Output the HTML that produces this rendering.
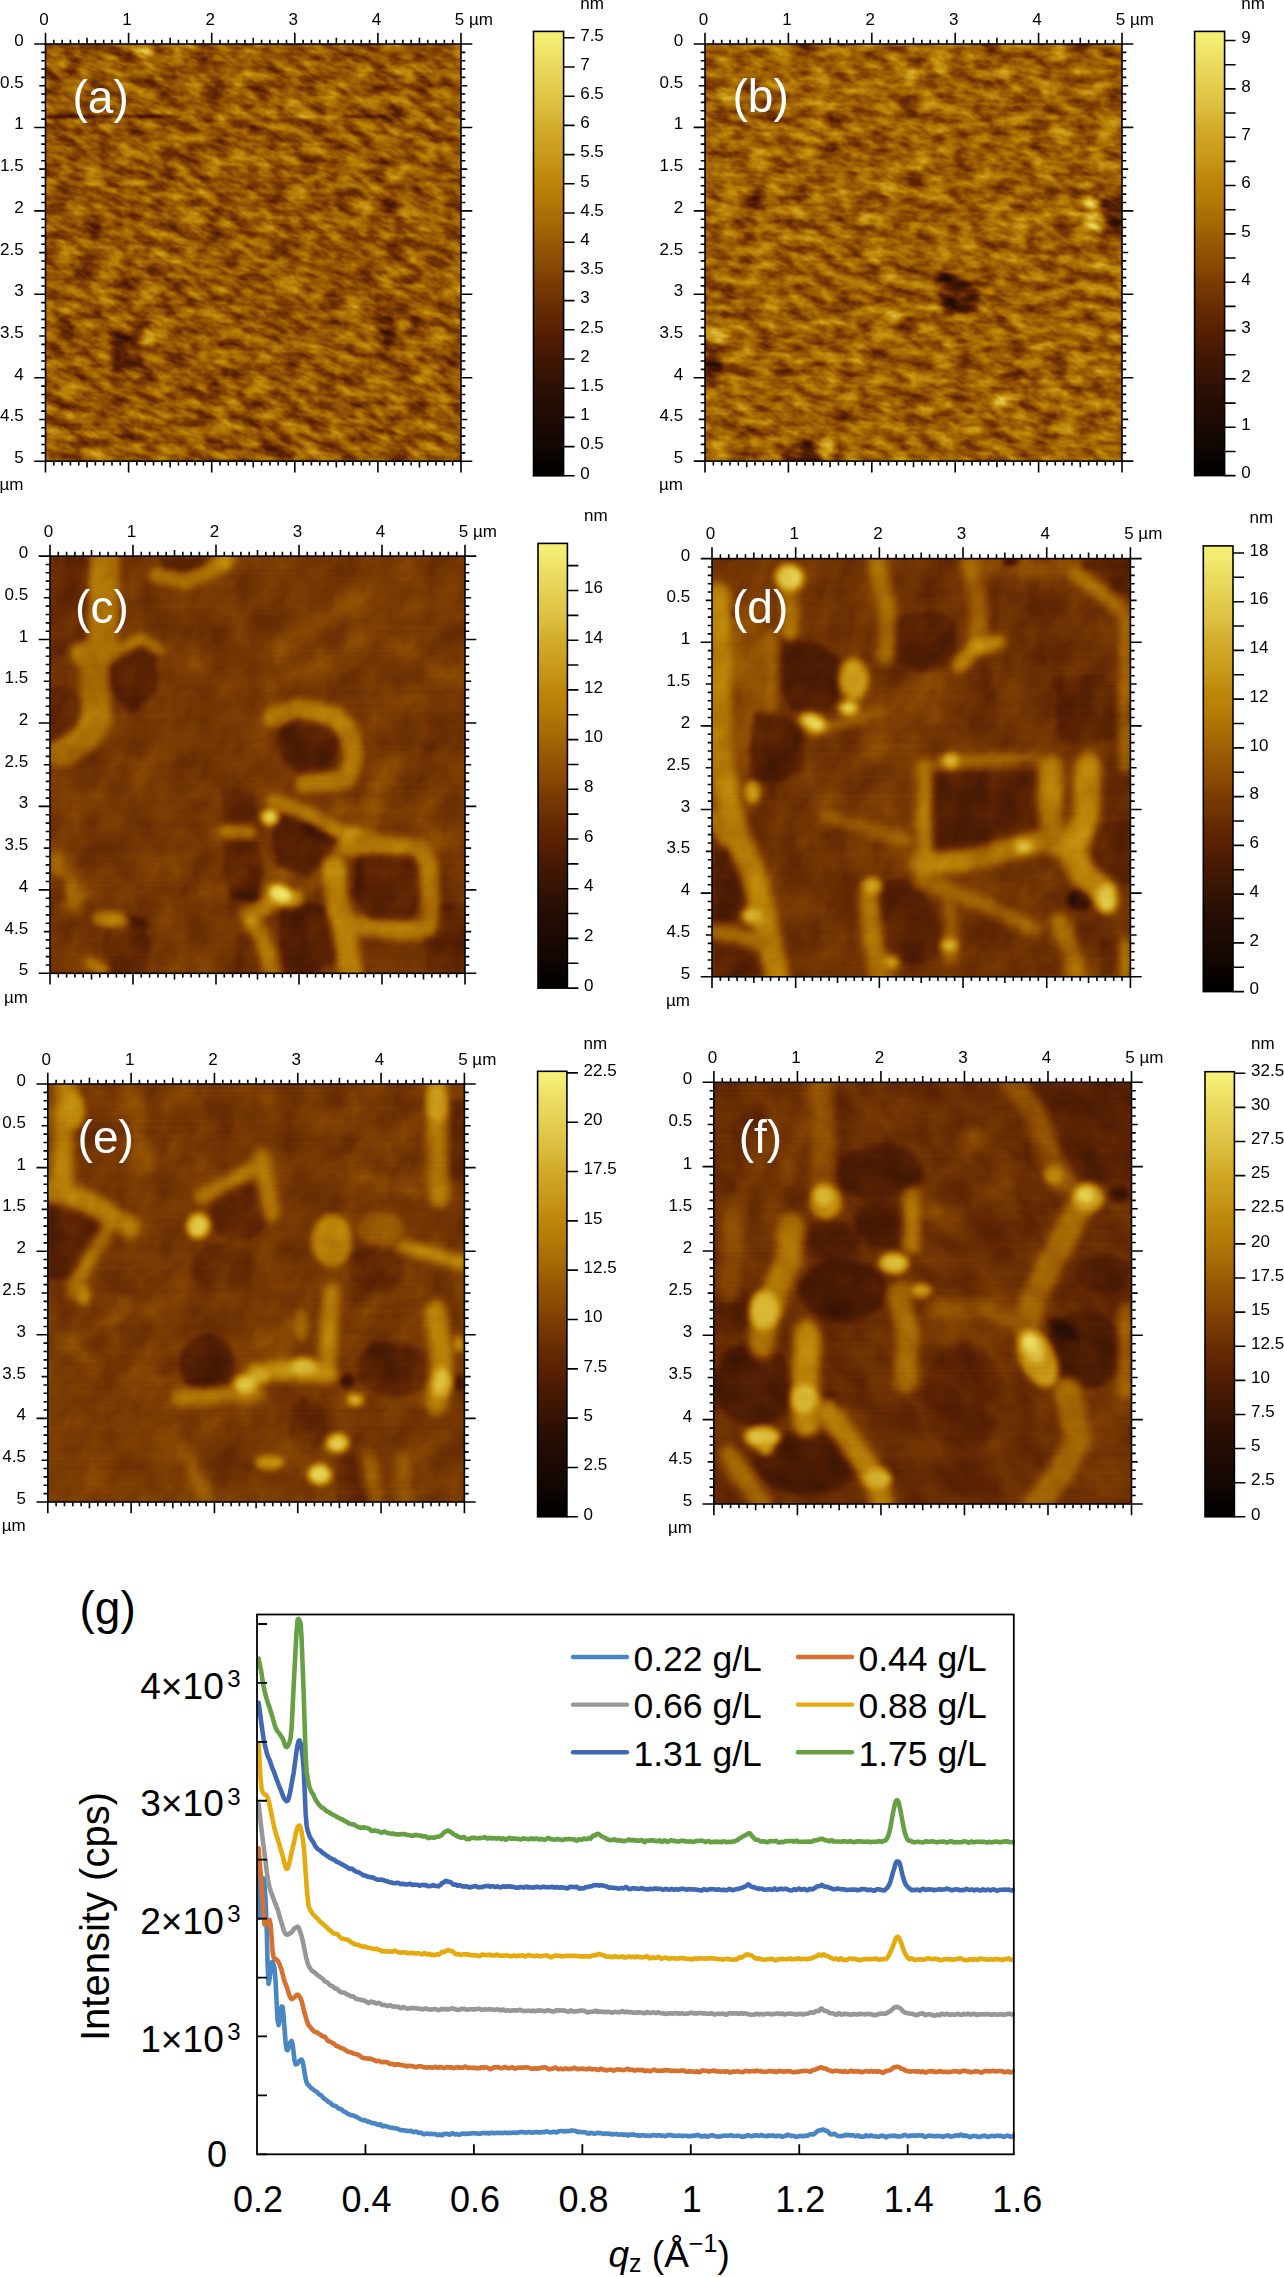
<!DOCTYPE html>
<html><head><meta charset="utf-8"><title>Figure</title>
<style>html,body{margin:0;padding:0;background:#fff;width:1284px;height:2277px;overflow:hidden}svg{display:block}</style>
</head><body>
<svg width="1284" height="2277" viewBox="0 0 1284 2277" font-family="Liberation Sans, sans-serif">
<defs><filter id="af_a" filterUnits="userSpaceOnUse" x="15.5" y="14" width="475.5" height="477.2" color-interpolation-filters="sRGB"><feTurbulence type="fractalNoise" baseFrequency="0.004 0.3" numOctaves="1" seed="11" result="t0"/><feColorMatrix in="t0" type="matrix" values="1 0 0 0 0 1 0 0 0 0 1 0 0 0 0 0 0 0 0 1" result="n0"/><feComposite in="SourceGraphic" in2="n0" operator="arithmetic" k1="0" k2="1" k3="0.08" k4="-0.04" result="h0"/><feComponentTransfer in="h0"><feFuncR type="table" tableValues="0.0000 0.0314 0.0588 0.0863 0.1137 0.1412 0.1647 0.2000 0.2431 0.2824 0.3216 0.3647 0.4039 0.4431 0.4863 0.5255 0.5647 0.6039 0.6392 0.6706 0.7059 0.7333 0.7608 0.7843 0.8078 0.8275 0.8510 0.8706 0.8902 0.9098 0.9294 0.9451 0.9647"/><feFuncG type="table" tableValues="0.0000 0.0118 0.0235 0.0314 0.0431 0.0510 0.0588 0.0706 0.0863 0.1020 0.1176 0.1412 0.1725 0.2039 0.2392 0.2745 0.3176 0.3608 0.4000 0.4392 0.4784 0.5176 0.5569 0.5961 0.6353 0.6784 0.7176 0.7608 0.8000 0.8392 0.8745 0.9098 0.9451"/><feFuncB type="table" tableValues="0.0000 0.0039 0.0078 0.0157 0.0157 0.0157 0.0157 0.0157 0.0157 0.0118 0.0118 0.0118 0.0118 0.0118 0.0118 0.0118 0.0118 0.0157 0.0157 0.0235 0.0275 0.0353 0.0667 0.0941 0.1255 0.1725 0.2157 0.2627 0.3059 0.3490 0.3882 0.4314 0.4706"/><feFuncA type="linear" slope="0" intercept="1"/></feComponentTransfer></filter>
<clipPath id="ac_a"><rect x="45.5" y="44" width="415.5" height="417.2"/></clipPath>
<filter id="ab_a_0" x="-50%" y="-50%" width="200%" height="200%" color-interpolation-filters="sRGB"><feGaussianBlur stdDeviation="3"/></filter>
<filter id="ab_a_1" x="-50%" y="-50%" width="200%" height="200%" color-interpolation-filters="sRGB"><feGaussianBlur stdDeviation="3"/></filter>
<filter id="ab_a_2" x="-50%" y="-50%" width="200%" height="200%" color-interpolation-filters="sRGB"><feGaussianBlur stdDeviation="1"/></filter>
<filter id="gn_a" filterUnits="userSpaceOnUse" x="-76.2" y="-76.8" width="658.8" height="658.8" color-interpolation-filters="sRGB"><feTurbulence type="fractalNoise" baseFrequency="0.045 0.1" numOctaves="3" seed="3" result="t0"/><feColorMatrix in="t0" type="matrix" values="1 0 0 0 0 1 0 0 0 0 1 0 0 0 0 0 0 0 0 1" result="n0"/><feComposite in="SourceGraphic" in2="n0" operator="arithmetic" k1="0" k2="1" k3="0.6" k4="-0.3" result="h0"/></filter>
<filter id="af_b" filterUnits="userSpaceOnUse" x="675" y="14" width="477" height="477.1" color-interpolation-filters="sRGB"><feTurbulence type="fractalNoise" baseFrequency="0.004 0.3" numOctaves="1" seed="13" result="t0"/><feColorMatrix in="t0" type="matrix" values="1 0 0 0 0 1 0 0 0 0 1 0 0 0 0 0 0 0 0 1" result="n0"/><feComposite in="SourceGraphic" in2="n0" operator="arithmetic" k1="0" k2="1" k3="0.08" k4="-0.04" result="h0"/><feComponentTransfer in="h0"><feFuncR type="table" tableValues="0.0000 0.0314 0.0588 0.0863 0.1137 0.1412 0.1647 0.2000 0.2431 0.2824 0.3216 0.3647 0.4039 0.4431 0.4863 0.5255 0.5647 0.6039 0.6392 0.6706 0.7059 0.7333 0.7608 0.7843 0.8078 0.8275 0.8510 0.8706 0.8902 0.9098 0.9294 0.9451 0.9647"/><feFuncG type="table" tableValues="0.0000 0.0118 0.0235 0.0314 0.0431 0.0510 0.0588 0.0706 0.0863 0.1020 0.1176 0.1412 0.1725 0.2039 0.2392 0.2745 0.3176 0.3608 0.4000 0.4392 0.4784 0.5176 0.5569 0.5961 0.6353 0.6784 0.7176 0.7608 0.8000 0.8392 0.8745 0.9098 0.9451"/><feFuncB type="table" tableValues="0.0000 0.0039 0.0078 0.0157 0.0157 0.0157 0.0157 0.0157 0.0157 0.0118 0.0118 0.0118 0.0118 0.0118 0.0118 0.0118 0.0118 0.0157 0.0157 0.0235 0.0275 0.0353 0.0667 0.0941 0.1255 0.1725 0.2157 0.2627 0.3059 0.3490 0.3882 0.4314 0.4706"/><feFuncA type="linear" slope="0" intercept="1"/></feComponentTransfer></filter>
<clipPath id="ac_b"><rect x="705" y="44" width="417" height="417.1"/></clipPath>
<filter id="ab_b_0" x="-50%" y="-50%" width="200%" height="200%" color-interpolation-filters="sRGB"><feGaussianBlur stdDeviation="3"/></filter>
<filter id="ab_b_1" x="-50%" y="-50%" width="200%" height="200%" color-interpolation-filters="sRGB"><feGaussianBlur stdDeviation="3"/></filter>
<filter id="gn_b" filterUnits="userSpaceOnUse" x="583.6" y="-77.3" width="659.8" height="659.8" color-interpolation-filters="sRGB"><feTurbulence type="fractalNoise" baseFrequency="0.045 0.09" numOctaves="3" seed="5" result="t0"/><feColorMatrix in="t0" type="matrix" values="1 0 0 0 0 1 0 0 0 0 1 0 0 0 0 0 0 0 0 1" result="n0"/><feComposite in="SourceGraphic" in2="n0" operator="arithmetic" k1="0" k2="1" k3="0.6" k4="-0.3" result="h0"/></filter>
<filter id="af_c" filterUnits="userSpaceOnUse" x="20" y="526.1" width="475" height="477.2" color-interpolation-filters="sRGB"><feTurbulence type="fractalNoise" baseFrequency="0.004 0.4" numOctaves="1" seed="17" result="t0"/><feColorMatrix in="t0" type="matrix" values="1 0 0 0 0 1 0 0 0 0 1 0 0 0 0 0 0 0 0 1" result="n0"/><feComposite in="SourceGraphic" in2="n0" operator="arithmetic" k1="0" k2="1" k3="0.03" k4="-0.015" result="h0"/><feComponentTransfer in="h0"><feFuncR type="table" tableValues="0.0000 0.0314 0.0588 0.0863 0.1137 0.1412 0.1647 0.2000 0.2431 0.2824 0.3216 0.3647 0.4039 0.4431 0.4863 0.5255 0.5647 0.6039 0.6392 0.6706 0.7059 0.7333 0.7608 0.7843 0.8078 0.8275 0.8510 0.8706 0.8902 0.9098 0.9294 0.9451 0.9647"/><feFuncG type="table" tableValues="0.0000 0.0118 0.0235 0.0314 0.0431 0.0510 0.0588 0.0706 0.0863 0.1020 0.1176 0.1412 0.1725 0.2039 0.2392 0.2745 0.3176 0.3608 0.4000 0.4392 0.4784 0.5176 0.5569 0.5961 0.6353 0.6784 0.7176 0.7608 0.8000 0.8392 0.8745 0.9098 0.9451"/><feFuncB type="table" tableValues="0.0000 0.0039 0.0078 0.0157 0.0157 0.0157 0.0157 0.0157 0.0157 0.0118 0.0118 0.0118 0.0118 0.0118 0.0118 0.0118 0.0118 0.0157 0.0157 0.0235 0.0275 0.0353 0.0667 0.0941 0.1255 0.1725 0.2157 0.2627 0.3059 0.3490 0.3882 0.4314 0.4706"/><feFuncA type="linear" slope="0" intercept="1"/></feComponentTransfer></filter>
<clipPath id="ac_c"><rect x="50" y="556.1" width="415" height="417.2"/></clipPath>
<filter id="ab_c_0" x="-50%" y="-50%" width="200%" height="200%" color-interpolation-filters="sRGB"><feGaussianBlur stdDeviation="6"/></filter>
<filter id="ab_c_1" x="-50%" y="-50%" width="200%" height="200%" color-interpolation-filters="sRGB"><feGaussianBlur stdDeviation="2.5"/></filter>
<filter id="ab_c_2" x="-50%" y="-50%" width="200%" height="200%" color-interpolation-filters="sRGB"><feGaussianBlur stdDeviation="3"/></filter>
<filter id="ab_c_3" x="-50%" y="-50%" width="200%" height="200%" color-interpolation-filters="sRGB"><feGaussianBlur stdDeviation="3.5"/></filter>
<filter id="ab_c_4" x="-50%" y="-50%" width="200%" height="200%" color-interpolation-filters="sRGB"><feGaussianBlur stdDeviation="3"/></filter>
<filter id="gn_c" filterUnits="userSpaceOnUse" x="-71.7" y="435.5" width="658.5" height="658.5" color-interpolation-filters="sRGB"><feTurbulence type="fractalNoise" baseFrequency="0.035 0.025" numOctaves="3" seed="7" result="t0"/><feColorMatrix in="t0" type="matrix" values="1 0 0 0 0 1 0 0 0 0 1 0 0 0 0 0 0 0 0 1" result="n0"/><feComposite in="SourceGraphic" in2="n0" operator="arithmetic" k1="0" k2="1" k3="0.16" k4="-0.08" result="h0"/></filter>
<filter id="af_d" filterUnits="userSpaceOnUse" x="682" y="528.6" width="478.4" height="478.2" color-interpolation-filters="sRGB"><feTurbulence type="fractalNoise" baseFrequency="0.004 0.4" numOctaves="1" seed="19" result="t0"/><feColorMatrix in="t0" type="matrix" values="1 0 0 0 0 1 0 0 0 0 1 0 0 0 0 0 0 0 0 1" result="n0"/><feComposite in="SourceGraphic" in2="n0" operator="arithmetic" k1="0" k2="1" k3="0.03" k4="-0.015" result="h0"/><feComponentTransfer in="h0"><feFuncR type="table" tableValues="0.0000 0.0314 0.0588 0.0863 0.1137 0.1412 0.1647 0.2000 0.2431 0.2824 0.3216 0.3647 0.4039 0.4431 0.4863 0.5255 0.5647 0.6039 0.6392 0.6706 0.7059 0.7333 0.7608 0.7843 0.8078 0.8275 0.8510 0.8706 0.8902 0.9098 0.9294 0.9451 0.9647"/><feFuncG type="table" tableValues="0.0000 0.0118 0.0235 0.0314 0.0431 0.0510 0.0588 0.0706 0.0863 0.1020 0.1176 0.1412 0.1725 0.2039 0.2392 0.2745 0.3176 0.3608 0.4000 0.4392 0.4784 0.5176 0.5569 0.5961 0.6353 0.6784 0.7176 0.7608 0.8000 0.8392 0.8745 0.9098 0.9451"/><feFuncB type="table" tableValues="0.0000 0.0039 0.0078 0.0157 0.0157 0.0157 0.0157 0.0157 0.0157 0.0118 0.0118 0.0118 0.0118 0.0118 0.0118 0.0118 0.0118 0.0157 0.0157 0.0235 0.0275 0.0353 0.0667 0.0941 0.1255 0.1725 0.2157 0.2627 0.3059 0.3490 0.3882 0.4314 0.4706"/><feFuncA type="linear" slope="0" intercept="1"/></feComponentTransfer></filter>
<clipPath id="ac_d"><rect x="712" y="558.6" width="418.4" height="418.2"/></clipPath>
<filter id="ab_d_0" x="-50%" y="-50%" width="200%" height="200%" color-interpolation-filters="sRGB"><feGaussianBlur stdDeviation="8"/></filter>
<filter id="ab_d_1" x="-50%" y="-50%" width="200%" height="200%" color-interpolation-filters="sRGB"><feGaussianBlur stdDeviation="2.5"/></filter>
<filter id="ab_d_2" x="-50%" y="-50%" width="200%" height="200%" color-interpolation-filters="sRGB"><feGaussianBlur stdDeviation="4"/></filter>
<filter id="ab_d_3" x="-50%" y="-50%" width="200%" height="200%" color-interpolation-filters="sRGB"><feGaussianBlur stdDeviation="3.5"/></filter>
<filter id="gn_d" filterUnits="userSpaceOnUse" x="590.4" y="436.9" width="661.6" height="661.6" color-interpolation-filters="sRGB"><feTurbulence type="fractalNoise" baseFrequency="0.035 0.025" numOctaves="3" seed="9" result="t0"/><feColorMatrix in="t0" type="matrix" values="1 0 0 0 0 1 0 0 0 0 1 0 0 0 0 0 0 0 0 1" result="n0"/><feComposite in="SourceGraphic" in2="n0" operator="arithmetic" k1="0" k2="1" k3="0.16" k4="-0.08" result="h0"/></filter>
<filter id="af_e" filterUnits="userSpaceOnUse" x="17.8" y="1054" width="476.6" height="478" color-interpolation-filters="sRGB"><feTurbulence type="fractalNoise" baseFrequency="0.004 0.4" numOctaves="1" seed="23" result="t0"/><feColorMatrix in="t0" type="matrix" values="1 0 0 0 0 1 0 0 0 0 1 0 0 0 0 0 0 0 0 1" result="n0"/><feComposite in="SourceGraphic" in2="n0" operator="arithmetic" k1="0" k2="1" k3="0.03" k4="-0.015" result="h0"/><feComponentTransfer in="h0"><feFuncR type="table" tableValues="0.0000 0.0314 0.0588 0.0863 0.1137 0.1412 0.1647 0.2000 0.2431 0.2824 0.3216 0.3647 0.4039 0.4431 0.4863 0.5255 0.5647 0.6039 0.6392 0.6706 0.7059 0.7333 0.7608 0.7843 0.8078 0.8275 0.8510 0.8706 0.8902 0.9098 0.9294 0.9451 0.9647"/><feFuncG type="table" tableValues="0.0000 0.0118 0.0235 0.0314 0.0431 0.0510 0.0588 0.0706 0.0863 0.1020 0.1176 0.1412 0.1725 0.2039 0.2392 0.2745 0.3176 0.3608 0.4000 0.4392 0.4784 0.5176 0.5569 0.5961 0.6353 0.6784 0.7176 0.7608 0.8000 0.8392 0.8745 0.9098 0.9451"/><feFuncB type="table" tableValues="0.0000 0.0039 0.0078 0.0157 0.0157 0.0157 0.0157 0.0157 0.0157 0.0118 0.0118 0.0118 0.0118 0.0118 0.0118 0.0118 0.0118 0.0157 0.0157 0.0235 0.0275 0.0353 0.0667 0.0941 0.1255 0.1725 0.2157 0.2627 0.3059 0.3490 0.3882 0.4314 0.4706"/><feFuncA type="linear" slope="0" intercept="1"/></feComponentTransfer></filter>
<clipPath id="ac_e"><rect x="47.8" y="1084" width="416.6" height="418"/></clipPath>
<filter id="ab_e_0" x="-50%" y="-50%" width="200%" height="200%" color-interpolation-filters="sRGB"><feGaussianBlur stdDeviation="6"/></filter>
<filter id="ab_e_1" x="-50%" y="-50%" width="200%" height="200%" color-interpolation-filters="sRGB"><feGaussianBlur stdDeviation="2.5"/></filter>
<filter id="ab_e_2" x="-50%" y="-50%" width="200%" height="200%" color-interpolation-filters="sRGB"><feGaussianBlur stdDeviation="3"/></filter>
<filter id="ab_e_3" x="-50%" y="-50%" width="200%" height="200%" color-interpolation-filters="sRGB"><feGaussianBlur stdDeviation="4"/></filter>
<filter id="ab_e_4" x="-50%" y="-50%" width="200%" height="200%" color-interpolation-filters="sRGB"><feGaussianBlur stdDeviation="3"/></filter>
<filter id="gn_e" filterUnits="userSpaceOnUse" x="-74" y="962.9" width="660.2" height="660.2" color-interpolation-filters="sRGB"><feTurbulence type="fractalNoise" baseFrequency="0.035 0.025" numOctaves="3" seed="21" result="t0"/><feColorMatrix in="t0" type="matrix" values="1 0 0 0 0 1 0 0 0 0 1 0 0 0 0 0 0 0 0 1" result="n0"/><feComposite in="SourceGraphic" in2="n0" operator="arithmetic" k1="0" k2="1" k3="0.16" k4="-0.08" result="h0"/></filter>
<filter id="af_f" filterUnits="userSpaceOnUse" x="683.9" y="1052.3" width="477.6" height="481.7" color-interpolation-filters="sRGB"><feTurbulence type="fractalNoise" baseFrequency="0.004 0.4" numOctaves="1" seed="27" result="t0"/><feColorMatrix in="t0" type="matrix" values="1 0 0 0 0 1 0 0 0 0 1 0 0 0 0 0 0 0 0 1" result="n0"/><feComposite in="SourceGraphic" in2="n0" operator="arithmetic" k1="0" k2="1" k3="0.03" k4="-0.015" result="h0"/><feComponentTransfer in="h0"><feFuncR type="table" tableValues="0.0000 0.0314 0.0588 0.0863 0.1137 0.1412 0.1647 0.2000 0.2431 0.2824 0.3216 0.3647 0.4039 0.4431 0.4863 0.5255 0.5647 0.6039 0.6392 0.6706 0.7059 0.7333 0.7608 0.7843 0.8078 0.8275 0.8510 0.8706 0.8902 0.9098 0.9294 0.9451 0.9647"/><feFuncG type="table" tableValues="0.0000 0.0118 0.0235 0.0314 0.0431 0.0510 0.0588 0.0706 0.0863 0.1020 0.1176 0.1412 0.1725 0.2039 0.2392 0.2745 0.3176 0.3608 0.4000 0.4392 0.4784 0.5176 0.5569 0.5961 0.6353 0.6784 0.7176 0.7608 0.8000 0.8392 0.8745 0.9098 0.9451"/><feFuncB type="table" tableValues="0.0000 0.0039 0.0078 0.0157 0.0157 0.0157 0.0157 0.0157 0.0157 0.0118 0.0118 0.0118 0.0118 0.0118 0.0118 0.0118 0.0118 0.0157 0.0157 0.0235 0.0275 0.0353 0.0667 0.0941 0.1255 0.1725 0.2157 0.2627 0.3059 0.3490 0.3882 0.4314 0.4706"/><feFuncA type="linear" slope="0" intercept="1"/></feComponentTransfer></filter>
<clipPath id="ac_f"><rect x="713.9" y="1082.3" width="417.6" height="421.7"/></clipPath>
<filter id="ab_f_0" x="-50%" y="-50%" width="200%" height="200%" color-interpolation-filters="sRGB"><feGaussianBlur stdDeviation="6"/></filter>
<filter id="ab_f_1" x="-50%" y="-50%" width="200%" height="200%" color-interpolation-filters="sRGB"><feGaussianBlur stdDeviation="3"/></filter>
<filter id="ab_f_2" x="-50%" y="-50%" width="200%" height="200%" color-interpolation-filters="sRGB"><feGaussianBlur stdDeviation="4"/></filter>
<filter id="ab_f_3" x="-50%" y="-50%" width="200%" height="200%" color-interpolation-filters="sRGB"><feGaussianBlur stdDeviation="3"/></filter>
<filter id="gn_f" filterUnits="userSpaceOnUse" x="591" y="961.4" width="663.5" height="663.5" color-interpolation-filters="sRGB"><feTurbulence type="fractalNoise" baseFrequency="0.035 0.025" numOctaves="3" seed="25" result="t0"/><feColorMatrix in="t0" type="matrix" values="1 0 0 0 0 1 0 0 0 0 1 0 0 0 0 0 0 0 0 1" result="n0"/><feComposite in="SourceGraphic" in2="n0" operator="arithmetic" k1="0" k2="1" k3="0.14" k4="-0.07" result="h0"/></filter>
<linearGradient id="cg_a" x1="0" y1="0" x2="0" y2="1"><stop offset="0" stop-color="rgb(246,241,120)"/><stop offset="0.03" stop-color="rgb(242,234,112)"/><stop offset="0.05" stop-color="rgb(238,226,103)"/><stop offset="0.07" stop-color="rgb(235,219,95)"/><stop offset="0.1" stop-color="rgb(231,212,87)"/><stop offset="0.12" stop-color="rgb(227,204,78)"/><stop offset="0.15" stop-color="rgb(223,196,69)"/><stop offset="0.18" stop-color="rgb(219,187,60)"/><stop offset="0.2" stop-color="rgb(214,179,50)"/><stop offset="0.22" stop-color="rgb(210,170,41)"/><stop offset="0.25" stop-color="rgb(206,162,32)"/><stop offset="0.28" stop-color="rgb(201,154,26)"/><stop offset="0.3" stop-color="rgb(196,146,20)"/><stop offset="0.32" stop-color="rgb(191,138,14)"/><stop offset="0.35" stop-color="rgb(186,130,8)"/><stop offset="0.38" stop-color="rgb(180,122,7)"/><stop offset="0.4" stop-color="rgb(173,114,6)"/><stop offset="0.43" stop-color="rgb(166,106,5)"/><stop offset="0.45" stop-color="rgb(160,98,4)"/><stop offset="0.47" stop-color="rgb(152,90,4)"/><stop offset="0.5" stop-color="rgb(144,81,3)"/><stop offset="0.53" stop-color="rgb(136,72,3)"/><stop offset="0.55" stop-color="rgb(128,64,3)"/><stop offset="0.57" stop-color="rgb(120,57,3)"/><stop offset="0.6" stop-color="rgb(111,51,3)"/><stop offset="0.62" stop-color="rgb(103,44,3)"/><stop offset="0.65" stop-color="rgb(95,37,3)"/><stop offset="0.68" stop-color="rgb(86,31,3)"/><stop offset="0.7" stop-color="rgb(78,28,3)"/><stop offset="0.72" stop-color="rgb(70,25,3)"/><stop offset="0.75" stop-color="rgb(62,22,4)"/><stop offset="0.78" stop-color="rgb(53,19,4)"/><stop offset="0.8" stop-color="rgb(45,16,4)"/><stop offset="0.82" stop-color="rgb(40,14,4)"/><stop offset="0.85" stop-color="rgb(34,12,4)"/><stop offset="0.88" stop-color="rgb(29,11,4)"/><stop offset="0.9" stop-color="rgb(24,9,4)"/><stop offset="0.93" stop-color="rgb(18,7,3)"/><stop offset="0.95" stop-color="rgb(12,4,2)"/><stop offset="0.97" stop-color="rgb(6,2,1)"/><stop offset="1" stop-color="rgb(0,0,0)"/></linearGradient>
<linearGradient id="cg_b" x1="0" y1="0" x2="0" y2="1"><stop offset="0" stop-color="rgb(246,241,120)"/><stop offset="0.03" stop-color="rgb(242,234,112)"/><stop offset="0.05" stop-color="rgb(238,226,103)"/><stop offset="0.07" stop-color="rgb(235,219,95)"/><stop offset="0.1" stop-color="rgb(231,212,87)"/><stop offset="0.12" stop-color="rgb(227,204,78)"/><stop offset="0.15" stop-color="rgb(223,196,69)"/><stop offset="0.18" stop-color="rgb(219,187,60)"/><stop offset="0.2" stop-color="rgb(214,179,50)"/><stop offset="0.22" stop-color="rgb(210,170,41)"/><stop offset="0.25" stop-color="rgb(206,162,32)"/><stop offset="0.28" stop-color="rgb(201,154,26)"/><stop offset="0.3" stop-color="rgb(196,146,20)"/><stop offset="0.32" stop-color="rgb(191,138,14)"/><stop offset="0.35" stop-color="rgb(186,130,8)"/><stop offset="0.38" stop-color="rgb(180,122,7)"/><stop offset="0.4" stop-color="rgb(173,114,6)"/><stop offset="0.43" stop-color="rgb(166,106,5)"/><stop offset="0.45" stop-color="rgb(160,98,4)"/><stop offset="0.47" stop-color="rgb(152,90,4)"/><stop offset="0.5" stop-color="rgb(144,81,3)"/><stop offset="0.53" stop-color="rgb(136,72,3)"/><stop offset="0.55" stop-color="rgb(128,64,3)"/><stop offset="0.57" stop-color="rgb(120,57,3)"/><stop offset="0.6" stop-color="rgb(111,51,3)"/><stop offset="0.62" stop-color="rgb(103,44,3)"/><stop offset="0.65" stop-color="rgb(95,37,3)"/><stop offset="0.68" stop-color="rgb(86,31,3)"/><stop offset="0.7" stop-color="rgb(78,28,3)"/><stop offset="0.72" stop-color="rgb(70,25,3)"/><stop offset="0.75" stop-color="rgb(62,22,4)"/><stop offset="0.78" stop-color="rgb(53,19,4)"/><stop offset="0.8" stop-color="rgb(45,16,4)"/><stop offset="0.82" stop-color="rgb(40,14,4)"/><stop offset="0.85" stop-color="rgb(34,12,4)"/><stop offset="0.88" stop-color="rgb(29,11,4)"/><stop offset="0.9" stop-color="rgb(24,9,4)"/><stop offset="0.93" stop-color="rgb(18,7,3)"/><stop offset="0.95" stop-color="rgb(12,4,2)"/><stop offset="0.97" stop-color="rgb(6,2,1)"/><stop offset="1" stop-color="rgb(0,0,0)"/></linearGradient>
<linearGradient id="cg_c" x1="0" y1="0" x2="0" y2="1"><stop offset="0" stop-color="rgb(246,241,120)"/><stop offset="0.03" stop-color="rgb(242,234,112)"/><stop offset="0.05" stop-color="rgb(238,226,103)"/><stop offset="0.07" stop-color="rgb(235,219,95)"/><stop offset="0.1" stop-color="rgb(231,212,87)"/><stop offset="0.12" stop-color="rgb(227,204,78)"/><stop offset="0.15" stop-color="rgb(223,196,69)"/><stop offset="0.18" stop-color="rgb(219,187,60)"/><stop offset="0.2" stop-color="rgb(214,179,50)"/><stop offset="0.22" stop-color="rgb(210,170,41)"/><stop offset="0.25" stop-color="rgb(206,162,32)"/><stop offset="0.28" stop-color="rgb(201,154,26)"/><stop offset="0.3" stop-color="rgb(196,146,20)"/><stop offset="0.32" stop-color="rgb(191,138,14)"/><stop offset="0.35" stop-color="rgb(186,130,8)"/><stop offset="0.38" stop-color="rgb(180,122,7)"/><stop offset="0.4" stop-color="rgb(173,114,6)"/><stop offset="0.43" stop-color="rgb(166,106,5)"/><stop offset="0.45" stop-color="rgb(160,98,4)"/><stop offset="0.47" stop-color="rgb(152,90,4)"/><stop offset="0.5" stop-color="rgb(144,81,3)"/><stop offset="0.53" stop-color="rgb(136,72,3)"/><stop offset="0.55" stop-color="rgb(128,64,3)"/><stop offset="0.57" stop-color="rgb(120,57,3)"/><stop offset="0.6" stop-color="rgb(111,51,3)"/><stop offset="0.62" stop-color="rgb(103,44,3)"/><stop offset="0.65" stop-color="rgb(95,37,3)"/><stop offset="0.68" stop-color="rgb(86,31,3)"/><stop offset="0.7" stop-color="rgb(78,28,3)"/><stop offset="0.72" stop-color="rgb(70,25,3)"/><stop offset="0.75" stop-color="rgb(62,22,4)"/><stop offset="0.78" stop-color="rgb(53,19,4)"/><stop offset="0.8" stop-color="rgb(45,16,4)"/><stop offset="0.82" stop-color="rgb(40,14,4)"/><stop offset="0.85" stop-color="rgb(34,12,4)"/><stop offset="0.88" stop-color="rgb(29,11,4)"/><stop offset="0.9" stop-color="rgb(24,9,4)"/><stop offset="0.93" stop-color="rgb(18,7,3)"/><stop offset="0.95" stop-color="rgb(12,4,2)"/><stop offset="0.97" stop-color="rgb(6,2,1)"/><stop offset="1" stop-color="rgb(0,0,0)"/></linearGradient>
<linearGradient id="cg_d" x1="0" y1="0" x2="0" y2="1"><stop offset="0" stop-color="rgb(246,241,120)"/><stop offset="0.03" stop-color="rgb(242,234,112)"/><stop offset="0.05" stop-color="rgb(238,226,103)"/><stop offset="0.07" stop-color="rgb(235,219,95)"/><stop offset="0.1" stop-color="rgb(231,212,87)"/><stop offset="0.12" stop-color="rgb(227,204,78)"/><stop offset="0.15" stop-color="rgb(223,196,69)"/><stop offset="0.18" stop-color="rgb(219,187,60)"/><stop offset="0.2" stop-color="rgb(214,179,50)"/><stop offset="0.22" stop-color="rgb(210,170,41)"/><stop offset="0.25" stop-color="rgb(206,162,32)"/><stop offset="0.28" stop-color="rgb(201,154,26)"/><stop offset="0.3" stop-color="rgb(196,146,20)"/><stop offset="0.32" stop-color="rgb(191,138,14)"/><stop offset="0.35" stop-color="rgb(186,130,8)"/><stop offset="0.38" stop-color="rgb(180,122,7)"/><stop offset="0.4" stop-color="rgb(173,114,6)"/><stop offset="0.43" stop-color="rgb(166,106,5)"/><stop offset="0.45" stop-color="rgb(160,98,4)"/><stop offset="0.47" stop-color="rgb(152,90,4)"/><stop offset="0.5" stop-color="rgb(144,81,3)"/><stop offset="0.53" stop-color="rgb(136,72,3)"/><stop offset="0.55" stop-color="rgb(128,64,3)"/><stop offset="0.57" stop-color="rgb(120,57,3)"/><stop offset="0.6" stop-color="rgb(111,51,3)"/><stop offset="0.62" stop-color="rgb(103,44,3)"/><stop offset="0.65" stop-color="rgb(95,37,3)"/><stop offset="0.68" stop-color="rgb(86,31,3)"/><stop offset="0.7" stop-color="rgb(78,28,3)"/><stop offset="0.72" stop-color="rgb(70,25,3)"/><stop offset="0.75" stop-color="rgb(62,22,4)"/><stop offset="0.78" stop-color="rgb(53,19,4)"/><stop offset="0.8" stop-color="rgb(45,16,4)"/><stop offset="0.82" stop-color="rgb(40,14,4)"/><stop offset="0.85" stop-color="rgb(34,12,4)"/><stop offset="0.88" stop-color="rgb(29,11,4)"/><stop offset="0.9" stop-color="rgb(24,9,4)"/><stop offset="0.93" stop-color="rgb(18,7,3)"/><stop offset="0.95" stop-color="rgb(12,4,2)"/><stop offset="0.97" stop-color="rgb(6,2,1)"/><stop offset="1" stop-color="rgb(0,0,0)"/></linearGradient>
<linearGradient id="cg_e" x1="0" y1="0" x2="0" y2="1"><stop offset="0" stop-color="rgb(246,241,120)"/><stop offset="0.03" stop-color="rgb(242,234,112)"/><stop offset="0.05" stop-color="rgb(238,226,103)"/><stop offset="0.07" stop-color="rgb(235,219,95)"/><stop offset="0.1" stop-color="rgb(231,212,87)"/><stop offset="0.12" stop-color="rgb(227,204,78)"/><stop offset="0.15" stop-color="rgb(223,196,69)"/><stop offset="0.18" stop-color="rgb(219,187,60)"/><stop offset="0.2" stop-color="rgb(214,179,50)"/><stop offset="0.22" stop-color="rgb(210,170,41)"/><stop offset="0.25" stop-color="rgb(206,162,32)"/><stop offset="0.28" stop-color="rgb(201,154,26)"/><stop offset="0.3" stop-color="rgb(196,146,20)"/><stop offset="0.32" stop-color="rgb(191,138,14)"/><stop offset="0.35" stop-color="rgb(186,130,8)"/><stop offset="0.38" stop-color="rgb(180,122,7)"/><stop offset="0.4" stop-color="rgb(173,114,6)"/><stop offset="0.43" stop-color="rgb(166,106,5)"/><stop offset="0.45" stop-color="rgb(160,98,4)"/><stop offset="0.47" stop-color="rgb(152,90,4)"/><stop offset="0.5" stop-color="rgb(144,81,3)"/><stop offset="0.53" stop-color="rgb(136,72,3)"/><stop offset="0.55" stop-color="rgb(128,64,3)"/><stop offset="0.57" stop-color="rgb(120,57,3)"/><stop offset="0.6" stop-color="rgb(111,51,3)"/><stop offset="0.62" stop-color="rgb(103,44,3)"/><stop offset="0.65" stop-color="rgb(95,37,3)"/><stop offset="0.68" stop-color="rgb(86,31,3)"/><stop offset="0.7" stop-color="rgb(78,28,3)"/><stop offset="0.72" stop-color="rgb(70,25,3)"/><stop offset="0.75" stop-color="rgb(62,22,4)"/><stop offset="0.78" stop-color="rgb(53,19,4)"/><stop offset="0.8" stop-color="rgb(45,16,4)"/><stop offset="0.82" stop-color="rgb(40,14,4)"/><stop offset="0.85" stop-color="rgb(34,12,4)"/><stop offset="0.88" stop-color="rgb(29,11,4)"/><stop offset="0.9" stop-color="rgb(24,9,4)"/><stop offset="0.93" stop-color="rgb(18,7,3)"/><stop offset="0.95" stop-color="rgb(12,4,2)"/><stop offset="0.97" stop-color="rgb(6,2,1)"/><stop offset="1" stop-color="rgb(0,0,0)"/></linearGradient>
<linearGradient id="cg_f" x1="0" y1="0" x2="0" y2="1"><stop offset="0" stop-color="rgb(246,241,120)"/><stop offset="0.03" stop-color="rgb(242,234,112)"/><stop offset="0.05" stop-color="rgb(238,226,103)"/><stop offset="0.07" stop-color="rgb(235,219,95)"/><stop offset="0.1" stop-color="rgb(231,212,87)"/><stop offset="0.12" stop-color="rgb(227,204,78)"/><stop offset="0.15" stop-color="rgb(223,196,69)"/><stop offset="0.18" stop-color="rgb(219,187,60)"/><stop offset="0.2" stop-color="rgb(214,179,50)"/><stop offset="0.22" stop-color="rgb(210,170,41)"/><stop offset="0.25" stop-color="rgb(206,162,32)"/><stop offset="0.28" stop-color="rgb(201,154,26)"/><stop offset="0.3" stop-color="rgb(196,146,20)"/><stop offset="0.32" stop-color="rgb(191,138,14)"/><stop offset="0.35" stop-color="rgb(186,130,8)"/><stop offset="0.38" stop-color="rgb(180,122,7)"/><stop offset="0.4" stop-color="rgb(173,114,6)"/><stop offset="0.43" stop-color="rgb(166,106,5)"/><stop offset="0.45" stop-color="rgb(160,98,4)"/><stop offset="0.47" stop-color="rgb(152,90,4)"/><stop offset="0.5" stop-color="rgb(144,81,3)"/><stop offset="0.53" stop-color="rgb(136,72,3)"/><stop offset="0.55" stop-color="rgb(128,64,3)"/><stop offset="0.57" stop-color="rgb(120,57,3)"/><stop offset="0.6" stop-color="rgb(111,51,3)"/><stop offset="0.62" stop-color="rgb(103,44,3)"/><stop offset="0.65" stop-color="rgb(95,37,3)"/><stop offset="0.68" stop-color="rgb(86,31,3)"/><stop offset="0.7" stop-color="rgb(78,28,3)"/><stop offset="0.72" stop-color="rgb(70,25,3)"/><stop offset="0.75" stop-color="rgb(62,22,4)"/><stop offset="0.78" stop-color="rgb(53,19,4)"/><stop offset="0.8" stop-color="rgb(45,16,4)"/><stop offset="0.82" stop-color="rgb(40,14,4)"/><stop offset="0.85" stop-color="rgb(34,12,4)"/><stop offset="0.88" stop-color="rgb(29,11,4)"/><stop offset="0.9" stop-color="rgb(24,9,4)"/><stop offset="0.93" stop-color="rgb(18,7,3)"/><stop offset="0.95" stop-color="rgb(12,4,2)"/><stop offset="0.97" stop-color="rgb(6,2,1)"/><stop offset="1" stop-color="rgb(0,0,0)"/></linearGradient>
<clipPath id="chclip"><rect x="257.9" y="1614.5" width="756.8" height="539.8000000000002"/></clipPath></defs>
<rect width="100%" height="100%" fill="#fff"/>
<g clip-path="url(#ac_a)"><g filter="url(#af_a)"><g transform="rotate(18 253.2 252.6)"><g filter="url(#gn_a)"><g transform="rotate(-18 253.2 252.6)"><rect x="-86.2" y="-86.8" width="678.8" height="678.8" fill="rgb(131,131,131)"/><rect x="15.5" y="14" width="475.5" height="477.2" fill="rgb(131,131,131)"/>
<g filter="url(#ab_a_0)"><polygon points="111.4,334 139,332.4 142.2,364.8 114.7,371.2" fill="rgb(71,71,71)"/><ellipse cx="386.8" cy="329.1" rx="11.3" ry="13" transform="rotate(0 386.8 329.1)" fill="rgb(92,92,92)"/><ellipse cx="381.9" cy="303.2" rx="8.1" ry="13" transform="rotate(0 381.9 303.2)" fill="rgb(102,102,102)"/><ellipse cx="271.8" cy="447.4" rx="16.2" ry="9.7" transform="rotate(0 271.8 447.4)" fill="rgb(102,102,102)"/><ellipse cx="70.9" cy="71.5" rx="8.1" ry="7.1" transform="rotate(0 70.9 71.5)" fill="rgb(102,102,102)"/><ellipse cx="153.5" cy="53.7" rx="9.1" ry="8.1" transform="rotate(0 153.5 53.7)" fill="rgb(102,102,102)"/><ellipse cx="184.3" cy="363.1" rx="9.7" ry="8.1" transform="rotate(0 184.3 363.1)" fill="rgb(107,107,107)"/><ellipse cx="220" cy="381" rx="8.1" ry="6.5" transform="rotate(0 220 381)" fill="rgb(107,107,107)"/><ellipse cx="90.4" cy="225.4" rx="9.7" ry="8.1" transform="rotate(0 90.4 225.4)" fill="rgb(107,107,107)"/><ellipse cx="297.7" cy="238.4" rx="9.7" ry="7.1" transform="rotate(0 297.7 238.4)" fill="rgb(107,107,107)"/></g>
<g filter="url(#ab_a_1)"><ellipse cx="148.7" cy="337.2" rx="7.1" ry="8.1" transform="rotate(0 148.7 337.2)" fill="rgb(199,199,199)"/><ellipse cx="143.8" cy="52.1" rx="7.1" ry="8.1" transform="rotate(0 143.8 52.1)" fill="rgb(194,194,194)"/><ellipse cx="292.9" cy="103.9" rx="6.5" ry="4.9" transform="rotate(0 292.9 103.9)" fill="rgb(194,194,194)"/><ellipse cx="330.1" cy="116.9" rx="5.8" ry="2.6" transform="rotate(0 330.1 116.9)" fill="rgb(217,217,217)"/><ellipse cx="187.6" cy="219" rx="4.9" ry="3.2" transform="rotate(0 187.6 219)" fill="rgb(189,189,189)"/><ellipse cx="278.3" cy="283.8" rx="5.8" ry="3.9" transform="rotate(0 278.3 283.8)" fill="rgb(184,184,184)"/><ellipse cx="203.8" cy="350.2" rx="4.9" ry="8.1" transform="rotate(0 203.8 350.2)" fill="rgb(184,184,184)"/></g>
<g filter="url(#ab_a_2)"><rect x="45" y="115.6" width="136.1" height="1.9" fill="rgb(56,56,56)"/><rect x="343.1" y="115.6" width="42.1" height="1.9" fill="rgb(61,61,61)"/><rect x="271.8" y="115.9" width="64.8" height="1.6" fill="rgb(184,184,184)"/></g></g></g></g></g></g>
<g clip-path="url(#ac_b)"><g filter="url(#af_b)"><g transform="rotate(12 913.5 252.6)"><g filter="url(#gn_b)"><g transform="rotate(-12 913.5 252.6)"><rect x="573.6" y="-87.3" width="679.8" height="679.8" fill="rgb(138,138,138)"/><rect x="675" y="14" width="477" height="477.1" fill="rgb(138,138,138)"/>
<g filter="url(#ab_b_0)"><polygon points="937.2,271.3 955.1,273 977.8,294.1 977.8,313.6 945.3,315.2 938.2,290.8" fill="rgb(71,71,71)"/><polygon points="1096.3,206.4 1107.7,196.6 1123.9,186.9 1123.9,235.6 1111,230.7" fill="rgb(69,69,69)"/><polygon points="705,336.3 718,346 724.5,360.6 711.5,381.8 705,381.8" fill="rgb(71,71,71)"/><polygon points="784.6,448.3 812.2,438.6 823.5,462.9 782.9,462.9" fill="rgb(84,84,84)"/><ellipse cx="1010.3" cy="372" rx="11.4" ry="9.1" transform="rotate(0 1010.3 372)" fill="rgb(102,102,102)"/><ellipse cx="757" cy="199.9" rx="9.7" ry="8.1" transform="rotate(0 757 199.9)" fill="rgb(107,107,107)"/><ellipse cx="841.4" cy="310.3" rx="8.1" ry="9.7" transform="rotate(0 841.4 310.3)" fill="rgb(107,107,107)"/></g>
<g filter="url(#ab_b_1)"><ellipse cx="1094.7" cy="222" rx="9.7" ry="9.7" transform="rotate(0 1094.7 222)" fill="rgb(209,209,209)"/><ellipse cx="1088.2" cy="202.5" rx="7.1" ry="5.8" transform="rotate(0 1088.2 202.5)" fill="rgb(199,199,199)"/><ellipse cx="828.4" cy="447.7" rx="7.1" ry="9.7" transform="rotate(0 828.4 447.7)" fill="rgb(209,209,209)"/><ellipse cx="910.3" cy="74.9" rx="7.8" ry="5.2" transform="rotate(0 910.3 74.9)" fill="rgb(204,204,204)"/><ellipse cx="1007" cy="74.9" rx="5.8" ry="4.5" transform="rotate(0 1007 74.9)" fill="rgb(194,194,194)"/><ellipse cx="714.7" cy="337.9" rx="11.4" ry="8.1" transform="rotate(0 714.7 337.9)" fill="rgb(189,189,189)"/><ellipse cx="891.7" cy="318.4" rx="7.1" ry="8.1" transform="rotate(0 891.7 318.4)" fill="rgb(194,194,194)"/><ellipse cx="864.1" cy="222" rx="5.8" ry="4.9" transform="rotate(0 864.1 222)" fill="rgb(189,189,189)"/><ellipse cx="1036.3" cy="165.8" rx="4.9" ry="5.8" transform="rotate(0 1036.3 165.8)" fill="rgb(189,189,189)"/><ellipse cx="1000.5" cy="401.2" rx="8.1" ry="5.8" transform="rotate(0 1000.5 401.2)" fill="rgb(189,189,189)"/><ellipse cx="1075.2" cy="352.5" rx="4.9" ry="3.9" transform="rotate(0 1075.2 352.5)" fill="rgb(189,189,189)"/></g></g></g></g></g></g>
<g clip-path="url(#ac_c)"><g filter="url(#af_c)"><g transform="rotate(20 257.5 764.7)"><g filter="url(#gn_c)"><g transform="rotate(-20 257.5 764.7)"><rect x="-81.7" y="425.5" width="678.5" height="678.5" fill="rgb(107,107,107)"/><rect x="20" y="526.1" width="475" height="477.2" fill="rgb(107,107,107)"/>
<g filter="url(#ab_c_0)"><polyline points="256.9,893.2 297.3,852.7 321.5,820.4 353.8,804.3" fill="none" stroke="rgb(121,121,121)" stroke-width="16.5" stroke-linecap="round" stroke-linejoin="round"/><polyline points="370,828.5 373.2,788.7 386.1,762.9" fill="none" stroke="rgb(121,121,121)" stroke-width="16.5" stroke-linecap="round" stroke-linejoin="round"/><polyline points="410.4,812.3 437.9,846.9" fill="none" stroke="rgb(121,121,121)" stroke-width="16.5" stroke-linecap="round" stroke-linejoin="round"/><polyline points="276.2,653 373.2,588.3" fill="none" stroke="rgb(121,121,121)" stroke-width="16.5" stroke-linecap="round" stroke-linejoin="round"/><polyline points="292.4,678.8 421.7,604.5" fill="none" stroke="rgb(121,121,121)" stroke-width="16.5" stroke-linecap="round" stroke-linejoin="round"/><polyline points="373.2,636.8 465,685.3" fill="none" stroke="rgb(120,120,120)" stroke-width="16.5" stroke-linecap="round" stroke-linejoin="round"/><polyline points="50,753.2 75.9,743.5 101.7,730.6" fill="none" stroke="rgb(140,140,140)" stroke-width="16.5" stroke-linecap="round" stroke-linejoin="round"/><polyline points="54.8,860.8 69.4,879.3 74.2,901.2" fill="none" stroke="rgb(138,138,138)" stroke-width="19.2" stroke-linecap="round" stroke-linejoin="round"/><ellipse cx="195.4" cy="664.3" rx="6.5" ry="5.8" transform="rotate(0 195.4 664.3)" fill="rgb(143,143,143)"/></g>
<g filter="url(#ab_c_1)"><polygon points="50,556 92,556 95.2,575.4 88.8,636.8 72.6,656.2 50,653" fill="rgb(92,92,92)"/><polygon points="109.8,662.7 140.5,643.9 156.7,651.4 158.3,691.8 130.8,714.4 113,691.8" fill="rgb(84,84,84)"/><polygon points="50,685.3 77.5,690.2 82.3,717.6 69.4,740.3 50,741.9" fill="rgb(89,89,89)"/><polygon points="159.9,556 211.6,556 205.1,568.9 179.3,577 163.1,580.2" fill="rgb(84,84,84)"/><polygon points="276.2,730.6 295.6,712.8 334.4,722.5 339.9,743.5 328,766.1 305.3,779 282.7,761.3" fill="rgb(82,82,82)"/><polygon points="221.3,788.1 253.6,790.4 257.5,814.6 243.9,825.9 224.5,825.9" fill="rgb(92,92,92)"/><polygon points="274.6,814.6 302.1,811.4 334.4,834 331.2,859.9 308.6,877 276.2,866.3 271.4,840.5" fill="rgb(82,82,82)"/><polygon points="224.5,840.5 257.5,840.5 263.3,872.8 256.9,901.2 231,898.7 222.9,872.8" fill="rgb(87,87,87)"/><polygon points="358.7,851.8 416.8,851.8 420.1,898.7 412,922.9 370,925.5 357,898.7" fill="rgb(82,82,82)"/><polygon points="281.1,906.7 318.3,904.5 340.9,927.7 339.3,960.1 315,973 282.7,973 277.9,937.4" fill="rgb(82,82,82)"/><polygon points="104.9,921.3 140.5,916.4 150.2,943.9 147,973 108.2,973 103.3,950.4" fill="rgb(87,87,87)"/><polygon points="426.5,905.1 466.9,903.5 466.9,973 426.5,973 424.9,937.4" fill="rgb(87,87,87)"/><polygon points="424.9,714.4 466.9,707.9 466.9,750 431.4,753.2" fill="rgb(99,99,99)"/><polygon points="235.8,933.6 273,935.8 276.2,973 235.8,973" fill="rgb(92,92,92)"/><polygon points="50,876 62.9,877.6 66.2,901.2 50,901.9" fill="rgb(97,97,97)"/><ellipse cx="428.8" cy="747.4" rx="5.8" ry="5.8" transform="rotate(0 428.8 747.4)" fill="rgb(92,92,92)"/></g>
<g filter="url(#ab_c_2)"><polyline points="305.3,825.3 337.7,839.8" fill="none" stroke="rgb(56,56,56)" stroke-width="11" stroke-linecap="round" stroke-linejoin="round"/><polyline points="124.3,917.4 145.3,923.9" fill="none" stroke="rgb(61,61,61)" stroke-width="5.5" stroke-linecap="round" stroke-linejoin="round"/><polyline points="235.8,893.8 257.5,898.7" fill="none" stroke="rgb(61,61,61)" stroke-width="6.6" stroke-linecap="round" stroke-linejoin="round"/><polyline points="358.7,859.9 358.7,898.7" fill="none" stroke="rgb(71,71,71)" stroke-width="5.5" stroke-linecap="round" stroke-linejoin="round"/><polyline points="340.9,892.2 373.2,895.4" fill="none" stroke="rgb(76,76,76)" stroke-width="4.4" stroke-linecap="round" stroke-linejoin="round"/><polyline points="298.9,906.7 324.7,910" fill="none" stroke="rgb(71,71,71)" stroke-width="5.5" stroke-linecap="round" stroke-linejoin="round"/><polyline points="434.6,905.1 444.3,908.3" fill="none" stroke="rgb(71,71,71)" stroke-width="5.5" stroke-linecap="round" stroke-linejoin="round"/><polyline points="114.6,665.9 114.6,691.8" fill="none" stroke="rgb(76,76,76)" stroke-width="5.5" stroke-linecap="round" stroke-linejoin="round"/><polyline points="308.6,779 331.2,766.1" fill="none" stroke="rgb(76,76,76)" stroke-width="5.5" stroke-linecap="round" stroke-linejoin="round"/></g>
<g filter="url(#ab_c_3)"><polyline points="104.9,556 103.3,601.3 101.7,646.5" fill="none" stroke="rgb(153,153,153)" stroke-width="30.2" stroke-linecap="round" stroke-linejoin="round"/><polyline points="101.7,646.5 93.6,665.9 95.2,691.8 98.5,714.4 85.6,737 62.9,753.2" fill="none" stroke="rgb(150,150,150)" stroke-width="27.5" stroke-linecap="round" stroke-linejoin="round"/><polyline points="80.7,653 106.6,653" fill="none" stroke="rgb(153,153,153)" stroke-width="22" stroke-linecap="round" stroke-linejoin="round"/><polyline points="109.8,654.6 140.5,638.4 159.9,649.7" fill="none" stroke="rgb(148,148,148)" stroke-width="9.9" stroke-linecap="round" stroke-linejoin="round"/><polyline points="156.7,575.4 185.7,581.9 211.6,570.5 227.8,556" fill="none" stroke="rgb(153,153,153)" stroke-width="15.4" stroke-linecap="round" stroke-linejoin="round"/><polyline points="273,717.6 295.6,707.9 334.4,716 349,730.6 353.8,756.4 347.4,779 324.7,782.3 305.3,783.9" fill="none" stroke="rgb(158,158,158)" stroke-width="19.2" stroke-linecap="round" stroke-linejoin="round"/><polyline points="273,801 308.6,814.6 342.5,833.4 370,836.6" fill="none" stroke="rgb(153,153,153)" stroke-width="14.3" stroke-linecap="round" stroke-linejoin="round"/><polyline points="256.9,911.6 276.2,898.7 295.6,898.7" fill="none" stroke="rgb(168,168,168)" stroke-width="16.5" stroke-linecap="round" stroke-linejoin="round"/><polyline points="334.4,866.3 336,895.4 344.1,927.7 350.6,973" fill="none" stroke="rgb(163,163,163)" stroke-width="23.1" stroke-linecap="round" stroke-linejoin="round"/><polyline points="345.7,846.9 373.2,844.7 418.5,846.9 429.8,866.3 431.4,905.1 428.2,927.7 405.5,931 370,927.7 357,924.5" fill="none" stroke="rgb(158,158,158)" stroke-width="17.6" stroke-linecap="round" stroke-linejoin="round"/><polyline points="247.2,914.8 260.1,931 273,973" fill="none" stroke="rgb(153,153,153)" stroke-width="16.5" stroke-linecap="round" stroke-linejoin="round"/><polyline points="98.5,918 121.1,919.7" fill="none" stroke="rgb(158,158,158)" stroke-width="13.7" stroke-linecap="round" stroke-linejoin="round"/><polyline points="224.5,830.8 250.4,832.4" fill="none" stroke="rgb(158,158,158)" stroke-width="12.1" stroke-linecap="round" stroke-linejoin="round"/><polyline points="90.4,963.3 103.3,969.8" fill="none" stroke="rgb(153,153,153)" stroke-width="11" stroke-linecap="round" stroke-linejoin="round"/></g>
<g filter="url(#ab_c_4)"><ellipse cx="269.8" cy="817.2" rx="9" ry="7.8" transform="rotate(0 269.8 817.2)" fill="rgb(230,230,230)"/><ellipse cx="280.1" cy="893.8" rx="12.3" ry="8.4" transform="rotate(25 280.1 893.8)" fill="rgb(242,242,242)"/><ellipse cx="352.2" cy="835" rx="9" ry="6.5" transform="rotate(0 352.2 835)" fill="rgb(173,173,173)"/><ellipse cx="335.1" cy="872.1" rx="8.1" ry="8.1" transform="rotate(0 335.1 872.1)" fill="rgb(173,173,173)"/><ellipse cx="224.5" cy="564.1" rx="6.5" ry="7.1" transform="rotate(0 224.5 564.1)" fill="rgb(168,168,168)"/><ellipse cx="108.2" cy="919.7" rx="9" ry="5.2" transform="rotate(0 108.2 919.7)" fill="rgb(163,163,163)"/><ellipse cx="252" cy="919.7" rx="5.2" ry="5.2" transform="rotate(0 252 919.7)" fill="rgb(184,184,184)"/></g></g></g></g></g></g>
<g clip-path="url(#ac_d)"><g filter="url(#af_d)"><g transform="rotate(20 921.2 767.7)"><g filter="url(#gn_d)"><g transform="rotate(-20 921.2 767.7)"><rect x="580.4" y="426.9" width="681.6" height="681.6" fill="rgb(101,101,101)"/><rect x="682" y="528.6" width="478.4" height="478.2" fill="rgb(101,101,101)"/>
<g filter="url(#ab_d_0)"><rect x="712" y="558" width="61.9" height="37.4" fill="rgb(105,105,105)"/><rect x="728.3" y="595.4" width="37.4" height="172.5" fill="rgb(128,128,128)"/><polygon points="992,577.5 1130,603.6 1130,665.4 992,655.7" fill="rgb(98,98,98)"/><polygon points="790.1,577.5 887.8,577.5 887.8,632.9 790.1,632.9" fill="rgb(107,107,107)"/><polygon points="809.7,766.4 920.3,766.4 920.3,877.1 809.7,877.1" fill="rgb(105,105,105)"/><polygon points="803.2,590.6 858.5,590.6 858.5,631.3 803.2,631.3" fill="rgb(99,99,99)"/><polygon points="894.3,558 956.2,558 956.2,613.3 894.3,613.3" fill="rgb(99,99,99)"/><polygon points="969.8,655.7 1067.5,655.7 1067.5,704.5 969.8,704.5" fill="rgb(99,99,99)"/><polygon points="921,671.9 945.4,671.9 945.4,720.8 921,720.8" fill="rgb(128,128,128)"/><polygon points="974.7,558 1083.8,558 1083.8,574.3 974.7,574.3" fill="rgb(133,133,133)"/><polygon points="817.8,881 858.5,881 858.5,921.7 817.8,921.7" fill="rgb(97,97,97)"/><polygon points="1034.9,937.9 1067.5,937.9 1067.5,978 1034.9,978" fill="rgb(99,99,99)"/><polygon points="858.5,696.4 921,696.4 921,768 858.5,768" fill="rgb(115,115,115)"/></g>
<g filter="url(#ab_d_1)"><polygon points="780.4,636.1 819.4,644.3 839,657.3 839,698 825.9,712.6 793.4,711 780.4,688.2" fill="rgb(76,76,76)"/><polygon points="754.3,711 790.1,717.5 803.2,733.8 803.2,768 783.6,782.6 751.1,782.6 749.4,753.3" fill="rgb(82,82,82)"/><polygon points="891,616.6 939.9,610.1 956.8,623.1 956.2,665.4 920.3,671.9 894.3,662.2" fill="rgb(84,84,84)"/><polygon points="929.1,773.5 991,770.3 991,850 937.3,863.1 929.1,848.4" fill="rgb(79,79,79)"/><polygon points="991,770.3 1041.5,771.9 1044.7,828.9 1012.2,843.5 991,850" fill="rgb(87,87,87)"/><polygon points="878,880.3 907.3,878.7 926.9,896.6 940.5,922.6 939.9,958.4 920.3,963.3 884.5,961.7 876.4,922.6" fill="rgb(84,84,84)"/><polygon points="712,835.4 728.3,847.8 749.4,899.8 744.6,921.7 712,921.7" fill="rgb(82,82,82)"/><polygon points="712,936.3 764.1,937.3 777.1,948.7 780.4,978 712,978" fill="rgb(84,84,84)"/><polygon points="1056.1,678.5 1096.1,675.2 1116.3,681.7 1116.3,737.1 1086.4,745.2 1057.1,740.3" fill="rgb(87,87,87)"/><polygon points="1091.9,824 1132,818.5 1132,884.2 1091.9,884.2" fill="rgb(84,84,84)"/><polygon points="1096.1,759.8 1132,753.3 1132,818.5 1096.1,815.2" fill="rgb(92,92,92)"/><polygon points="1083.8,558 1132,558 1132,593.8 1096.1,590.6 1083.8,577.5" fill="rgb(89,89,89)"/><polygon points="1100,937.9 1132,935.7 1132,978 1100,978" fill="rgb(89,89,89)"/><ellipse cx="1079.9" cy="899.8" rx="12.4" ry="10.4" transform="rotate(0 1079.9 899.8)" fill="rgb(56,56,56)"/><ellipse cx="1010.5" cy="561.3" rx="8.1" ry="4.6" transform="rotate(0 1010.5 561.3)" fill="rgb(64,64,64)"/><ellipse cx="731.5" cy="613.3" rx="4.9" ry="4.9" transform="rotate(0 731.5 613.3)" fill="rgb(76,76,76)"/><ellipse cx="1023.5" cy="756.6" rx="11.4" ry="6.5" transform="rotate(0 1023.5 756.6)" fill="rgb(71,71,71)"/></g>
<g filter="url(#ab_d_2)"><polyline points="718.5,595.4 719.2,655.7 720.1,720.8 721.8,769.6 731.5,818.5 751.1,867.3 764.1,916.1 777.1,978" fill="none" stroke="rgb(163,163,163)" stroke-width="24.2" stroke-linecap="round" stroke-linejoin="round"/><polyline points="712,818.5 728.3,838" fill="none" stroke="rgb(153,153,153)" stroke-width="17.6" stroke-linecap="round" stroke-linejoin="round"/><polyline points="788.5,577.5 790.1,606.8 790.1,631.3" fill="none" stroke="rgb(153,153,153)" stroke-width="17.6" stroke-linecap="round" stroke-linejoin="round"/><polyline points="770.6,636.1 770.6,704.5" fill="none" stroke="rgb(140,140,140)" stroke-width="13.2" stroke-linecap="round" stroke-linejoin="round"/><polyline points="874.8,558 887.8,606.8 884.5,655.7" fill="none" stroke="rgb(148,148,148)" stroke-width="17.6" stroke-linecap="round" stroke-linejoin="round"/><polyline points="969.8,558 978.9,603.6 979.6,642.6" fill="none" stroke="rgb(143,143,143)" stroke-width="17.6" stroke-linecap="round" stroke-linejoin="round"/><polyline points="959.4,665.4 978,645.9 998.5,642.6" fill="none" stroke="rgb(163,163,163)" stroke-width="15.4" stroke-linecap="round" stroke-linejoin="round"/><polyline points="1075.6,574.3 1099.4,590.6 1122.8,611.7" fill="none" stroke="rgb(153,153,153)" stroke-width="15.4" stroke-linecap="round" stroke-linejoin="round"/><polyline points="1125.4,606.8 1125.4,768" fill="none" stroke="rgb(143,143,143)" stroke-width="12.3" stroke-linecap="round" stroke-linejoin="round"/><polyline points="924.9,766.4 923.6,818.5 926.9,864" fill="none" stroke="rgb(163,163,163)" stroke-width="15.4" stroke-linecap="round" stroke-linejoin="round"/><polyline points="933.4,763.1 988.7,759.8 1034.3,756.6" fill="none" stroke="rgb(143,143,143)" stroke-width="11" stroke-linecap="round" stroke-linejoin="round"/><polyline points="921,864.7 972.4,859.1 1018.7,846.8 1053.8,838" fill="none" stroke="rgb(158,158,158)" stroke-width="22" stroke-linecap="round" stroke-linejoin="round"/><polyline points="1050.6,767 1050.6,818.5 1057.1,844.5" fill="none" stroke="rgb(158,158,158)" stroke-width="24.2" stroke-linecap="round" stroke-linejoin="round"/><polyline points="1088,767 1086.4,818.5 1070.1,851 1083.1,873.8 1102.7,890.1" fill="none" stroke="rgb(166,166,166)" stroke-width="26.4" stroke-linecap="round" stroke-linejoin="round"/><polyline points="825.9,815.8 865,828.2 907.3,840.3" fill="none" stroke="rgb(140,140,140)" stroke-width="13.2" stroke-linecap="round" stroke-linejoin="round"/><polyline points="868.3,893.3 871.5,932.4 879.7,978" fill="none" stroke="rgb(153,153,153)" stroke-width="19.8" stroke-linecap="round" stroke-linejoin="round"/><polyline points="943.1,886.8 952.9,922.6 949.6,958.4" fill="none" stroke="rgb(143,143,143)" stroke-width="13.2" stroke-linecap="round" stroke-linejoin="round"/><polyline points="712,932.4 738,935.7 764.1,945.4" fill="none" stroke="rgb(153,153,153)" stroke-width="15.4" stroke-linecap="round" stroke-linejoin="round"/><polyline points="921,881 986.1,905.4 1034.9,929.8" fill="none" stroke="rgb(140,140,140)" stroke-width="15.4" stroke-linecap="round" stroke-linejoin="round"/><polyline points="1059.4,921.7 1070.1,948.7 1076.6,978" fill="none" stroke="rgb(148,148,148)" stroke-width="19.8" stroke-linecap="round" stroke-linejoin="round"/><polyline points="1125.4,942.2 1125.4,978" fill="none" stroke="rgb(166,166,166)" stroke-width="11" stroke-linecap="round" stroke-linejoin="round"/><polyline points="809.7,730.5 852,720.8 881.3,711" fill="none" stroke="rgb(143,143,143)" stroke-width="11" stroke-linecap="round" stroke-linejoin="round"/></g>
<g filter="url(#ab_d_3)"><ellipse cx="789.2" cy="577.5" rx="13.7" ry="13" transform="rotate(30 789.2 577.5)" fill="rgb(224,224,224)"/><ellipse cx="853.6" cy="679.1" rx="14.6" ry="20.2" transform="rotate(0 853.6 679.1)" fill="rgb(184,184,184)"/><ellipse cx="848.7" cy="708.4" rx="9.8" ry="7.2" transform="rotate(0 848.7 708.4)" fill="rgb(230,230,230)"/><ellipse cx="812.9" cy="722.4" rx="13" ry="8.1" transform="rotate(20 812.9 722.4)" fill="rgb(230,230,230)"/><ellipse cx="978" cy="645.9" rx="8.1" ry="6.5" transform="rotate(0 978 645.9)" fill="rgb(184,184,184)"/><ellipse cx="950.3" cy="760.5" rx="8.1" ry="7.2" transform="rotate(0 950.3 760.5)" fill="rgb(209,209,209)"/><ellipse cx="1023.5" cy="846.8" rx="9.1" ry="5.9" transform="rotate(0 1023.5 846.8)" fill="rgb(217,217,217)"/><ellipse cx="949.6" cy="945.4" rx="8.1" ry="5.9" transform="rotate(0 949.6 945.4)" fill="rgb(217,217,217)"/><ellipse cx="1106.6" cy="898.9" rx="10.4" ry="14.7" transform="rotate(0 1106.6 898.9)" fill="rgb(217,217,217)"/><ellipse cx="752.7" cy="916.1" rx="11.4" ry="8.1" transform="rotate(0 752.7 916.1)" fill="rgb(199,199,199)"/><ellipse cx="872.2" cy="885.8" rx="9.8" ry="8.1" transform="rotate(0 872.2 885.8)" fill="rgb(204,204,204)"/><ellipse cx="891" cy="962.3" rx="8.1" ry="6.5" transform="rotate(0 891 962.3)" fill="rgb(191,191,191)"/><ellipse cx="752.7" cy="792.4" rx="8.1" ry="11.4" transform="rotate(0 752.7 792.4)" fill="rgb(184,184,184)"/></g></g></g></g></g></g>
<g clip-path="url(#ac_e)"><g filter="url(#af_e)"><g transform="rotate(25 256.1 1293)"><g filter="url(#gn_e)"><g transform="rotate(-25 256.1 1293)"><rect x="-84" y="952.9" width="680.2" height="680.2" fill="rgb(107,107,107)"/><rect x="17.8" y="1054" width="476.6" height="478" fill="rgb(107,107,107)"/>
<g filter="url(#ab_e_0)"><polyline points="63.2,1338.3 103.8,1370.8" fill="none" stroke="rgb(133,133,133)" stroke-width="7.1" stroke-linecap="round" stroke-linejoin="round"/><polyline points="120.1,1301 152.5,1313.9" fill="none" stroke="rgb(133,133,133)" stroke-width="7.1" stroke-linecap="round" stroke-linejoin="round"/><polyline points="87.6,1333.4 128.2,1309.1" fill="none" stroke="rgb(130,130,130)" stroke-width="7.1" stroke-linecap="round" stroke-linejoin="round"/><polyline points="261.3,1097 339.3,1132.7 404.2,1165.2" fill="none" stroke="rgb(130,130,130)" stroke-width="7.1" stroke-linecap="round" stroke-linejoin="round"/><polyline points="274.3,1132.7 355.5,1174.9 410.7,1191.2" fill="none" stroke="rgb(130,130,130)" stroke-width="7.1" stroke-linecap="round" stroke-linejoin="round"/><polyline points="176.9,1439 193.1,1470.5 209.4,1501.4" fill="none" stroke="rgb(138,138,138)" stroke-width="11.8" stroke-linecap="round" stroke-linejoin="round"/><polyline points="401,1455.2 407.5,1501.4" fill="none" stroke="rgb(138,138,138)" stroke-width="11.8" stroke-linecap="round" stroke-linejoin="round"/><polyline points="128.2,1084 137.9,1123 147.7,1165.2" fill="none" stroke="rgb(128,128,128)" stroke-width="11.8" stroke-linecap="round" stroke-linejoin="round"/><ellipse cx="100.6" cy="1142.5" rx="30.9" ry="40.6" transform="rotate(0 100.6 1142.5)" fill="rgb(105,105,105)"/><polygon points="274.3,1084 420.5,1084 420.5,1174.9 274.3,1174.9" fill="rgb(107,107,107)"/><polygon points="209.4,1325.3 255.5,1325.3 255.5,1365.9 209.4,1365.9" fill="rgb(107,107,107)"/><polygon points="47,1376.3 176.9,1376.3 176.9,1501.4 47,1501.4" fill="rgb(112,112,112)"/></g>
<g filter="url(#ab_e_1)"><polygon points="47,1194.4 63.2,1197.7 107.1,1226.9 95.7,1254.5 71.4,1278.9 47,1278.9" fill="rgb(84,84,84)"/><ellipse cx="238.6" cy="1212.3" rx="29.2" ry="29.9" transform="rotate(0 238.6 1212.3)" fill="rgb(87,87,87)"/><ellipse cx="222.4" cy="1267.5" rx="30.9" ry="26" transform="rotate(0 222.4 1267.5)" fill="rgb(94,94,94)"/><ellipse cx="207.1" cy="1364" rx="27.6" ry="29.2" transform="rotate(0 207.1 1364)" fill="rgb(82,82,82)"/><ellipse cx="394.5" cy="1369.8" rx="39" ry="27.6" transform="rotate(0 394.5 1369.8)" fill="rgb(89,89,89)"/><ellipse cx="375" cy="1267.5" rx="29.2" ry="24.4" transform="rotate(0 375 1267.5)" fill="rgb(94,94,94)"/><ellipse cx="307.8" cy="1426.6" rx="20.1" ry="28.6" transform="rotate(0 307.8 1426.6)" fill="rgb(97,97,97)"/><polygon points="336,1457.5 368.5,1455.9 368.5,1503 336,1503" fill="rgb(92,92,92)"/><polygon points="449.7,1100.2 465.9,1100.2 465.9,1181.4 449.7,1181.4" fill="rgb(89,89,89)"/><polygon points="267.8,1239.9 306.8,1239.9 311.7,1278.9 274.3,1285.4" fill="rgb(102,102,102)"/><ellipse cx="347.4" cy="1381.2" rx="7.1" ry="6.5" transform="rotate(0 347.4 1381.2)" fill="rgb(56,56,56)"/><ellipse cx="381.5" cy="1350.3" rx="14.6" ry="8.1" transform="rotate(0 381.5 1350.3)" fill="rgb(76,76,76)"/><ellipse cx="459.5" cy="1382.8" rx="4.9" ry="8.1" transform="rotate(0 459.5 1382.8)" fill="rgb(64,64,64)"/><ellipse cx="202.9" cy="1382.8" rx="17.9" ry="5.8" transform="rotate(0 202.9 1382.8)" fill="rgb(71,71,71)"/></g>
<g filter="url(#ab_e_2)"><ellipse cx="331.8" cy="1240.5" rx="20.1" ry="26.6" transform="rotate(0 331.8 1240.5)" fill="rgb(168,168,168)"/><ellipse cx="379.9" cy="1228.5" rx="24.4" ry="17.9" transform="rotate(0 379.9 1228.5)" fill="rgb(128,128,128)"/><ellipse cx="275" cy="1338.3" rx="20.1" ry="30.9" transform="rotate(0 275 1338.3)" fill="rgb(115,115,115)"/><ellipse cx="301" cy="1325.3" rx="7.1" ry="16.2" transform="rotate(0 301 1325.3)" fill="rgb(140,140,140)"/></g>
<g filter="url(#ab_e_3)"><polyline points="66.5,1084 63.2,1132.7 61.6,1181.4" fill="none" stroke="rgb(158,158,158)" stroke-width="21.2" stroke-linecap="round" stroke-linejoin="round"/><polyline points="47,1191.2 87.6,1200.9 120.1,1222 129.8,1226.9" fill="none" stroke="rgb(163,163,163)" stroke-width="21.2" stroke-linecap="round" stroke-linejoin="round"/><polyline points="107.1,1230.2 89.2,1259.4 71.4,1291.9" fill="none" stroke="rgb(153,153,153)" stroke-width="13.2" stroke-linecap="round" stroke-linejoin="round"/><polyline points="201.3,1197.7 228.9,1181.4 255.5,1168.4" fill="none" stroke="rgb(158,158,158)" stroke-width="14.1" stroke-linecap="round" stroke-linejoin="round"/><polyline points="261.3,1157.1 267.8,1187.9 271.1,1213.9" fill="none" stroke="rgb(158,158,158)" stroke-width="16.5" stroke-linecap="round" stroke-linejoin="round"/><polyline points="436.7,1084 436.7,1139.2 440,1197.7" fill="none" stroke="rgb(163,163,163)" stroke-width="18.8" stroke-linecap="round" stroke-linejoin="round"/><polyline points="404.2,1246.4 436.7,1256.1 464,1262.6" fill="none" stroke="rgb(173,173,173)" stroke-width="13.2" stroke-linecap="round" stroke-linejoin="round"/><polyline points="180.2,1397.4 215.9,1395.8 255.5,1392.5" fill="none" stroke="rgb(158,158,158)" stroke-width="16.5" stroke-linecap="round" stroke-linejoin="round"/><polyline points="254.9,1373.1 290.6,1369.8 327.9,1373.1" fill="none" stroke="rgb(178,178,178)" stroke-width="18.8" stroke-linecap="round" stroke-linejoin="round"/><polyline points="331.2,1292.8 329.5,1327.6 327.9,1357.8" fill="none" stroke="rgb(163,163,163)" stroke-width="16.5" stroke-linecap="round" stroke-linejoin="round"/><polyline points="436.7,1311.4 441.6,1360.1 436.7,1405.5" fill="none" stroke="rgb(168,168,168)" stroke-width="21.2" stroke-linecap="round" stroke-linejoin="round"/><polyline points="368.5,1457.5 375,1501.4" fill="none" stroke="rgb(140,140,140)" stroke-width="13.2" stroke-linecap="round" stroke-linejoin="round"/></g>
<g filter="url(#ab_e_4)"><ellipse cx="198" cy="1225.9" rx="11.4" ry="12.3" transform="rotate(0 198 1225.9)" fill="rgb(217,217,217)"/><ellipse cx="73" cy="1110" rx="11.4" ry="19.5" transform="rotate(0 73 1110)" fill="rgb(178,178,178)"/><ellipse cx="436.7" cy="1103.5" rx="9.7" ry="17.9" transform="rotate(0 436.7 1103.5)" fill="rgb(184,184,184)"/><ellipse cx="355.5" cy="1400" rx="8.1" ry="5.8" transform="rotate(0 355.5 1400)" fill="rgb(204,204,204)"/><ellipse cx="245.1" cy="1383.8" rx="11.4" ry="9.1" transform="rotate(0 245.1 1383.8)" fill="rgb(219,219,219)"/><ellipse cx="303.6" cy="1366.6" rx="12.3" ry="8.1" transform="rotate(0 303.6 1366.6)" fill="rgb(209,209,209)"/><ellipse cx="261.3" cy="1375.7" rx="9.1" ry="6.5" transform="rotate(0 261.3 1375.7)" fill="rgb(204,204,204)"/><ellipse cx="441.6" cy="1382.8" rx="9.1" ry="14.6" transform="rotate(0 441.6 1382.8)" fill="rgb(209,209,209)"/><ellipse cx="337.7" cy="1442.9" rx="11.4" ry="9.1" transform="rotate(0 337.7 1442.9)" fill="rgb(224,224,224)"/><ellipse cx="319.8" cy="1474.7" rx="11.4" ry="10.4" transform="rotate(0 319.8 1474.7)" fill="rgb(230,230,230)"/><ellipse cx="269.5" cy="1462.4" rx="14.6" ry="7.1" transform="rotate(0 269.5 1462.4)" fill="rgb(178,178,178)"/><ellipse cx="458.8" cy="1343.8" rx="4.5" ry="8.1" transform="rotate(0 458.8 1343.8)" fill="rgb(184,184,184)"/><ellipse cx="82.7" cy="1295.1" rx="8.1" ry="9.7" transform="rotate(0 82.7 1295.1)" fill="rgb(168,168,168)"/></g></g></g></g></g></g>
<g clip-path="url(#ac_f)"><g filter="url(#af_f)"><g transform="rotate(-40 922.7 1293.2)"><g filter="url(#gn_f)"><g transform="rotate(40 922.7 1293.2)"><rect x="581" y="951.4" width="683.5" height="683.5" fill="rgb(97,97,97)"/><rect x="683.9" y="1052.3" width="477.6" height="481.7" fill="rgb(97,97,97)"/>
<g filter="url(#ab_f_0)"><polyline points="729.3,1228.5 786.2,1098.3" fill="none" stroke="rgb(115,115,115)" stroke-width="14.6" stroke-linecap="round" stroke-linejoin="round"/><polyline points="761.8,1244.8 810.7,1098.3" fill="none" stroke="rgb(112,112,112)" stroke-width="11.7" stroke-linecap="round" stroke-linejoin="round"/><polyline points="843.2,1082 892,1130.8" fill="none" stroke="rgb(112,112,112)" stroke-width="11.7" stroke-linecap="round" stroke-linejoin="round"/><polyline points="922,1196 1006,1114.6" fill="none" stroke="rgb(112,112,112)" stroke-width="11.7" stroke-linecap="round" stroke-linejoin="round"/><polyline points="940.9,1228.5 1006,1179.7" fill="none" stroke="rgb(112,112,112)" stroke-width="11.7" stroke-linecap="round" stroke-linejoin="round"/><ellipse cx="973.4" cy="1135.7" rx="9.8" ry="8.1" transform="rotate(0 973.4 1135.7)" fill="rgb(128,128,128)"/><ellipse cx="934.4" cy="1209" rx="9.8" ry="8.1" transform="rotate(0 934.4 1209)" fill="rgb(128,128,128)"/><polygon points="922,1293 1035.9,1293 1035.9,1339.2 922,1339.2" fill="rgb(107,107,107)"/><polygon points="1076.6,1375.1 1133,1375.1 1133,1505.3 1076.6,1505.3" fill="rgb(107,107,107)"/><polygon points="934.4,1342.5 1025.5,1342.5 1025.5,1407.6 934.4,1407.6" fill="rgb(102,102,102)"/></g>
<g filter="url(#ab_f_1)"><ellipse cx="879" cy="1171.5" rx="43.9" ry="27.7" transform="rotate(-5 879 1171.5)" fill="rgb(74,74,74)"/><ellipse cx="882.9" cy="1224.3" rx="28.6" ry="25.4" transform="rotate(0 882.9 1224.3)" fill="rgb(76,76,76)"/><ellipse cx="831.8" cy="1240.6" rx="27.7" ry="20.2" transform="rotate(0 831.8 1240.6)" fill="rgb(79,79,79)"/><ellipse cx="843.2" cy="1290.4" rx="43.9" ry="30.9" transform="rotate(0 843.2 1290.4)" fill="rgb(71,71,71)"/><ellipse cx="753.7" cy="1384.2" rx="40.7" ry="41.7" transform="rotate(0 753.7 1384.2)" fill="rgb(74,74,74)"/><ellipse cx="806.8" cy="1462.3" rx="53.7" ry="30.9" transform="rotate(0 806.8 1462.3)" fill="rgb(71,71,71)"/><polygon points="1022.9,1082 1133,1082 1133,1182.9 1064.6,1179.7 1038.5,1147.1" fill="rgb(82,82,82)"/><ellipse cx="1085.7" cy="1350" rx="39.1" ry="39.1" transform="rotate(0 1085.7 1350)" fill="rgb(74,74,74)"/><ellipse cx="1103.7" cy="1274.1" rx="27.7" ry="20.2" transform="rotate(0 1103.7 1274.1)" fill="rgb(79,79,79)"/><ellipse cx="962.7" cy="1398.8" rx="40.7" ry="55.4" transform="rotate(0 962.7 1398.8)" fill="rgb(87,87,87)"/><ellipse cx="1032" cy="1443.4" rx="36.5" ry="52.1" transform="rotate(0 1032 1443.4)" fill="rgb(97,97,97)"/><ellipse cx="962.7" cy="1476" rx="40.7" ry="27.7" transform="rotate(0 962.7 1476)" fill="rgb(92,92,92)"/><ellipse cx="732.5" cy="1309.9" rx="19.5" ry="26" transform="rotate(0 732.5 1309.9)" fill="rgb(84,84,84)"/><ellipse cx="1119.9" cy="1194.3" rx="9.8" ry="8.1" transform="rotate(0 1119.9 1194.3)" fill="rgb(54,54,54)"/><ellipse cx="1064.6" cy="1329.5" rx="17.9" ry="8.1" transform="rotate(30 1064.6 1329.5)" fill="rgb(48,48,48)"/><ellipse cx="830.2" cy="1404.4" rx="9.8" ry="13" transform="rotate(0 830.2 1404.4)" fill="rgb(59,59,59)"/></g>
<g filter="url(#ab_f_2)"><polyline points="822.1,1082 823.7,1130.8 822.1,1179.7" fill="none" stroke="rgb(128,128,128)" stroke-width="23.4" stroke-linecap="round" stroke-linejoin="round"/><polyline points="791.1,1225.3 787.9,1261.1 774.9,1293 765.1,1319.7 761.8,1345.1" fill="none" stroke="rgb(153,153,153)" stroke-width="26.4" stroke-linecap="round" stroke-linejoin="round"/><polyline points="807.4,1333.7 805.8,1375.1 805.8,1423.2" fill="none" stroke="rgb(168,168,168)" stroke-width="26.4" stroke-linecap="round" stroke-linejoin="round"/><polyline points="826.9,1410.2 859.5,1455.8 875.8,1480.2 882.3,1504" fill="none" stroke="rgb(158,158,158)" stroke-width="23.4" stroke-linecap="round" stroke-linejoin="round"/><polyline points="737.4,1204.1 732.5,1244.8 729.3,1293" fill="none" stroke="rgb(122,122,122)" stroke-width="20.5" stroke-linecap="round" stroke-linejoin="round"/><polyline points="1013.2,1082 1038.5,1121.1 1052.2,1163.4 1065.2,1182.9" fill="none" stroke="rgb(128,128,128)" stroke-width="23.4" stroke-linecap="round" stroke-linejoin="round"/><polyline points="1076.6,1212.2 1052.2,1261.1 1035.9,1293 1025.5,1325.6" fill="none" stroke="rgb(143,143,143)" stroke-width="26.4" stroke-linecap="round" stroke-linejoin="round"/><polyline points="1067.8,1390.7 1077.6,1440.2 1061.3,1472.7 1035.9,1504" fill="none" stroke="rgb(143,143,143)" stroke-width="26.4" stroke-linecap="round" stroke-linejoin="round"/><polyline points="900.2,1293 908.3,1342.5 905.1,1382.5" fill="none" stroke="rgb(148,148,148)" stroke-width="23.4" stroke-linecap="round" stroke-linejoin="round"/><polyline points="729.3,1455.8 745.6,1479.3 761.8,1504" fill="none" stroke="rgb(148,148,148)" stroke-width="20.5" stroke-linecap="round" stroke-linejoin="round"/><polyline points="911.6,1196 911.6,1244.8" fill="none" stroke="rgb(158,158,158)" stroke-width="17.6" stroke-linecap="round" stroke-linejoin="round"/><polyline points="934.4,1309.9 989.7,1309.9 1025.5,1325.6" fill="none" stroke="rgb(128,128,128)" stroke-width="17.6" stroke-linecap="round" stroke-linejoin="round"/><polyline points="1125.5,1309.9 1125.5,1391.3" fill="none" stroke="rgb(140,140,140)" stroke-width="14.6" stroke-linecap="round" stroke-linejoin="round"/></g>
<g filter="url(#ab_f_3)"><ellipse cx="825.3" cy="1200.9" rx="16.3" ry="17.9" transform="rotate(0 825.3 1200.9)" fill="rgb(168,168,168)"/><ellipse cx="823.7" cy="1196" rx="9.1" ry="9.8" transform="rotate(0 823.7 1196)" fill="rgb(209,209,209)"/><ellipse cx="1088" cy="1197.6" rx="16.3" ry="14.7" transform="rotate(0 1088 1197.6)" fill="rgb(184,184,184)"/><ellipse cx="1085.7" cy="1194.3" rx="9.1" ry="8.1" transform="rotate(0 1085.7 1194.3)" fill="rgb(224,224,224)"/><ellipse cx="1053.8" cy="1174.8" rx="9.8" ry="9.8" transform="rotate(0 1053.8 1174.8)" fill="rgb(168,168,168)"/><ellipse cx="893.7" cy="1263.4" rx="14.6" ry="10.4" transform="rotate(0 893.7 1263.4)" fill="rgb(209,209,209)"/><ellipse cx="921.3" cy="1290.4" rx="9.8" ry="7.2" transform="rotate(0 921.3 1290.4)" fill="rgb(189,189,189)"/><ellipse cx="764.4" cy="1309.9" rx="14.6" ry="19.5" transform="rotate(0 764.4 1309.9)" fill="rgb(204,204,204)"/><ellipse cx="1037.6" cy="1358.1" rx="17.9" ry="30.9" transform="rotate(-25 1037.6 1358.1)" fill="rgb(184,184,184)"/><ellipse cx="1033.7" cy="1349" rx="9.8" ry="16.3" transform="rotate(-25 1033.7 1349)" fill="rgb(219,219,219)"/><ellipse cx="1030.4" cy="1342.5" rx="8.1" ry="7.2" transform="rotate(0 1030.4 1342.5)" fill="rgb(242,242,242)"/><ellipse cx="804.2" cy="1398.8" rx="13" ry="14.7" transform="rotate(0 804.2 1398.8)" fill="rgb(214,214,214)"/><ellipse cx="762.5" cy="1436.9" rx="17.9" ry="10.4" transform="rotate(0 762.5 1436.9)" fill="rgb(209,209,209)"/><ellipse cx="877.4" cy="1478.6" rx="13.7" ry="9.8" transform="rotate(0 877.4 1478.6)" fill="rgb(204,204,204)"/><ellipse cx="765.7" cy="1448.3" rx="8.1" ry="6.5" transform="rotate(0 765.7 1448.3)" fill="rgb(178,178,178)"/></g></g></g></g></g></g>
<text x="72.5" y="112.5" font-size="46" fill="#fff">(a)</text>
<text x="732.5" y="111.5" font-size="46" fill="#fff">(b)</text>
<text x="75.1" y="622.7" font-size="46" fill="#fff">(c)</text>
<text x="732" y="623.4" font-size="46" fill="#fff">(d)</text>
<text x="77.6" y="1153.4" font-size="46" fill="#fff">(e)</text>
<text x="738.7" y="1153" font-size="46" fill="#fff">(f)</text>
<g font-size="17" fill="#000"><rect x="45.5" y="44" width="415.5" height="417.2" fill="none" stroke="#000" stroke-width="1.6"/>
<path d="M45.5 44V32.7M45.5 461.2V472.5M45.5 44H34.2M461 44H472.3M53.81 44V39.7M53.81 461.2V465.5M45.5 52.34H41.2M461 52.34H465.3M62.12 44V39.7M62.12 461.2V465.5M45.5 60.69H41.2M461 60.69H465.3M70.43 44V39.7M70.43 461.2V465.5M45.5 69.03H41.2M461 69.03H465.3M78.74 44V39.7M78.74 461.2V465.5M45.5 77.38H41.2M461 77.38H465.3M87.05 44V37.8M87.05 461.2V467.4M45.5 85.72H39.3M461 85.72H467.2M95.36 44V39.7M95.36 461.2V465.5M45.5 94.06H41.2M461 94.06H465.3M103.67 44V39.7M103.67 461.2V465.5M45.5 102.41H41.2M461 102.41H465.3M111.98 44V39.7M111.98 461.2V465.5M45.5 110.75H41.2M461 110.75H465.3M120.29 44V39.7M120.29 461.2V465.5M45.5 119.1H41.2M461 119.1H465.3M128.6 44V32.7M128.6 461.2V472.5M45.5 127.44H34.2M461 127.44H472.3M136.91 44V39.7M136.91 461.2V465.5M45.5 135.78H41.2M461 135.78H465.3M145.22 44V39.7M145.22 461.2V465.5M45.5 144.13H41.2M461 144.13H465.3M153.53 44V39.7M153.53 461.2V465.5M45.5 152.47H41.2M461 152.47H465.3M161.84 44V39.7M161.84 461.2V465.5M45.5 160.82H41.2M461 160.82H465.3M170.15 44V37.8M170.15 461.2V467.4M45.5 169.16H39.3M461 169.16H467.2M178.46 44V39.7M178.46 461.2V465.5M45.5 177.5H41.2M461 177.5H465.3M186.77 44V39.7M186.77 461.2V465.5M45.5 185.85H41.2M461 185.85H465.3M195.08 44V39.7M195.08 461.2V465.5M45.5 194.19H41.2M461 194.19H465.3M203.39 44V39.7M203.39 461.2V465.5M45.5 202.54H41.2M461 202.54H465.3M211.7 44V32.7M211.7 461.2V472.5M45.5 210.88H34.2M461 210.88H472.3M220.01 44V39.7M220.01 461.2V465.5M45.5 219.22H41.2M461 219.22H465.3M228.32 44V39.7M228.32 461.2V465.5M45.5 227.57H41.2M461 227.57H465.3M236.63 44V39.7M236.63 461.2V465.5M45.5 235.91H41.2M461 235.91H465.3M244.94 44V39.7M244.94 461.2V465.5M45.5 244.26H41.2M461 244.26H465.3M253.25 44V37.8M253.25 461.2V467.4M45.5 252.6H39.3M461 252.6H467.2M261.56 44V39.7M261.56 461.2V465.5M45.5 260.94H41.2M461 260.94H465.3M269.87 44V39.7M269.87 461.2V465.5M45.5 269.29H41.2M461 269.29H465.3M278.18 44V39.7M278.18 461.2V465.5M45.5 277.63H41.2M461 277.63H465.3M286.49 44V39.7M286.49 461.2V465.5M45.5 285.98H41.2M461 285.98H465.3M294.8 44V32.7M294.8 461.2V472.5M45.5 294.32H34.2M461 294.32H472.3M303.11 44V39.7M303.11 461.2V465.5M45.5 302.66H41.2M461 302.66H465.3M311.42 44V39.7M311.42 461.2V465.5M45.5 311.01H41.2M461 311.01H465.3M319.73 44V39.7M319.73 461.2V465.5M45.5 319.35H41.2M461 319.35H465.3M328.04 44V39.7M328.04 461.2V465.5M45.5 327.7H41.2M461 327.7H465.3M336.35 44V37.8M336.35 461.2V467.4M45.5 336.04H39.3M461 336.04H467.2M344.66 44V39.7M344.66 461.2V465.5M45.5 344.38H41.2M461 344.38H465.3M352.97 44V39.7M352.97 461.2V465.5M45.5 352.73H41.2M461 352.73H465.3M361.28 44V39.7M361.28 461.2V465.5M45.5 361.07H41.2M461 361.07H465.3M369.59 44V39.7M369.59 461.2V465.5M45.5 369.42H41.2M461 369.42H465.3M377.9 44V32.7M377.9 461.2V472.5M45.5 377.76H34.2M461 377.76H472.3M386.21 44V39.7M386.21 461.2V465.5M45.5 386.1H41.2M461 386.1H465.3M394.52 44V39.7M394.52 461.2V465.5M45.5 394.45H41.2M461 394.45H465.3M402.83 44V39.7M402.83 461.2V465.5M45.5 402.79H41.2M461 402.79H465.3M411.14 44V39.7M411.14 461.2V465.5M45.5 411.14H41.2M461 411.14H465.3M419.45 44V37.8M419.45 461.2V467.4M45.5 419.48H39.3M461 419.48H467.2M427.76 44V39.7M427.76 461.2V465.5M45.5 427.82H41.2M461 427.82H465.3M436.07 44V39.7M436.07 461.2V465.5M45.5 436.17H41.2M461 436.17H465.3M444.38 44V39.7M444.38 461.2V465.5M45.5 444.51H41.2M461 444.51H465.3M452.69 44V39.7M452.69 461.2V465.5M45.5 452.86H41.2M461 452.86H465.3M461 44V32.7M461 461.2V472.5M45.5 461.2H34.2M461 461.2H472.3" stroke="#000" stroke-width="1.6" fill="none"/>
<text x="44" y="24.8" text-anchor="middle">0</text>
<text x="127.1" y="24.8" text-anchor="middle">1</text>
<text x="210.2" y="24.8" text-anchor="middle">2</text>
<text x="293.3" y="24.8" text-anchor="middle">3</text>
<text x="376.4" y="24.8" text-anchor="middle">4</text>
<text x="454.8" y="24.8">5 µm</text>
<text x="23.7" y="46" text-anchor="end">0</text>
<text x="23.7" y="87.72" text-anchor="end">0.5</text>
<text x="23.7" y="129.44" text-anchor="end">1</text>
<text x="23.7" y="171.16" text-anchor="end">1.5</text>
<text x="23.7" y="212.88" text-anchor="end">2</text>
<text x="23.7" y="254.6" text-anchor="end">2.5</text>
<text x="23.7" y="296.32" text-anchor="end">3</text>
<text x="23.7" y="338.04" text-anchor="end">3.5</text>
<text x="23.7" y="379.76" text-anchor="end">4</text>
<text x="23.7" y="421.48" text-anchor="end">4.5</text>
<text x="23.7" y="463.2" text-anchor="end">5</text>
<text x="-0.5" y="490.4">µm</text>
<rect x="533.5" y="31.4" width="30.1" height="444.4" fill="url(#cg_a)" stroke="#000" stroke-width="1.6"/>
<text x="580.2" y="478.5">0</text>
<text x="580.2" y="449.3">0.5</text>
<text x="580.2" y="420.1">1</text>
<text x="580.2" y="390.9">1.5</text>
<text x="580.2" y="361.7">2</text>
<text x="580.2" y="332.5">2.5</text>
<text x="580.2" y="303.3">3</text>
<text x="580.2" y="274.1">3.5</text>
<text x="580.2" y="244.9">4</text>
<text x="580.2" y="215.7">4.5</text>
<text x="580.2" y="186.5">5</text>
<text x="580.2" y="157.3">5.5</text>
<text x="580.2" y="128.1">6</text>
<text x="580.2" y="98.9">6.5</text>
<text x="580.2" y="69.7">7</text>
<text x="580.2" y="40.5">7.5</text>
<path d="M563.6 475.8H574.6M563.6 446.6H574.6M563.6 417.4H574.6M563.6 388.2H574.6M563.6 359H574.6M563.6 329.8H574.6M563.6 300.6H574.6M563.6 271.4H574.6M563.6 242.2H574.6M563.6 213H574.6M563.6 183.8H574.6M563.6 154.6H574.6M563.6 125.4H574.6M563.6 96.2H574.6M563.6 67H574.6M563.6 37.8H574.6" stroke="#000" stroke-width="1.6" fill="none"/>
<text x="580.2" y="8.6">nm</text>
<rect x="705" y="44" width="417" height="417.1" fill="none" stroke="#000" stroke-width="1.6"/>
<path d="M705 44V32.7M705 461.1V472.4M705 44H693.7M1122 44H1133.3M713.34 44V39.7M713.34 461.1V465.4M705 52.34H700.7M1122 52.34H1126.3M721.68 44V39.7M721.68 461.1V465.4M705 60.68H700.7M1122 60.68H1126.3M730.02 44V39.7M730.02 461.1V465.4M705 69.03H700.7M1122 69.03H1126.3M738.36 44V39.7M738.36 461.1V465.4M705 77.37H700.7M1122 77.37H1126.3M746.7 44V37.8M746.7 461.1V467.3M705 85.71H698.8M1122 85.71H1128.2M755.04 44V39.7M755.04 461.1V465.4M705 94.05H700.7M1122 94.05H1126.3M763.38 44V39.7M763.38 461.1V465.4M705 102.39H700.7M1122 102.39H1126.3M771.72 44V39.7M771.72 461.1V465.4M705 110.74H700.7M1122 110.74H1126.3M780.06 44V39.7M780.06 461.1V465.4M705 119.08H700.7M1122 119.08H1126.3M788.4 44V32.7M788.4 461.1V472.4M705 127.42H693.7M1122 127.42H1133.3M796.74 44V39.7M796.74 461.1V465.4M705 135.76H700.7M1122 135.76H1126.3M805.08 44V39.7M805.08 461.1V465.4M705 144.1H700.7M1122 144.1H1126.3M813.42 44V39.7M813.42 461.1V465.4M705 152.45H700.7M1122 152.45H1126.3M821.76 44V39.7M821.76 461.1V465.4M705 160.79H700.7M1122 160.79H1126.3M830.1 44V37.8M830.1 461.1V467.3M705 169.13H698.8M1122 169.13H1128.2M838.44 44V39.7M838.44 461.1V465.4M705 177.47H700.7M1122 177.47H1126.3M846.78 44V39.7M846.78 461.1V465.4M705 185.81H700.7M1122 185.81H1126.3M855.12 44V39.7M855.12 461.1V465.4M705 194.16H700.7M1122 194.16H1126.3M863.46 44V39.7M863.46 461.1V465.4M705 202.5H700.7M1122 202.5H1126.3M871.8 44V32.7M871.8 461.1V472.4M705 210.84H693.7M1122 210.84H1133.3M880.14 44V39.7M880.14 461.1V465.4M705 219.18H700.7M1122 219.18H1126.3M888.48 44V39.7M888.48 461.1V465.4M705 227.52H700.7M1122 227.52H1126.3M896.82 44V39.7M896.82 461.1V465.4M705 235.87H700.7M1122 235.87H1126.3M905.16 44V39.7M905.16 461.1V465.4M705 244.21H700.7M1122 244.21H1126.3M913.5 44V37.8M913.5 461.1V467.3M705 252.55H698.8M1122 252.55H1128.2M921.84 44V39.7M921.84 461.1V465.4M705 260.89H700.7M1122 260.89H1126.3M930.18 44V39.7M930.18 461.1V465.4M705 269.23H700.7M1122 269.23H1126.3M938.52 44V39.7M938.52 461.1V465.4M705 277.58H700.7M1122 277.58H1126.3M946.86 44V39.7M946.86 461.1V465.4M705 285.92H700.7M1122 285.92H1126.3M955.2 44V32.7M955.2 461.1V472.4M705 294.26H693.7M1122 294.26H1133.3M963.54 44V39.7M963.54 461.1V465.4M705 302.6H700.7M1122 302.6H1126.3M971.88 44V39.7M971.88 461.1V465.4M705 310.94H700.7M1122 310.94H1126.3M980.22 44V39.7M980.22 461.1V465.4M705 319.29H700.7M1122 319.29H1126.3M988.56 44V39.7M988.56 461.1V465.4M705 327.63H700.7M1122 327.63H1126.3M996.9 44V37.8M996.9 461.1V467.3M705 335.97H698.8M1122 335.97H1128.2M1005.24 44V39.7M1005.24 461.1V465.4M705 344.31H700.7M1122 344.31H1126.3M1013.58 44V39.7M1013.58 461.1V465.4M705 352.65H700.7M1122 352.65H1126.3M1021.92 44V39.7M1021.92 461.1V465.4M705 361H700.7M1122 361H1126.3M1030.26 44V39.7M1030.26 461.1V465.4M705 369.34H700.7M1122 369.34H1126.3M1038.6 44V32.7M1038.6 461.1V472.4M705 377.68H693.7M1122 377.68H1133.3M1046.94 44V39.7M1046.94 461.1V465.4M705 386.02H700.7M1122 386.02H1126.3M1055.28 44V39.7M1055.28 461.1V465.4M705 394.36H700.7M1122 394.36H1126.3M1063.62 44V39.7M1063.62 461.1V465.4M705 402.71H700.7M1122 402.71H1126.3M1071.96 44V39.7M1071.96 461.1V465.4M705 411.05H700.7M1122 411.05H1126.3M1080.3 44V37.8M1080.3 461.1V467.3M705 419.39H698.8M1122 419.39H1128.2M1088.64 44V39.7M1088.64 461.1V465.4M705 427.73H700.7M1122 427.73H1126.3M1096.98 44V39.7M1096.98 461.1V465.4M705 436.07H700.7M1122 436.07H1126.3M1105.32 44V39.7M1105.32 461.1V465.4M705 444.42H700.7M1122 444.42H1126.3M1113.66 44V39.7M1113.66 461.1V465.4M705 452.76H700.7M1122 452.76H1126.3M1122 44V32.7M1122 461.1V472.4M705 461.1H693.7M1122 461.1H1133.3" stroke="#000" stroke-width="1.6" fill="none"/>
<text x="703.5" y="24.8" text-anchor="middle">0</text>
<text x="786.9" y="24.8" text-anchor="middle">1</text>
<text x="870.3" y="24.8" text-anchor="middle">2</text>
<text x="953.7" y="24.8" text-anchor="middle">3</text>
<text x="1037.1" y="24.8" text-anchor="middle">4</text>
<text x="1115.8" y="24.8">5 µm</text>
<text x="683.2" y="46" text-anchor="end">0</text>
<text x="683.2" y="87.71" text-anchor="end">0.5</text>
<text x="683.2" y="129.42" text-anchor="end">1</text>
<text x="683.2" y="171.13" text-anchor="end">1.5</text>
<text x="683.2" y="212.84" text-anchor="end">2</text>
<text x="683.2" y="254.55" text-anchor="end">2.5</text>
<text x="683.2" y="296.26" text-anchor="end">3</text>
<text x="683.2" y="337.97" text-anchor="end">3.5</text>
<text x="683.2" y="379.68" text-anchor="end">4</text>
<text x="683.2" y="421.39" text-anchor="end">4.5</text>
<text x="683.2" y="463.1" text-anchor="end">5</text>
<text x="659" y="490.3">µm</text>
<rect x="1194.6" y="31.4" width="30" height="444.2" fill="url(#cg_b)" stroke="#000" stroke-width="1.6"/>
<text x="1241.2" y="478.3">0</text>
<text x="1241.2" y="429.96">1</text>
<text x="1241.2" y="381.62">2</text>
<text x="1241.2" y="333.28">3</text>
<text x="1241.2" y="284.94">4</text>
<text x="1241.2" y="236.6">5</text>
<text x="1241.2" y="188.26">6</text>
<text x="1241.2" y="139.92">7</text>
<text x="1241.2" y="91.58">8</text>
<text x="1241.2" y="43.24">9</text>
<path d="M1224.6 475.6H1235.6M1224.6 451.43H1235.6M1224.6 427.26H1235.6M1224.6 403.09H1235.6M1224.6 378.92H1235.6M1224.6 354.75H1235.6M1224.6 330.58H1235.6M1224.6 306.41H1235.6M1224.6 282.24H1235.6M1224.6 258.07H1235.6M1224.6 233.9H1235.6M1224.6 209.73H1235.6M1224.6 185.56H1235.6M1224.6 161.39H1235.6M1224.6 137.22H1235.6M1224.6 113.05H1235.6M1224.6 88.88H1235.6M1224.6 64.71H1235.6M1224.6 40.54H1235.6" stroke="#000" stroke-width="1.6" fill="none"/>
<text x="1241.2" y="8.6">nm</text>
<rect x="50" y="556.1" width="415" height="417.2" fill="none" stroke="#000" stroke-width="1.6"/>
<path d="M50 556.1V544.8M50 973.3V984.6M50 556.1H38.7M465 556.1H476.3M58.3 556.1V551.8M58.3 973.3V977.6M50 564.44H45.7M465 564.44H469.3M66.6 556.1V551.8M66.6 973.3V977.6M50 572.79H45.7M465 572.79H469.3M74.9 556.1V551.8M74.9 973.3V977.6M50 581.13H45.7M465 581.13H469.3M83.2 556.1V551.8M83.2 973.3V977.6M50 589.48H45.7M465 589.48H469.3M91.5 556.1V549.9M91.5 973.3V979.5M50 597.82H43.8M465 597.82H471.2M99.8 556.1V551.8M99.8 973.3V977.6M50 606.16H45.7M465 606.16H469.3M108.1 556.1V551.8M108.1 973.3V977.6M50 614.51H45.7M465 614.51H469.3M116.4 556.1V551.8M116.4 973.3V977.6M50 622.85H45.7M465 622.85H469.3M124.7 556.1V551.8M124.7 973.3V977.6M50 631.2H45.7M465 631.2H469.3M133 556.1V544.8M133 973.3V984.6M50 639.54H38.7M465 639.54H476.3M141.3 556.1V551.8M141.3 973.3V977.6M50 647.88H45.7M465 647.88H469.3M149.6 556.1V551.8M149.6 973.3V977.6M50 656.23H45.7M465 656.23H469.3M157.9 556.1V551.8M157.9 973.3V977.6M50 664.57H45.7M465 664.57H469.3M166.2 556.1V551.8M166.2 973.3V977.6M50 672.92H45.7M465 672.92H469.3M174.5 556.1V549.9M174.5 973.3V979.5M50 681.26H43.8M465 681.26H471.2M182.8 556.1V551.8M182.8 973.3V977.6M50 689.6H45.7M465 689.6H469.3M191.1 556.1V551.8M191.1 973.3V977.6M50 697.95H45.7M465 697.95H469.3M199.4 556.1V551.8M199.4 973.3V977.6M50 706.29H45.7M465 706.29H469.3M207.7 556.1V551.8M207.7 973.3V977.6M50 714.64H45.7M465 714.64H469.3M216 556.1V544.8M216 973.3V984.6M50 722.98H38.7M465 722.98H476.3M224.3 556.1V551.8M224.3 973.3V977.6M50 731.32H45.7M465 731.32H469.3M232.6 556.1V551.8M232.6 973.3V977.6M50 739.67H45.7M465 739.67H469.3M240.9 556.1V551.8M240.9 973.3V977.6M50 748.01H45.7M465 748.01H469.3M249.2 556.1V551.8M249.2 973.3V977.6M50 756.36H45.7M465 756.36H469.3M257.5 556.1V549.9M257.5 973.3V979.5M50 764.7H43.8M465 764.7H471.2M265.8 556.1V551.8M265.8 973.3V977.6M50 773.04H45.7M465 773.04H469.3M274.1 556.1V551.8M274.1 973.3V977.6M50 781.39H45.7M465 781.39H469.3M282.4 556.1V551.8M282.4 973.3V977.6M50 789.73H45.7M465 789.73H469.3M290.7 556.1V551.8M290.7 973.3V977.6M50 798.08H45.7M465 798.08H469.3M299 556.1V544.8M299 973.3V984.6M50 806.42H38.7M465 806.42H476.3M307.3 556.1V551.8M307.3 973.3V977.6M50 814.76H45.7M465 814.76H469.3M315.6 556.1V551.8M315.6 973.3V977.6M50 823.11H45.7M465 823.11H469.3M323.9 556.1V551.8M323.9 973.3V977.6M50 831.45H45.7M465 831.45H469.3M332.2 556.1V551.8M332.2 973.3V977.6M50 839.8H45.7M465 839.8H469.3M340.5 556.1V549.9M340.5 973.3V979.5M50 848.14H43.8M465 848.14H471.2M348.8 556.1V551.8M348.8 973.3V977.6M50 856.48H45.7M465 856.48H469.3M357.1 556.1V551.8M357.1 973.3V977.6M50 864.83H45.7M465 864.83H469.3M365.4 556.1V551.8M365.4 973.3V977.6M50 873.17H45.7M465 873.17H469.3M373.7 556.1V551.8M373.7 973.3V977.6M50 881.52H45.7M465 881.52H469.3M382 556.1V544.8M382 973.3V984.6M50 889.86H38.7M465 889.86H476.3M390.3 556.1V551.8M390.3 973.3V977.6M50 898.2H45.7M465 898.2H469.3M398.6 556.1V551.8M398.6 973.3V977.6M50 906.55H45.7M465 906.55H469.3M406.9 556.1V551.8M406.9 973.3V977.6M50 914.89H45.7M465 914.89H469.3M415.2 556.1V551.8M415.2 973.3V977.6M50 923.24H45.7M465 923.24H469.3M423.5 556.1V549.9M423.5 973.3V979.5M50 931.58H43.8M465 931.58H471.2M431.8 556.1V551.8M431.8 973.3V977.6M50 939.92H45.7M465 939.92H469.3M440.1 556.1V551.8M440.1 973.3V977.6M50 948.27H45.7M465 948.27H469.3M448.4 556.1V551.8M448.4 973.3V977.6M50 956.61H45.7M465 956.61H469.3M456.7 556.1V551.8M456.7 973.3V977.6M50 964.96H45.7M465 964.96H469.3M465 556.1V544.8M465 973.3V984.6M50 973.3H38.7M465 973.3H476.3" stroke="#000" stroke-width="1.6" fill="none"/>
<text x="48.5" y="536.9" text-anchor="middle">0</text>
<text x="131.5" y="536.9" text-anchor="middle">1</text>
<text x="214.5" y="536.9" text-anchor="middle">2</text>
<text x="297.5" y="536.9" text-anchor="middle">3</text>
<text x="380.5" y="536.9" text-anchor="middle">4</text>
<text x="458.8" y="536.9">5 µm</text>
<text x="28.2" y="558.1" text-anchor="end">0</text>
<text x="28.2" y="599.82" text-anchor="end">0.5</text>
<text x="28.2" y="641.54" text-anchor="end">1</text>
<text x="28.2" y="683.26" text-anchor="end">1.5</text>
<text x="28.2" y="724.98" text-anchor="end">2</text>
<text x="28.2" y="766.7" text-anchor="end">2.5</text>
<text x="28.2" y="808.42" text-anchor="end">3</text>
<text x="28.2" y="850.14" text-anchor="end">3.5</text>
<text x="28.2" y="891.86" text-anchor="end">4</text>
<text x="28.2" y="933.58" text-anchor="end">4.5</text>
<text x="28.2" y="975.3" text-anchor="end">5</text>
<text x="4" y="1002.5">µm</text>
<rect x="538" y="543.4" width="29.4" height="444.7" fill="url(#cg_c)" stroke="#000" stroke-width="1.6"/>
<text x="584" y="990.8">0</text>
<text x="584" y="941.1">2</text>
<text x="584" y="891.4">4</text>
<text x="584" y="841.7">6</text>
<text x="584" y="792">8</text>
<text x="584" y="742.3">10</text>
<text x="584" y="692.6">12</text>
<text x="584" y="642.9">14</text>
<text x="584" y="593.2">16</text>
<path d="M567.4 988.1H578.4M567.4 963.25H578.4M567.4 938.4H578.4M567.4 913.55H578.4M567.4 888.7H578.4M567.4 863.85H578.4M567.4 839H578.4M567.4 814.15H578.4M567.4 789.3H578.4M567.4 764.45H578.4M567.4 739.6H578.4M567.4 714.75H578.4M567.4 689.9H578.4M567.4 665.05H578.4M567.4 640.2H578.4M567.4 615.35H578.4M567.4 590.5H578.4M567.4 565.65H578.4" stroke="#000" stroke-width="1.6" fill="none"/>
<text x="584" y="520.6">nm</text>
<rect x="712" y="558.6" width="418.4" height="418.2" fill="none" stroke="#000" stroke-width="1.6"/>
<path d="M712 558.6V547.3M712 976.8V988.1M712 558.6H700.7M1130.4 558.6H1141.7M720.37 558.6V554.3M720.37 976.8V981.1M712 566.96H707.7M1130.4 566.96H1134.7M728.74 558.6V554.3M728.74 976.8V981.1M712 575.33H707.7M1130.4 575.33H1134.7M737.1 558.6V554.3M737.1 976.8V981.1M712 583.69H707.7M1130.4 583.69H1134.7M745.47 558.6V554.3M745.47 976.8V981.1M712 592.06H707.7M1130.4 592.06H1134.7M753.84 558.6V552.4M753.84 976.8V983M712 600.42H705.8M1130.4 600.42H1136.6M762.21 558.6V554.3M762.21 976.8V981.1M712 608.78H707.7M1130.4 608.78H1134.7M770.58 558.6V554.3M770.58 976.8V981.1M712 617.15H707.7M1130.4 617.15H1134.7M778.94 558.6V554.3M778.94 976.8V981.1M712 625.51H707.7M1130.4 625.51H1134.7M787.31 558.6V554.3M787.31 976.8V981.1M712 633.88H707.7M1130.4 633.88H1134.7M795.68 558.6V547.3M795.68 976.8V988.1M712 642.24H700.7M1130.4 642.24H1141.7M804.05 558.6V554.3M804.05 976.8V981.1M712 650.6H707.7M1130.4 650.6H1134.7M812.42 558.6V554.3M812.42 976.8V981.1M712 658.97H707.7M1130.4 658.97H1134.7M820.78 558.6V554.3M820.78 976.8V981.1M712 667.33H707.7M1130.4 667.33H1134.7M829.15 558.6V554.3M829.15 976.8V981.1M712 675.7H707.7M1130.4 675.7H1134.7M837.52 558.6V552.4M837.52 976.8V983M712 684.06H705.8M1130.4 684.06H1136.6M845.89 558.6V554.3M845.89 976.8V981.1M712 692.42H707.7M1130.4 692.42H1134.7M854.26 558.6V554.3M854.26 976.8V981.1M712 700.79H707.7M1130.4 700.79H1134.7M862.62 558.6V554.3M862.62 976.8V981.1M712 709.15H707.7M1130.4 709.15H1134.7M870.99 558.6V554.3M870.99 976.8V981.1M712 717.52H707.7M1130.4 717.52H1134.7M879.36 558.6V547.3M879.36 976.8V988.1M712 725.88H700.7M1130.4 725.88H1141.7M887.73 558.6V554.3M887.73 976.8V981.1M712 734.24H707.7M1130.4 734.24H1134.7M896.1 558.6V554.3M896.1 976.8V981.1M712 742.61H707.7M1130.4 742.61H1134.7M904.46 558.6V554.3M904.46 976.8V981.1M712 750.97H707.7M1130.4 750.97H1134.7M912.83 558.6V554.3M912.83 976.8V981.1M712 759.34H707.7M1130.4 759.34H1134.7M921.2 558.6V552.4M921.2 976.8V983M712 767.7H705.8M1130.4 767.7H1136.6M929.57 558.6V554.3M929.57 976.8V981.1M712 776.06H707.7M1130.4 776.06H1134.7M937.94 558.6V554.3M937.94 976.8V981.1M712 784.43H707.7M1130.4 784.43H1134.7M946.3 558.6V554.3M946.3 976.8V981.1M712 792.79H707.7M1130.4 792.79H1134.7M954.67 558.6V554.3M954.67 976.8V981.1M712 801.16H707.7M1130.4 801.16H1134.7M963.04 558.6V547.3M963.04 976.8V988.1M712 809.52H700.7M1130.4 809.52H1141.7M971.41 558.6V554.3M971.41 976.8V981.1M712 817.88H707.7M1130.4 817.88H1134.7M979.78 558.6V554.3M979.78 976.8V981.1M712 826.25H707.7M1130.4 826.25H1134.7M988.14 558.6V554.3M988.14 976.8V981.1M712 834.61H707.7M1130.4 834.61H1134.7M996.51 558.6V554.3M996.51 976.8V981.1M712 842.98H707.7M1130.4 842.98H1134.7M1004.88 558.6V552.4M1004.88 976.8V983M712 851.34H705.8M1130.4 851.34H1136.6M1013.25 558.6V554.3M1013.25 976.8V981.1M712 859.7H707.7M1130.4 859.7H1134.7M1021.62 558.6V554.3M1021.62 976.8V981.1M712 868.07H707.7M1130.4 868.07H1134.7M1029.98 558.6V554.3M1029.98 976.8V981.1M712 876.43H707.7M1130.4 876.43H1134.7M1038.35 558.6V554.3M1038.35 976.8V981.1M712 884.8H707.7M1130.4 884.8H1134.7M1046.72 558.6V547.3M1046.72 976.8V988.1M712 893.16H700.7M1130.4 893.16H1141.7M1055.09 558.6V554.3M1055.09 976.8V981.1M712 901.52H707.7M1130.4 901.52H1134.7M1063.46 558.6V554.3M1063.46 976.8V981.1M712 909.89H707.7M1130.4 909.89H1134.7M1071.82 558.6V554.3M1071.82 976.8V981.1M712 918.25H707.7M1130.4 918.25H1134.7M1080.19 558.6V554.3M1080.19 976.8V981.1M712 926.62H707.7M1130.4 926.62H1134.7M1088.56 558.6V552.4M1088.56 976.8V983M712 934.98H705.8M1130.4 934.98H1136.6M1096.93 558.6V554.3M1096.93 976.8V981.1M712 943.34H707.7M1130.4 943.34H1134.7M1105.3 558.6V554.3M1105.3 976.8V981.1M712 951.71H707.7M1130.4 951.71H1134.7M1113.66 558.6V554.3M1113.66 976.8V981.1M712 960.07H707.7M1130.4 960.07H1134.7M1122.03 558.6V554.3M1122.03 976.8V981.1M712 968.44H707.7M1130.4 968.44H1134.7M1130.4 558.6V547.3M1130.4 976.8V988.1M712 976.8H700.7M1130.4 976.8H1141.7" stroke="#000" stroke-width="1.6" fill="none"/>
<text x="710.5" y="539.4" text-anchor="middle">0</text>
<text x="794.18" y="539.4" text-anchor="middle">1</text>
<text x="877.86" y="539.4" text-anchor="middle">2</text>
<text x="961.54" y="539.4" text-anchor="middle">3</text>
<text x="1045.22" y="539.4" text-anchor="middle">4</text>
<text x="1124.2" y="539.4">5 µm</text>
<text x="690.2" y="560.6" text-anchor="end">0</text>
<text x="690.2" y="602.42" text-anchor="end">0.5</text>
<text x="690.2" y="644.24" text-anchor="end">1</text>
<text x="690.2" y="686.06" text-anchor="end">1.5</text>
<text x="690.2" y="727.88" text-anchor="end">2</text>
<text x="690.2" y="769.7" text-anchor="end">2.5</text>
<text x="690.2" y="811.52" text-anchor="end">3</text>
<text x="690.2" y="853.34" text-anchor="end">3.5</text>
<text x="690.2" y="895.16" text-anchor="end">4</text>
<text x="690.2" y="936.98" text-anchor="end">4.5</text>
<text x="690.2" y="978.8" text-anchor="end">5</text>
<text x="666" y="1006">µm</text>
<rect x="1203.3" y="545.9" width="29.7" height="445.7" fill="url(#cg_d)" stroke="#000" stroke-width="1.6"/>
<text x="1249.6" y="994.3">0</text>
<text x="1249.6" y="945.56">2</text>
<text x="1249.6" y="896.82">4</text>
<text x="1249.6" y="848.08">6</text>
<text x="1249.6" y="799.34">8</text>
<text x="1249.6" y="750.6">10</text>
<text x="1249.6" y="701.86">12</text>
<text x="1249.6" y="653.12">14</text>
<text x="1249.6" y="604.38">16</text>
<text x="1249.6" y="555.64">18</text>
<path d="M1233 991.6H1244M1233 967.23H1244M1233 942.86H1244M1233 918.49H1244M1233 894.12H1244M1233 869.75H1244M1233 845.38H1244M1233 821.01H1244M1233 796.64H1244M1233 772.27H1244M1233 747.9H1244M1233 723.53H1244M1233 699.16H1244M1233 674.79H1244M1233 650.42H1244M1233 626.05H1244M1233 601.68H1244M1233 577.31H1244M1233 552.94H1244" stroke="#000" stroke-width="1.6" fill="none"/>
<text x="1249.6" y="523.1">nm</text>
<rect x="47.8" y="1084" width="416.6" height="418" fill="none" stroke="#000" stroke-width="1.6"/>
<path d="M47.8 1084V1072.7M47.8 1502V1513.3M47.8 1084H36.5M464.4 1084H475.7M56.13 1084V1079.7M56.13 1502V1506.3M47.8 1092.36H43.5M464.4 1092.36H468.7M64.46 1084V1079.7M64.46 1502V1506.3M47.8 1100.72H43.5M464.4 1100.72H468.7M72.8 1084V1079.7M72.8 1502V1506.3M47.8 1109.08H43.5M464.4 1109.08H468.7M81.13 1084V1079.7M81.13 1502V1506.3M47.8 1117.44H43.5M464.4 1117.44H468.7M89.46 1084V1077.8M89.46 1502V1508.2M47.8 1125.8H41.6M464.4 1125.8H470.6M97.79 1084V1079.7M97.79 1502V1506.3M47.8 1134.16H43.5M464.4 1134.16H468.7M106.12 1084V1079.7M106.12 1502V1506.3M47.8 1142.52H43.5M464.4 1142.52H468.7M114.46 1084V1079.7M114.46 1502V1506.3M47.8 1150.88H43.5M464.4 1150.88H468.7M122.79 1084V1079.7M122.79 1502V1506.3M47.8 1159.24H43.5M464.4 1159.24H468.7M131.12 1084V1072.7M131.12 1502V1513.3M47.8 1167.6H36.5M464.4 1167.6H475.7M139.45 1084V1079.7M139.45 1502V1506.3M47.8 1175.96H43.5M464.4 1175.96H468.7M147.78 1084V1079.7M147.78 1502V1506.3M47.8 1184.32H43.5M464.4 1184.32H468.7M156.12 1084V1079.7M156.12 1502V1506.3M47.8 1192.68H43.5M464.4 1192.68H468.7M164.45 1084V1079.7M164.45 1502V1506.3M47.8 1201.04H43.5M464.4 1201.04H468.7M172.78 1084V1077.8M172.78 1502V1508.2M47.8 1209.4H41.6M464.4 1209.4H470.6M181.11 1084V1079.7M181.11 1502V1506.3M47.8 1217.76H43.5M464.4 1217.76H468.7M189.44 1084V1079.7M189.44 1502V1506.3M47.8 1226.12H43.5M464.4 1226.12H468.7M197.78 1084V1079.7M197.78 1502V1506.3M47.8 1234.48H43.5M464.4 1234.48H468.7M206.11 1084V1079.7M206.11 1502V1506.3M47.8 1242.84H43.5M464.4 1242.84H468.7M214.44 1084V1072.7M214.44 1502V1513.3M47.8 1251.2H36.5M464.4 1251.2H475.7M222.77 1084V1079.7M222.77 1502V1506.3M47.8 1259.56H43.5M464.4 1259.56H468.7M231.1 1084V1079.7M231.1 1502V1506.3M47.8 1267.92H43.5M464.4 1267.92H468.7M239.44 1084V1079.7M239.44 1502V1506.3M47.8 1276.28H43.5M464.4 1276.28H468.7M247.77 1084V1079.7M247.77 1502V1506.3M47.8 1284.64H43.5M464.4 1284.64H468.7M256.1 1084V1077.8M256.1 1502V1508.2M47.8 1293H41.6M464.4 1293H470.6M264.43 1084V1079.7M264.43 1502V1506.3M47.8 1301.36H43.5M464.4 1301.36H468.7M272.76 1084V1079.7M272.76 1502V1506.3M47.8 1309.72H43.5M464.4 1309.72H468.7M281.1 1084V1079.7M281.1 1502V1506.3M47.8 1318.08H43.5M464.4 1318.08H468.7M289.43 1084V1079.7M289.43 1502V1506.3M47.8 1326.44H43.5M464.4 1326.44H468.7M297.76 1084V1072.7M297.76 1502V1513.3M47.8 1334.8H36.5M464.4 1334.8H475.7M306.09 1084V1079.7M306.09 1502V1506.3M47.8 1343.16H43.5M464.4 1343.16H468.7M314.42 1084V1079.7M314.42 1502V1506.3M47.8 1351.52H43.5M464.4 1351.52H468.7M322.76 1084V1079.7M322.76 1502V1506.3M47.8 1359.88H43.5M464.4 1359.88H468.7M331.09 1084V1079.7M331.09 1502V1506.3M47.8 1368.24H43.5M464.4 1368.24H468.7M339.42 1084V1077.8M339.42 1502V1508.2M47.8 1376.6H41.6M464.4 1376.6H470.6M347.75 1084V1079.7M347.75 1502V1506.3M47.8 1384.96H43.5M464.4 1384.96H468.7M356.08 1084V1079.7M356.08 1502V1506.3M47.8 1393.32H43.5M464.4 1393.32H468.7M364.42 1084V1079.7M364.42 1502V1506.3M47.8 1401.68H43.5M464.4 1401.68H468.7M372.75 1084V1079.7M372.75 1502V1506.3M47.8 1410.04H43.5M464.4 1410.04H468.7M381.08 1084V1072.7M381.08 1502V1513.3M47.8 1418.4H36.5M464.4 1418.4H475.7M389.41 1084V1079.7M389.41 1502V1506.3M47.8 1426.76H43.5M464.4 1426.76H468.7M397.74 1084V1079.7M397.74 1502V1506.3M47.8 1435.12H43.5M464.4 1435.12H468.7M406.08 1084V1079.7M406.08 1502V1506.3M47.8 1443.48H43.5M464.4 1443.48H468.7M414.41 1084V1079.7M414.41 1502V1506.3M47.8 1451.84H43.5M464.4 1451.84H468.7M422.74 1084V1077.8M422.74 1502V1508.2M47.8 1460.2H41.6M464.4 1460.2H470.6M431.07 1084V1079.7M431.07 1502V1506.3M47.8 1468.56H43.5M464.4 1468.56H468.7M439.4 1084V1079.7M439.4 1502V1506.3M47.8 1476.92H43.5M464.4 1476.92H468.7M447.74 1084V1079.7M447.74 1502V1506.3M47.8 1485.28H43.5M464.4 1485.28H468.7M456.07 1084V1079.7M456.07 1502V1506.3M47.8 1493.64H43.5M464.4 1493.64H468.7M464.4 1084V1072.7M464.4 1502V1513.3M47.8 1502H36.5M464.4 1502H475.7" stroke="#000" stroke-width="1.6" fill="none"/>
<text x="46.3" y="1064.8" text-anchor="middle">0</text>
<text x="129.62" y="1064.8" text-anchor="middle">1</text>
<text x="212.94" y="1064.8" text-anchor="middle">2</text>
<text x="296.26" y="1064.8" text-anchor="middle">3</text>
<text x="379.58" y="1064.8" text-anchor="middle">4</text>
<text x="458.2" y="1064.8">5 µm</text>
<text x="26" y="1086" text-anchor="end">0</text>
<text x="26" y="1127.8" text-anchor="end">0.5</text>
<text x="26" y="1169.6" text-anchor="end">1</text>
<text x="26" y="1211.4" text-anchor="end">1.5</text>
<text x="26" y="1253.2" text-anchor="end">2</text>
<text x="26" y="1295" text-anchor="end">2.5</text>
<text x="26" y="1336.8" text-anchor="end">3</text>
<text x="26" y="1378.6" text-anchor="end">3.5</text>
<text x="26" y="1420.4" text-anchor="end">4</text>
<text x="26" y="1462.2" text-anchor="end">4.5</text>
<text x="26" y="1504" text-anchor="end">5</text>
<text x="1.8" y="1531.2">µm</text>
<rect x="537.6" y="1071.3" width="29.3" height="445.5" fill="url(#cg_e)" stroke="#000" stroke-width="1.6"/>
<text x="583.5" y="1519.5">0</text>
<text x="583.5" y="1470.17">2.5</text>
<text x="583.5" y="1420.85">5</text>
<text x="583.5" y="1371.53">7.5</text>
<text x="583.5" y="1322.2">10</text>
<text x="583.5" y="1272.88">12.5</text>
<text x="583.5" y="1223.55">15</text>
<text x="583.5" y="1174.22">17.5</text>
<text x="583.5" y="1124.9">20</text>
<text x="583.5" y="1075.58">22.5</text>
<path d="M566.9 1516.8H577.9M566.9 1467.47H577.9M566.9 1418.15H577.9M566.9 1368.83H577.9M566.9 1319.5H577.9M566.9 1270.17H577.9M566.9 1220.85H577.9M566.9 1171.52H577.9M566.9 1122.2H577.9M566.9 1072.88H577.9" stroke="#000" stroke-width="1.6" fill="none"/>
<text x="583.5" y="1048.5">nm</text>
<rect x="713.9" y="1082.3" width="417.6" height="421.7" fill="none" stroke="#000" stroke-width="1.6"/>
<path d="M713.9 1082.3V1071M713.9 1504V1515.3M713.9 1082.3H702.6M1131.5 1082.3H1142.8M722.25 1082.3V1078M722.25 1504V1508.3M713.9 1090.73H709.6M1131.5 1090.73H1135.8M730.6 1082.3V1078M730.6 1504V1508.3M713.9 1099.17H709.6M1131.5 1099.17H1135.8M738.96 1082.3V1078M738.96 1504V1508.3M713.9 1107.6H709.6M1131.5 1107.6H1135.8M747.31 1082.3V1078M747.31 1504V1508.3M713.9 1116.04H709.6M1131.5 1116.04H1135.8M755.66 1082.3V1076.1M755.66 1504V1510.2M713.9 1124.47H707.7M1131.5 1124.47H1137.7M764.01 1082.3V1078M764.01 1504V1508.3M713.9 1132.9H709.6M1131.5 1132.9H1135.8M772.36 1082.3V1078M772.36 1504V1508.3M713.9 1141.34H709.6M1131.5 1141.34H1135.8M780.72 1082.3V1078M780.72 1504V1508.3M713.9 1149.77H709.6M1131.5 1149.77H1135.8M789.07 1082.3V1078M789.07 1504V1508.3M713.9 1158.21H709.6M1131.5 1158.21H1135.8M797.42 1082.3V1071M797.42 1504V1515.3M713.9 1166.64H702.6M1131.5 1166.64H1142.8M805.77 1082.3V1078M805.77 1504V1508.3M713.9 1175.07H709.6M1131.5 1175.07H1135.8M814.12 1082.3V1078M814.12 1504V1508.3M713.9 1183.51H709.6M1131.5 1183.51H1135.8M822.48 1082.3V1078M822.48 1504V1508.3M713.9 1191.94H709.6M1131.5 1191.94H1135.8M830.83 1082.3V1078M830.83 1504V1508.3M713.9 1200.38H709.6M1131.5 1200.38H1135.8M839.18 1082.3V1076.1M839.18 1504V1510.2M713.9 1208.81H707.7M1131.5 1208.81H1137.7M847.53 1082.3V1078M847.53 1504V1508.3M713.9 1217.24H709.6M1131.5 1217.24H1135.8M855.88 1082.3V1078M855.88 1504V1508.3M713.9 1225.68H709.6M1131.5 1225.68H1135.8M864.24 1082.3V1078M864.24 1504V1508.3M713.9 1234.11H709.6M1131.5 1234.11H1135.8M872.59 1082.3V1078M872.59 1504V1508.3M713.9 1242.55H709.6M1131.5 1242.55H1135.8M880.94 1082.3V1071M880.94 1504V1515.3M713.9 1250.98H702.6M1131.5 1250.98H1142.8M889.29 1082.3V1078M889.29 1504V1508.3M713.9 1259.41H709.6M1131.5 1259.41H1135.8M897.64 1082.3V1078M897.64 1504V1508.3M713.9 1267.85H709.6M1131.5 1267.85H1135.8M906 1082.3V1078M906 1504V1508.3M713.9 1276.28H709.6M1131.5 1276.28H1135.8M914.35 1082.3V1078M914.35 1504V1508.3M713.9 1284.72H709.6M1131.5 1284.72H1135.8M922.7 1082.3V1076.1M922.7 1504V1510.2M713.9 1293.15H707.7M1131.5 1293.15H1137.7M931.05 1082.3V1078M931.05 1504V1508.3M713.9 1301.58H709.6M1131.5 1301.58H1135.8M939.4 1082.3V1078M939.4 1504V1508.3M713.9 1310.02H709.6M1131.5 1310.02H1135.8M947.76 1082.3V1078M947.76 1504V1508.3M713.9 1318.45H709.6M1131.5 1318.45H1135.8M956.11 1082.3V1078M956.11 1504V1508.3M713.9 1326.89H709.6M1131.5 1326.89H1135.8M964.46 1082.3V1071M964.46 1504V1515.3M713.9 1335.32H702.6M1131.5 1335.32H1142.8M972.81 1082.3V1078M972.81 1504V1508.3M713.9 1343.75H709.6M1131.5 1343.75H1135.8M981.16 1082.3V1078M981.16 1504V1508.3M713.9 1352.19H709.6M1131.5 1352.19H1135.8M989.52 1082.3V1078M989.52 1504V1508.3M713.9 1360.62H709.6M1131.5 1360.62H1135.8M997.87 1082.3V1078M997.87 1504V1508.3M713.9 1369.06H709.6M1131.5 1369.06H1135.8M1006.22 1082.3V1076.1M1006.22 1504V1510.2M713.9 1377.49H707.7M1131.5 1377.49H1137.7M1014.57 1082.3V1078M1014.57 1504V1508.3M713.9 1385.92H709.6M1131.5 1385.92H1135.8M1022.92 1082.3V1078M1022.92 1504V1508.3M713.9 1394.36H709.6M1131.5 1394.36H1135.8M1031.28 1082.3V1078M1031.28 1504V1508.3M713.9 1402.79H709.6M1131.5 1402.79H1135.8M1039.63 1082.3V1078M1039.63 1504V1508.3M713.9 1411.23H709.6M1131.5 1411.23H1135.8M1047.98 1082.3V1071M1047.98 1504V1515.3M713.9 1419.66H702.6M1131.5 1419.66H1142.8M1056.33 1082.3V1078M1056.33 1504V1508.3M713.9 1428.09H709.6M1131.5 1428.09H1135.8M1064.68 1082.3V1078M1064.68 1504V1508.3M713.9 1436.53H709.6M1131.5 1436.53H1135.8M1073.04 1082.3V1078M1073.04 1504V1508.3M713.9 1444.96H709.6M1131.5 1444.96H1135.8M1081.39 1082.3V1078M1081.39 1504V1508.3M713.9 1453.4H709.6M1131.5 1453.4H1135.8M1089.74 1082.3V1076.1M1089.74 1504V1510.2M713.9 1461.83H707.7M1131.5 1461.83H1137.7M1098.09 1082.3V1078M1098.09 1504V1508.3M713.9 1470.26H709.6M1131.5 1470.26H1135.8M1106.44 1082.3V1078M1106.44 1504V1508.3M713.9 1478.7H709.6M1131.5 1478.7H1135.8M1114.8 1082.3V1078M1114.8 1504V1508.3M713.9 1487.13H709.6M1131.5 1487.13H1135.8M1123.15 1082.3V1078M1123.15 1504V1508.3M713.9 1495.57H709.6M1131.5 1495.57H1135.8M1131.5 1082.3V1071M1131.5 1504V1515.3M713.9 1504H702.6M1131.5 1504H1142.8" stroke="#000" stroke-width="1.6" fill="none"/>
<text x="712.4" y="1063.1" text-anchor="middle">0</text>
<text x="795.92" y="1063.1" text-anchor="middle">1</text>
<text x="879.44" y="1063.1" text-anchor="middle">2</text>
<text x="962.96" y="1063.1" text-anchor="middle">3</text>
<text x="1046.48" y="1063.1" text-anchor="middle">4</text>
<text x="1125.3" y="1063.1">5 µm</text>
<text x="692.1" y="1084.3" text-anchor="end">0</text>
<text x="692.1" y="1126.47" text-anchor="end">0.5</text>
<text x="692.1" y="1168.64" text-anchor="end">1</text>
<text x="692.1" y="1210.81" text-anchor="end">1.5</text>
<text x="692.1" y="1252.98" text-anchor="end">2</text>
<text x="692.1" y="1295.15" text-anchor="end">2.5</text>
<text x="692.1" y="1337.32" text-anchor="end">3</text>
<text x="692.1" y="1379.49" text-anchor="end">3.5</text>
<text x="692.1" y="1421.66" text-anchor="end">4</text>
<text x="692.1" y="1463.83" text-anchor="end">4.5</text>
<text x="692.1" y="1506" text-anchor="end">5</text>
<text x="667.9" y="1533.2">µm</text>
<rect x="1205" y="1071.7" width="29.4" height="445.1" fill="url(#cg_f)" stroke="#000" stroke-width="1.6"/>
<text x="1251" y="1519.5">0</text>
<text x="1251" y="1485.38">2.5</text>
<text x="1251" y="1451.27">5</text>
<text x="1251" y="1417.15">7.5</text>
<text x="1251" y="1383.04">10</text>
<text x="1251" y="1348.92">12.5</text>
<text x="1251" y="1314.81">15</text>
<text x="1251" y="1280.69">17.5</text>
<text x="1251" y="1246.58">20</text>
<text x="1251" y="1212.46">22.5</text>
<text x="1251" y="1178.35">25</text>
<text x="1251" y="1144.23">27.5</text>
<text x="1251" y="1110.12">30</text>
<text x="1251" y="1076">32.5</text>
<path d="M1234.4 1516.8H1245.4M1234.4 1482.68H1245.4M1234.4 1448.57H1245.4M1234.4 1414.45H1245.4M1234.4 1380.34H1245.4M1234.4 1346.22H1245.4M1234.4 1312.11H1245.4M1234.4 1277.99H1245.4M1234.4 1243.88H1245.4M1234.4 1209.76H1245.4M1234.4 1175.65H1245.4M1234.4 1141.53H1245.4M1234.4 1107.42H1245.4M1234.4 1073.3H1245.4" stroke="#000" stroke-width="1.6" fill="none"/>
<text x="1251" y="1048.9">nm</text></g>
<g clip-path="url(#chclip)" fill="none" stroke-width="4.6" stroke-linejoin="round" stroke-linecap="round">
<path d="M258.6 1868.4 L259.6 1917.9 L260.6 1914.8 L261.6 1899.6 L262.6 1884.3 L263.6 1878.3 L264.6 1885.6 L265.6 1900.8 L266.6 1924.8 L267.6 1965.0 L268.6 1983.9 L269.6 1978.9 L270.6 1969.8 L271.6 1962.4 L272.6 1961.9 L273.6 1964.8 L274.6 1969.1 L275.6 1981.4 L276.6 2002.4 L277.6 2020.5 L278.6 2025.1 L279.6 2020.2 L280.6 2012.8 L281.6 2006.5 L282.6 2006.7 L283.6 2015.8 L284.6 2029.5 L285.6 2042.4 L286.6 2049.7 L287.6 2050.2 L288.6 2047.9 L289.6 2044.6 L290.6 2041.9 L291.6 2041.0 L292.6 2044.1 L293.6 2052.4 L294.6 2061.0 L295.6 2064.4 L296.6 2064.3 L297.6 2063.5 L298.6 2062.0 L299.6 2060.8 L300.6 2060.0 L301.6 2059.7 L302.6 2061.5 L303.6 2066.6 L304.6 2072.8 L305.6 2078.7 L306.6 2082.5 L307.6 2084.3 L308.6 2085.3 L309.6 2086.4 L310.6 2087.3 L311.6 2088.5 L312.6 2089.0 L313.6 2089.9 L314.6 2090.6 L315.6 2091.2 L316.6 2091.7 L317.6 2092.7 L318.6 2093.9 L319.6 2094.6 L320.6 2095.1 L321.6 2095.9 L322.6 2096.9 L323.6 2098.0 L324.6 2099.0 L325.6 2099.5 L326.6 2100.1 L327.6 2101.1 L328.6 2102.2 L329.6 2102.6 L330.6 2103.1 L331.6 2104.1 L332.6 2105.1 L333.6 2105.5 L334.6 2105.7 L335.6 2106.0 L336.6 2106.7 L337.6 2107.8 L338.6 2108.5 L339.6 2108.8 L340.6 2108.8 L341.6 2109.5 L342.6 2110.7 L343.6 2111.4 L344.6 2111.6 L345.6 2112.2 L346.6 2113.0 L347.6 2113.7 L348.6 2114.2 L349.6 2114.5 L350.6 2114.7 L351.6 2115.3 L352.6 2115.4 L353.6 2115.6 L354.6 2116.0 L355.6 2116.6 L356.6 2117.0 L357.6 2117.4 L358.6 2118.3 L359.6 2118.7 L360.6 2119.3 L361.6 2119.8 L362.6 2120.3 L363.6 2120.2 L364.6 2119.9 L365.6 2120.5 L366.6 2121.2 L367.6 2121.6 L368.6 2121.5 L369.6 2121.9 L370.6 2122.5 L371.6 2122.9 L372.6 2123.2 L373.6 2123.1 L374.6 2123.5 L375.6 2123.6 L376.6 2124.1 L377.6 2124.7 L378.6 2125.0 L379.6 2124.3 L380.6 2124.3 L381.6 2125.7 L382.6 2126.4 L383.6 2126.0 L384.6 2125.8 L385.6 2126.2 L386.6 2126.5 L387.6 2126.5 L388.6 2127.1 L389.6 2127.4 L390.6 2127.7 L391.6 2127.8 L392.6 2127.9 L393.6 2128.0 L394.6 2128.1 L395.6 2128.4 L396.6 2128.5 L397.6 2128.6 L398.6 2129.2 L399.6 2129.8 L400.6 2130.1 L401.6 2130.1 L402.6 2130.2 L403.6 2130.3 L404.6 2130.5 L405.6 2130.9 L406.6 2130.8 L407.6 2130.9 L408.6 2131.1 L409.6 2131.1 L410.6 2130.8 L411.6 2131.0 L412.6 2131.8 L413.6 2132.1 L414.6 2132.1 L415.6 2131.5 L416.6 2131.7 L417.6 2132.2 L418.6 2132.9 L419.6 2132.8 L420.6 2132.7 L421.6 2133.1 L422.6 2133.6 L423.6 2134.1 L424.6 2134.2 L425.6 2133.9 L426.6 2133.5 L427.6 2133.6 L428.6 2133.9 L429.6 2134.0 L430.6 2134.1 L431.6 2133.8 L432.6 2134.0 L433.6 2134.1 L434.6 2134.1 L435.6 2134.1 L436.6 2134.7 L437.6 2135.1 L438.6 2135.0 L439.6 2134.4 L440.6 2134.9 L441.6 2135.3 L442.6 2135.1 L443.6 2134.1 L444.6 2133.9 L445.6 2133.9 L446.6 2133.9 L447.6 2133.9 L448.6 2134.4 L449.6 2134.7 L450.6 2134.2 L451.6 2133.6 L452.6 2133.2 L453.6 2133.9 L454.6 2134.1 L455.6 2134.5 L456.6 2134.0 L457.6 2134.3 L458.6 2134.8 L459.6 2134.8 L460.6 2134.2 L461.6 2133.7 L462.6 2133.8 L463.6 2133.5 L464.6 2133.9 L465.6 2133.9 L466.6 2133.9 L467.6 2133.6 L468.6 2133.8 L469.6 2133.7 L470.6 2133.4 L471.6 2133.5 L472.6 2133.3 L473.6 2133.2 L474.6 2133.2 L475.6 2133.4 L476.6 2133.5 L477.6 2133.5 L478.6 2133.7 L479.6 2133.7 L480.6 2133.6 L481.6 2133.3 L482.6 2133.2 L483.6 2132.9 L484.6 2133.1 L485.6 2133.1 L486.6 2133.0 L487.6 2133.0 L488.6 2133.4 L489.6 2133.5 L490.6 2132.8 L491.6 2132.7 L492.6 2133.0 L493.6 2133.1 L494.6 2133.1 L495.6 2133.0 L496.6 2132.9 L497.6 2132.7 L498.6 2132.9 L499.6 2133.1 L500.6 2132.8 L501.6 2133.1 L502.6 2133.1 L503.6 2132.9 L504.6 2132.6 L505.6 2132.8 L506.6 2133.1 L507.6 2132.9 L508.6 2132.9 L509.6 2132.9 L510.6 2132.8 L511.6 2132.9 L512.6 2132.8 L513.6 2132.6 L514.6 2132.5 L515.6 2132.7 L516.6 2132.9 L517.6 2132.6 L518.6 2132.5 L519.6 2132.3 L520.6 2132.0 L521.6 2132.0 L522.6 2132.1 L523.6 2132.2 L524.6 2132.3 L525.6 2132.8 L526.6 2132.6 L527.6 2132.3 L528.6 2132.2 L529.6 2131.9 L530.6 2132.5 L531.6 2132.6 L532.6 2132.7 L533.6 2132.2 L534.6 2132.4 L535.6 2132.1 L536.6 2131.9 L537.6 2132.3 L538.6 2132.6 L539.6 2132.2 L540.6 2132.2 L541.6 2132.1 L542.6 2132.1 L543.6 2132.1 L544.6 2132.1 L545.6 2131.6 L546.6 2131.5 L547.6 2131.5 L548.6 2132.0 L549.6 2132.2 L550.6 2132.4 L551.6 2132.3 L552.6 2132.2 L553.6 2131.8 L554.6 2131.8 L555.6 2132.2 L556.6 2132.4 L557.6 2131.9 L558.6 2131.3 L559.6 2131.2 L560.6 2131.0 L561.6 2131.0 L562.6 2131.0 L563.6 2131.4 L564.6 2131.4 L565.6 2131.3 L566.6 2131.1 L567.6 2131.0 L568.6 2131.2 L569.6 2130.9 L570.6 2130.7 L571.6 2130.4 L572.6 2130.6 L573.6 2130.7 L574.6 2130.8 L575.6 2130.8 L576.6 2131.5 L577.6 2131.9 L578.6 2132.2 L579.6 2131.8 L580.6 2131.9 L581.6 2132.1 L582.6 2132.2 L583.6 2132.1 L584.6 2132.2 L585.6 2132.4 L586.6 2132.9 L587.6 2133.4 L588.6 2133.6 L589.6 2133.4 L590.6 2132.9 L591.6 2133.0 L592.6 2133.1 L593.6 2133.5 L594.6 2133.8 L595.6 2133.4 L596.6 2133.1 L597.6 2132.7 L598.6 2133.3 L599.6 2133.1 L600.6 2133.1 L601.6 2133.2 L602.6 2133.7 L603.6 2133.9 L604.6 2133.7 L605.6 2133.4 L606.6 2133.6 L607.6 2133.9 L608.6 2133.7 L609.6 2133.6 L610.6 2133.9 L611.6 2134.5 L612.6 2134.3 L613.6 2134.3 L614.6 2134.0 L615.6 2134.1 L616.6 2134.0 L617.6 2134.4 L618.6 2134.6 L619.6 2134.6 L620.6 2134.4 L621.6 2134.2 L622.6 2134.7 L623.6 2135.0 L624.6 2134.7 L625.6 2134.5 L626.6 2134.6 L627.6 2135.5 L628.6 2135.1 L629.6 2134.6 L630.6 2134.5 L631.6 2134.8 L632.6 2134.5 L633.6 2134.4 L634.6 2135.1 L635.6 2135.3 L636.6 2135.2 L637.6 2135.1 L638.6 2135.6 L639.6 2135.6 L640.6 2135.8 L641.6 2135.3 L642.6 2135.2 L643.6 2135.0 L644.6 2135.6 L645.6 2135.9 L646.6 2135.7 L647.6 2135.6 L648.6 2135.7 L649.6 2135.9 L650.6 2135.7 L651.6 2135.5 L652.6 2135.1 L653.6 2135.1 L654.6 2135.3 L655.6 2135.5 L656.6 2135.6 L657.6 2135.3 L658.6 2135.2 L659.6 2135.0 L660.6 2135.8 L661.6 2135.8 L662.6 2135.7 L663.6 2135.6 L664.6 2136.1 L665.6 2136.2 L666.6 2135.8 L667.6 2135.1 L668.6 2134.9 L669.6 2135.1 L670.6 2135.4 L671.6 2135.0 L672.6 2135.5 L673.6 2135.9 L674.6 2136.0 L675.6 2135.8 L676.6 2135.8 L677.6 2135.9 L678.6 2135.7 L679.6 2135.6 L680.6 2135.7 L681.6 2135.9 L682.6 2135.8 L683.6 2135.9 L684.6 2135.8 L685.6 2135.8 L686.6 2135.7 L687.6 2136.2 L688.6 2136.1 L689.6 2136.2 L690.6 2136.1 L691.6 2136.1 L692.6 2135.5 L693.6 2135.6 L694.6 2135.7 L695.6 2135.6 L696.6 2135.1 L697.6 2135.0 L698.6 2135.1 L699.6 2135.6 L700.6 2136.2 L701.6 2136.6 L702.6 2136.4 L703.6 2135.9 L704.6 2135.7 L705.6 2135.8 L706.6 2136.5 L707.6 2136.8 L708.6 2136.4 L709.6 2135.8 L710.6 2135.6 L711.6 2135.4 L712.6 2135.3 L713.6 2135.5 L714.6 2136.2 L715.6 2136.3 L716.6 2136.5 L717.6 2136.5 L718.6 2136.6 L719.6 2136.5 L720.6 2136.4 L721.6 2136.2 L722.6 2135.8 L723.6 2135.7 L724.6 2135.8 L725.6 2135.6 L726.6 2135.7 L727.6 2135.8 L728.6 2135.7 L729.6 2135.6 L730.6 2135.2 L731.6 2135.4 L732.6 2135.6 L733.6 2136.0 L734.6 2136.0 L735.6 2136.0 L736.6 2135.9 L737.6 2135.6 L738.6 2135.7 L739.6 2136.1 L740.6 2136.3 L741.6 2136.7 L742.6 2136.6 L743.6 2136.6 L744.6 2136.3 L745.6 2136.4 L746.6 2135.8 L747.6 2135.2 L748.6 2135.3 L749.6 2135.8 L750.6 2136.2 L751.6 2136.2 L752.6 2135.8 L753.6 2135.9 L754.6 2135.4 L755.6 2135.3 L756.6 2135.4 L757.6 2135.6 L758.6 2135.9 L759.6 2135.8 L760.6 2135.6 L761.6 2134.9 L762.6 2135.5 L763.6 2135.7 L764.6 2136.0 L765.6 2136.0 L766.6 2136.2 L767.6 2135.7 L768.6 2135.4 L769.6 2135.7 L770.6 2135.9 L771.6 2135.6 L772.6 2135.3 L773.6 2135.8 L774.6 2136.1 L775.6 2136.3 L776.6 2135.9 L777.6 2135.9 L778.6 2136.0 L779.6 2135.9 L780.6 2135.8 L781.6 2136.5 L782.6 2136.7 L783.6 2136.2 L784.6 2136.0 L785.6 2136.0 L786.6 2135.3 L787.6 2134.6 L788.6 2134.9 L789.6 2135.3 L790.6 2135.7 L791.6 2136.0 L792.6 2135.8 L793.6 2135.7 L794.6 2136.2 L795.6 2136.8 L796.6 2136.9 L797.6 2136.5 L798.6 2136.3 L799.6 2136.0 L800.6 2136.0 L801.6 2135.9 L802.6 2136.3 L803.6 2136.3 L804.6 2136.0 L805.6 2135.6 L806.6 2135.8 L807.6 2135.7 L808.6 2135.2 L809.6 2134.6 L810.6 2134.2 L811.6 2134.2 L812.6 2134.4 L813.6 2134.4 L814.6 2133.7 L815.6 2132.7 L816.6 2131.9 L817.6 2131.0 L818.6 2130.6 L819.6 2130.4 L820.6 2130.4 L821.6 2129.9 L822.6 2129.5 L823.6 2129.5 L824.6 2130.3 L825.6 2130.9 L826.6 2130.9 L827.6 2131.1 L828.6 2132.3 L829.6 2133.7 L830.6 2134.3 L831.6 2134.4 L832.6 2134.2 L833.6 2133.9 L834.6 2133.9 L835.6 2134.6 L836.6 2135.3 L837.6 2135.9 L838.6 2136.0 L839.6 2136.1 L840.6 2136.1 L841.6 2135.9 L842.6 2135.9 L843.6 2135.9 L844.6 2135.3 L845.6 2134.7 L846.6 2135.1 L847.6 2135.1 L848.6 2135.0 L849.6 2135.1 L850.6 2135.5 L851.6 2135.2 L852.6 2135.1 L853.6 2135.4 L854.6 2136.0 L855.6 2136.3 L856.6 2136.0 L857.6 2135.4 L858.6 2135.5 L859.6 2136.4 L860.6 2136.8 L861.6 2136.6 L862.6 2136.6 L863.6 2136.6 L864.6 2136.4 L865.6 2135.6 L866.6 2135.4 L867.6 2136.0 L868.6 2136.2 L869.6 2136.1 L870.6 2135.4 L871.6 2135.6 L872.6 2135.9 L873.6 2136.3 L874.6 2136.3 L875.6 2136.4 L876.6 2136.5 L877.6 2136.7 L878.6 2136.8 L879.6 2136.6 L880.6 2136.0 L881.6 2135.6 L882.6 2135.7 L883.6 2135.9 L884.6 2136.7 L885.6 2137.2 L886.6 2137.2 L887.6 2136.3 L888.6 2136.3 L889.6 2136.1 L890.6 2135.8 L891.6 2135.7 L892.6 2136.0 L893.6 2135.9 L894.6 2135.6 L895.6 2136.0 L896.6 2136.2 L897.6 2136.4 L898.6 2136.4 L899.6 2136.4 L900.6 2136.5 L901.6 2136.3 L902.6 2135.8 L903.6 2135.1 L904.6 2134.9 L905.6 2135.1 L906.6 2135.8 L907.6 2136.3 L908.6 2136.2 L909.6 2135.7 L910.6 2135.5 L911.6 2135.6 L912.6 2135.7 L913.6 2135.5 L914.6 2135.4 L915.6 2135.9 L916.6 2135.8 L917.6 2135.6 L918.6 2135.1 L919.6 2135.5 L920.6 2135.5 L921.6 2135.5 L922.6 2135.4 L923.6 2136.1 L924.6 2136.7 L925.6 2136.8 L926.6 2136.5 L927.6 2135.9 L928.6 2135.6 L929.6 2135.7 L930.6 2135.8 L931.6 2135.8 L932.6 2136.1 L933.6 2136.3 L934.6 2136.2 L935.6 2136.1 L936.6 2136.2 L937.6 2135.9 L938.6 2136.1 L939.6 2135.9 L940.6 2136.3 L941.6 2136.4 L942.6 2136.9 L943.6 2136.5 L944.6 2136.1 L945.6 2136.0 L946.6 2135.7 L947.6 2135.3 L948.6 2135.5 L949.6 2136.3 L950.6 2136.8 L951.6 2136.5 L952.6 2136.4 L953.6 2136.1 L954.6 2135.8 L955.6 2135.2 L956.6 2135.2 L957.6 2135.5 L958.6 2135.8 L959.6 2135.1 L960.6 2134.5 L961.6 2134.7 L962.6 2135.7 L963.6 2136.0 L964.6 2135.9 L965.6 2135.3 L966.6 2135.8 L967.6 2136.0 L968.6 2136.7 L969.6 2136.8 L970.6 2137.1 L971.6 2136.5 L972.6 2136.1 L973.6 2135.9 L974.6 2136.0 L975.6 2136.0 L976.6 2136.4 L977.6 2136.6 L978.6 2137.0 L979.6 2136.9 L980.6 2136.7 L981.6 2136.3 L982.6 2136.0 L983.6 2135.7 L984.6 2135.6 L985.6 2136.0 L986.6 2136.5 L987.6 2137.0 L988.6 2136.8 L989.6 2136.6 L990.6 2136.2 L991.6 2135.9 L992.6 2135.9 L993.6 2136.2 L994.6 2136.2 L995.6 2136.1 L996.6 2135.8 L997.6 2135.8 L998.6 2135.7 L999.6 2135.9 L1000.6 2135.7 L1001.6 2136.0 L1002.6 2136.4 L1003.6 2136.9 L1004.6 2136.8 L1005.6 2136.3 L1006.6 2135.8 L1007.6 2135.6 L1008.6 2135.9 L1009.6 2136.4 L1010.6 2136.8 L1011.6 2136.5 L1012.6 2136.1 L1013.6 2136.1 L1014.6 2135.9 L1015.6 2135.9" stroke="#4a86c3"/>
<path d="M258.6 1848.4 L259.6 1861.3 L260.6 1873.4 L261.6 1886.2 L262.6 1899.4 L263.6 1915.2 L264.6 1924.7 L265.6 1924.6 L266.6 1923.3 L267.6 1921.8 L268.6 1920.5 L269.6 1919.9 L270.6 1924.6 L271.6 1937.9 L272.6 1951.3 L273.6 1957.3 L274.6 1958.4 L275.6 1959.2 L276.6 1959.6 L277.6 1960.7 L278.6 1962.2 L279.6 1964.5 L280.6 1967.2 L281.6 1970.3 L282.6 1973.9 L283.6 1978.1 L284.6 1981.7 L285.6 1984.3 L286.6 1986.5 L287.6 1989.6 L288.6 1992.9 L289.6 1996.0 L290.6 1998.0 L291.6 1999.0 L292.6 1998.6 L293.6 1997.8 L294.6 1997.1 L295.6 1996.0 L296.6 1995.0 L297.6 1994.5 L298.6 1995.4 L299.6 1996.7 L300.6 1998.5 L301.6 2000.9 L302.6 2004.9 L303.6 2009.0 L304.6 2013.2 L305.6 2016.5 L306.6 2020.0 L307.6 2023.0 L308.6 2025.3 L309.6 2026.2 L310.6 2027.4 L311.6 2028.9 L312.6 2029.9 L313.6 2031.0 L314.6 2031.9 L315.6 2032.2 L316.6 2032.1 L317.6 2032.8 L318.6 2033.5 L319.6 2034.3 L320.6 2034.8 L321.6 2035.7 L322.6 2036.3 L323.6 2036.6 L324.6 2036.6 L325.6 2037.7 L326.6 2039.1 L327.6 2040.6 L328.6 2041.1 L329.6 2041.5 L330.6 2041.9 L331.6 2042.6 L332.6 2043.1 L333.6 2043.3 L334.6 2044.4 L335.6 2045.5 L336.6 2046.2 L337.6 2046.3 L338.6 2046.6 L339.6 2047.2 L340.6 2047.8 L341.6 2048.2 L342.6 2048.5 L343.6 2048.8 L344.6 2049.5 L345.6 2050.3 L346.6 2050.9 L347.6 2051.5 L348.6 2051.7 L349.6 2052.2 L350.6 2052.2 L351.6 2052.6 L352.6 2053.1 L353.6 2053.6 L354.6 2053.8 L355.6 2054.0 L356.6 2054.3 L357.6 2054.5 L358.6 2054.9 L359.6 2055.6 L360.6 2056.5 L361.6 2057.1 L362.6 2057.9 L363.6 2058.2 L364.6 2058.1 L365.6 2058.2 L366.6 2058.3 L367.6 2058.7 L368.6 2058.5 L369.6 2058.9 L370.6 2058.6 L371.6 2059.1 L372.6 2059.5 L373.6 2059.9 L374.6 2060.3 L375.6 2060.9 L376.6 2061.3 L377.6 2060.9 L378.6 2060.9 L379.6 2061.1 L380.6 2061.7 L381.6 2062.1 L382.6 2062.2 L383.6 2062.0 L384.6 2061.9 L385.6 2062.0 L386.6 2062.1 L387.6 2062.4 L388.6 2063.1 L389.6 2063.8 L390.6 2063.9 L391.6 2063.8 L392.6 2063.7 L393.6 2064.5 L394.6 2064.7 L395.6 2064.9 L396.6 2064.4 L397.6 2064.3 L398.6 2064.4 L399.6 2064.8 L400.6 2065.1 L401.6 2064.9 L402.6 2065.2 L403.6 2065.2 L404.6 2065.9 L405.6 2066.0 L406.6 2066.4 L407.6 2065.9 L408.6 2066.0 L409.6 2065.8 L410.6 2066.0 L411.6 2066.0 L412.6 2066.2 L413.6 2066.5 L414.6 2066.7 L415.6 2067.1 L416.6 2067.1 L417.6 2066.6 L418.6 2066.2 L419.6 2066.3 L420.6 2066.3 L421.6 2066.5 L422.6 2066.8 L423.6 2067.2 L424.6 2067.3 L425.6 2067.6 L426.6 2067.8 L427.6 2067.3 L428.6 2067.2 L429.6 2067.4 L430.6 2067.4 L431.6 2067.5 L432.6 2067.7 L433.6 2067.4 L434.6 2067.1 L435.6 2066.8 L436.6 2067.4 L437.6 2067.7 L438.6 2067.7 L439.6 2067.1 L440.6 2067.0 L441.6 2067.3 L442.6 2067.8 L443.6 2068.0 L444.6 2067.9 L445.6 2067.6 L446.6 2067.1 L447.6 2067.0 L448.6 2067.2 L449.6 2067.7 L450.6 2067.4 L451.6 2067.3 L452.6 2067.9 L453.6 2068.2 L454.6 2067.7 L455.6 2067.5 L456.6 2067.3 L457.6 2067.4 L458.6 2067.1 L459.6 2067.7 L460.6 2067.5 L461.6 2067.8 L462.6 2067.8 L463.6 2067.6 L464.6 2066.7 L465.6 2066.5 L466.6 2067.3 L467.6 2067.9 L468.6 2068.0 L469.6 2067.6 L470.6 2067.7 L471.6 2067.9 L472.6 2068.0 L473.6 2067.6 L474.6 2067.7 L475.6 2068.1 L476.6 2068.1 L477.6 2068.1 L478.6 2068.3 L479.6 2068.3 L480.6 2067.3 L481.6 2067.2 L482.6 2067.6 L483.6 2067.9 L484.6 2067.3 L485.6 2067.4 L486.6 2067.6 L487.6 2067.8 L488.6 2068.2 L489.6 2069.0 L490.6 2069.3 L491.6 2068.5 L492.6 2068.1 L493.6 2067.4 L494.6 2067.4 L495.6 2067.2 L496.6 2067.4 L497.6 2067.0 L498.6 2067.3 L499.6 2067.7 L500.6 2068.1 L501.6 2068.2 L502.6 2068.0 L503.6 2067.6 L504.6 2067.0 L505.6 2067.1 L506.6 2067.7 L507.6 2068.1 L508.6 2068.3 L509.6 2067.9 L510.6 2067.7 L511.6 2067.5 L512.6 2067.4 L513.6 2067.9 L514.6 2068.5 L515.6 2068.6 L516.6 2067.9 L517.6 2067.7 L518.6 2067.6 L519.6 2067.8 L520.6 2067.6 L521.6 2067.8 L522.6 2067.5 L523.6 2067.6 L524.6 2067.5 L525.6 2067.3 L526.6 2067.2 L527.6 2067.4 L528.6 2067.7 L529.6 2068.0 L530.6 2068.5 L531.6 2068.9 L532.6 2068.8 L533.6 2068.5 L534.6 2068.3 L535.6 2068.5 L536.6 2068.7 L537.6 2068.5 L538.6 2068.2 L539.6 2068.4 L540.6 2068.1 L541.6 2067.5 L542.6 2067.4 L543.6 2067.6 L544.6 2067.4 L545.6 2067.4 L546.6 2068.0 L547.6 2068.4 L548.6 2069.2 L549.6 2069.2 L550.6 2069.1 L551.6 2068.7 L552.6 2068.8 L553.6 2068.3 L554.6 2067.7 L555.6 2067.5 L556.6 2068.0 L557.6 2068.9 L558.6 2069.3 L559.6 2069.1 L560.6 2068.6 L561.6 2068.7 L562.6 2069.1 L563.6 2069.2 L564.6 2068.7 L565.6 2068.3 L566.6 2068.7 L567.6 2069.0 L568.6 2069.1 L569.6 2068.9 L570.6 2068.9 L571.6 2068.9 L572.6 2068.5 L573.6 2068.0 L574.6 2067.8 L575.6 2068.1 L576.6 2069.1 L577.6 2069.3 L578.6 2068.9 L579.6 2068.7 L580.6 2068.9 L581.6 2068.8 L582.6 2068.6 L583.6 2069.0 L584.6 2069.0 L585.6 2069.2 L586.6 2069.1 L587.6 2069.2 L588.6 2068.7 L589.6 2068.4 L590.6 2068.8 L591.6 2069.3 L592.6 2069.4 L593.6 2069.0 L594.6 2069.0 L595.6 2069.2 L596.6 2069.5 L597.6 2069.9 L598.6 2069.9 L599.6 2069.5 L600.6 2068.6 L601.6 2068.9 L602.6 2069.4 L603.6 2069.9 L604.6 2069.8 L605.6 2070.2 L606.6 2070.4 L607.6 2070.2 L608.6 2069.8 L609.6 2069.8 L610.6 2069.7 L611.6 2069.8 L612.6 2070.1 L613.6 2070.6 L614.6 2070.2 L615.6 2069.9 L616.6 2069.5 L617.6 2069.5 L618.6 2069.4 L619.6 2069.6 L620.6 2069.6 L621.6 2069.8 L622.6 2070.1 L623.6 2070.0 L624.6 2070.0 L625.6 2069.4 L626.6 2069.1 L627.6 2068.8 L628.6 2069.4 L629.6 2070.1 L630.6 2069.8 L631.6 2069.6 L632.6 2069.7 L633.6 2070.4 L634.6 2070.5 L635.6 2070.5 L636.6 2070.1 L637.6 2069.9 L638.6 2069.8 L639.6 2070.2 L640.6 2070.1 L641.6 2069.9 L642.6 2069.9 L643.6 2070.7 L644.6 2071.1 L645.6 2070.9 L646.6 2070.5 L647.6 2070.6 L648.6 2070.8 L649.6 2071.2 L650.6 2071.2 L651.6 2070.7 L652.6 2070.1 L653.6 2069.9 L654.6 2069.8 L655.6 2070.2 L656.6 2070.8 L657.6 2070.8 L658.6 2070.8 L659.6 2070.9 L660.6 2070.9 L661.6 2070.5 L662.6 2070.6 L663.6 2070.6 L664.6 2070.1 L665.6 2070.0 L666.6 2070.4 L667.6 2070.3 L668.6 2070.2 L669.6 2070.6 L670.6 2071.1 L671.6 2070.9 L672.6 2070.8 L673.6 2070.7 L674.6 2070.6 L675.6 2071.0 L676.6 2071.0 L677.6 2070.9 L678.6 2070.8 L679.6 2071.0 L680.6 2070.8 L681.6 2070.5 L682.6 2070.4 L683.6 2070.6 L684.6 2071.1 L685.6 2071.1 L686.6 2071.7 L687.6 2071.8 L688.6 2071.8 L689.6 2071.1 L690.6 2071.2 L691.6 2071.4 L692.6 2071.5 L693.6 2071.8 L694.6 2071.9 L695.6 2071.8 L696.6 2071.6 L697.6 2071.4 L698.6 2072.1 L699.6 2072.1 L700.6 2071.8 L701.6 2070.7 L702.6 2070.4 L703.6 2070.6 L704.6 2070.8 L705.6 2070.8 L706.6 2070.8 L707.6 2071.0 L708.6 2071.6 L709.6 2071.5 L710.6 2071.2 L711.6 2070.7 L712.6 2070.8 L713.6 2070.6 L714.6 2070.6 L715.6 2071.1 L716.6 2071.5 L717.6 2071.5 L718.6 2071.4 L719.6 2071.6 L720.6 2071.7 L721.6 2071.6 L722.6 2071.4 L723.6 2071.5 L724.6 2071.6 L725.6 2071.7 L726.6 2071.2 L727.6 2071.4 L728.6 2071.7 L729.6 2072.6 L730.6 2072.3 L731.6 2072.2 L732.6 2071.5 L733.6 2071.6 L734.6 2071.7 L735.6 2071.6 L736.6 2071.4 L737.6 2071.3 L738.6 2071.6 L739.6 2071.7 L740.6 2071.9 L741.6 2072.1 L742.6 2072.1 L743.6 2071.7 L744.6 2071.2 L745.6 2070.9 L746.6 2070.9 L747.6 2071.3 L748.6 2071.5 L749.6 2071.3 L750.6 2071.2 L751.6 2071.2 L752.6 2071.2 L753.6 2071.1 L754.6 2071.4 L755.6 2071.1 L756.6 2070.6 L757.6 2070.7 L758.6 2071.2 L759.6 2071.3 L760.6 2071.1 L761.6 2071.5 L762.6 2071.7 L763.6 2071.9 L764.6 2071.8 L765.6 2071.8 L766.6 2071.7 L767.6 2071.5 L768.6 2071.3 L769.6 2071.0 L770.6 2071.2 L771.6 2071.4 L772.6 2071.5 L773.6 2071.0 L774.6 2071.5 L775.6 2072.0 L776.6 2072.1 L777.6 2071.5 L778.6 2070.9 L779.6 2071.0 L780.6 2071.3 L781.6 2071.4 L782.6 2071.4 L783.6 2071.7 L784.6 2071.8 L785.6 2071.3 L786.6 2071.0 L787.6 2071.3 L788.6 2071.4 L789.6 2071.2 L790.6 2071.3 L791.6 2071.7 L792.6 2072.2 L793.6 2072.3 L794.6 2072.1 L795.6 2071.8 L796.6 2071.8 L797.6 2072.0 L798.6 2071.9 L799.6 2071.5 L800.6 2071.3 L801.6 2071.2 L802.6 2071.2 L803.6 2070.7 L804.6 2070.8 L805.6 2070.8 L806.6 2071.0 L807.6 2071.0 L808.6 2071.2 L809.6 2071.7 L810.6 2071.7 L811.6 2071.0 L812.6 2070.2 L813.6 2069.9 L814.6 2069.9 L815.6 2069.5 L816.6 2069.0 L817.6 2068.5 L818.6 2068.2 L819.6 2067.7 L820.6 2067.3 L821.6 2067.4 L822.6 2068.2 L823.6 2068.4 L824.6 2068.4 L825.6 2068.5 L826.6 2069.0 L827.6 2069.8 L828.6 2070.3 L829.6 2070.4 L830.6 2070.6 L831.6 2071.2 L832.6 2071.4 L833.6 2071.2 L834.6 2070.7 L835.6 2070.7 L836.6 2070.7 L837.6 2071.0 L838.6 2071.1 L839.6 2071.3 L840.6 2071.3 L841.6 2071.6 L842.6 2071.7 L843.6 2071.6 L844.6 2071.1 L845.6 2071.3 L846.6 2071.9 L847.6 2072.1 L848.6 2071.9 L849.6 2071.3 L850.6 2070.9 L851.6 2070.7 L852.6 2071.4 L853.6 2071.7 L854.6 2071.4 L855.6 2071.4 L856.6 2071.4 L857.6 2071.5 L858.6 2071.4 L859.6 2071.8 L860.6 2071.6 L861.6 2072.2 L862.6 2072.1 L863.6 2071.7 L864.6 2071.2 L865.6 2071.3 L866.6 2071.0 L867.6 2071.4 L868.6 2071.8 L869.6 2071.6 L870.6 2070.9 L871.6 2071.0 L872.6 2071.6 L873.6 2071.4 L874.6 2071.2 L875.6 2071.3 L876.6 2071.7 L877.6 2071.8 L878.6 2071.3 L879.6 2071.5 L880.6 2071.7 L881.6 2072.4 L882.6 2072.7 L883.6 2072.7 L884.6 2071.7 L885.6 2071.1 L886.6 2071.1 L887.6 2071.0 L888.6 2070.2 L889.6 2070.2 L890.6 2070.0 L891.6 2069.2 L892.6 2068.2 L893.6 2067.5 L894.6 2067.3 L895.6 2067.1 L896.6 2066.8 L897.6 2066.8 L898.6 2067.0 L899.6 2067.5 L900.6 2068.2 L901.6 2068.8 L902.6 2068.9 L903.6 2069.2 L904.6 2070.0 L905.6 2070.7 L906.6 2070.9 L907.6 2071.0 L908.6 2071.3 L909.6 2071.6 L910.6 2071.5 L911.6 2071.3 L912.6 2071.2 L913.6 2071.3 L914.6 2071.4 L915.6 2071.6 L916.6 2071.8 L917.6 2071.5 L918.6 2071.2 L919.6 2071.6 L920.6 2072.1 L921.6 2072.0 L922.6 2071.2 L923.6 2071.5 L924.6 2072.3 L925.6 2072.5 L926.6 2072.2 L927.6 2071.6 L928.6 2071.4 L929.6 2071.4 L930.6 2071.4 L931.6 2071.0 L932.6 2071.1 L933.6 2071.9 L934.6 2072.0 L935.6 2071.7 L936.6 2071.9 L937.6 2072.0 L938.6 2071.5 L939.6 2071.1 L940.6 2071.2 L941.6 2071.7 L942.6 2071.9 L943.6 2071.7 L944.6 2071.9 L945.6 2072.0 L946.6 2072.1 L947.6 2071.8 L948.6 2072.1 L949.6 2072.0 L950.6 2071.9 L951.6 2071.8 L952.6 2071.4 L953.6 2071.1 L954.6 2071.2 L955.6 2071.4 L956.6 2071.5 L957.6 2071.4 L958.6 2071.7 L959.6 2072.2 L960.6 2071.9 L961.6 2071.3 L962.6 2070.9 L963.6 2070.8 L964.6 2070.7 L965.6 2071.0 L966.6 2071.4 L967.6 2071.2 L968.6 2071.5 L969.6 2072.0 L970.6 2072.3 L971.6 2072.1 L972.6 2071.8 L973.6 2071.7 L974.6 2071.4 L975.6 2071.4 L976.6 2071.3 L977.6 2071.5 L978.6 2071.7 L979.6 2072.0 L980.6 2072.1 L981.6 2072.6 L982.6 2072.2 L983.6 2071.6 L984.6 2071.0 L985.6 2071.3 L986.6 2071.0 L987.6 2071.1 L988.6 2071.2 L989.6 2071.4 L990.6 2071.3 L991.6 2071.2 L992.6 2070.8 L993.6 2071.0 L994.6 2071.3 L995.6 2071.5 L996.6 2071.3 L997.6 2071.3 L998.6 2071.0 L999.6 2071.0 L1000.6 2071.0 L1001.6 2071.2 L1002.6 2071.2 L1003.6 2071.9 L1004.6 2072.3 L1005.6 2072.3 L1006.6 2071.7 L1007.6 2071.3 L1008.6 2071.5 L1009.6 2072.2 L1010.6 2072.5 L1011.6 2072.0 L1012.6 2071.8 L1013.6 2071.7 L1014.6 2071.6 L1015.6 2071.4" stroke="#d5702f"/>
<path d="M258.6 1804.2 L259.6 1813.1 L260.6 1821.6 L261.6 1830.4 L262.6 1838.2 L263.6 1846.0 L264.6 1854.0 L265.6 1861.9 L266.6 1870.5 L267.6 1877.7 L268.6 1883.4 L269.6 1887.3 L270.6 1890.7 L271.6 1893.7 L272.6 1896.3 L273.6 1899.1 L274.6 1901.7 L275.6 1904.2 L276.6 1906.6 L277.6 1909.4 L278.6 1912.7 L279.6 1916.5 L280.6 1919.9 L281.6 1923.0 L282.6 1926.4 L283.6 1930.0 L284.6 1932.5 L285.6 1933.9 L286.6 1934.6 L287.6 1934.6 L288.6 1934.1 L289.6 1933.5 L290.6 1933.1 L291.6 1932.2 L292.6 1931.1 L293.6 1929.4 L294.6 1928.4 L295.6 1927.6 L296.6 1927.1 L297.6 1926.6 L298.6 1927.5 L299.6 1930.1 L300.6 1933.0 L301.6 1936.3 L302.6 1940.0 L303.6 1944.9 L304.6 1950.0 L305.6 1954.9 L306.6 1959.4 L307.6 1963.2 L308.6 1965.7 L309.6 1967.3 L310.6 1969.0 L311.6 1970.4 L312.6 1971.1 L313.6 1971.9 L314.6 1972.3 L315.6 1973.3 L316.6 1974.3 L317.6 1975.3 L318.6 1975.8 L319.6 1976.4 L320.6 1977.7 L321.6 1978.2 L322.6 1978.8 L323.6 1979.7 L324.6 1981.3 L325.6 1981.8 L326.6 1982.0 L327.6 1982.7 L328.6 1983.8 L329.6 1984.9 L330.6 1985.4 L331.6 1986.1 L332.6 1986.3 L333.6 1987.4 L334.6 1988.1 L335.6 1988.7 L336.6 1988.5 L337.6 1989.4 L338.6 1990.4 L339.6 1991.5 L340.6 1991.9 L341.6 1992.4 L342.6 1992.5 L343.6 1992.5 L344.6 1992.7 L345.6 1993.7 L346.6 1994.2 L347.6 1994.5 L348.6 1994.7 L349.6 1995.5 L350.6 1996.3 L351.6 1996.5 L352.6 1996.4 L353.6 1996.6 L354.6 1997.7 L355.6 1998.7 L356.6 1999.1 L357.6 1999.0 L358.6 1999.2 L359.6 1999.4 L360.6 1999.9 L361.6 2000.1 L362.6 2000.3 L363.6 2000.4 L364.6 2000.9 L365.6 2001.2 L366.6 2002.0 L367.6 2002.6 L368.6 2003.1 L369.6 2002.2 L370.6 2001.8 L371.6 2001.6 L372.6 2002.4 L373.6 2002.2 L374.6 2002.6 L375.6 2003.1 L376.6 2003.5 L377.6 2003.0 L378.6 2002.8 L379.6 2003.3 L380.6 2003.9 L381.6 2004.7 L382.6 2005.0 L383.6 2005.0 L384.6 2004.8 L385.6 2005.4 L386.6 2005.7 L387.6 2006.0 L388.6 2005.6 L389.6 2005.4 L390.6 2005.2 L391.6 2005.9 L392.6 2006.5 L393.6 2006.7 L394.6 2006.4 L395.6 2006.5 L396.6 2006.7 L397.6 2006.7 L398.6 2006.8 L399.6 2007.8 L400.6 2008.3 L401.6 2008.0 L402.6 2007.3 L403.6 2007.1 L404.6 2007.5 L405.6 2008.2 L406.6 2008.6 L407.6 2008.5 L408.6 2008.5 L409.6 2008.5 L410.6 2008.1 L411.6 2007.9 L412.6 2008.0 L413.6 2008.3 L414.6 2008.2 L415.6 2008.1 L416.6 2008.2 L417.6 2008.5 L418.6 2008.7 L419.6 2008.7 L420.6 2008.7 L421.6 2009.1 L422.6 2009.5 L423.6 2008.9 L424.6 2008.7 L425.6 2008.5 L426.6 2008.9 L427.6 2008.9 L428.6 2009.4 L429.6 2009.6 L430.6 2009.5 L431.6 2009.5 L432.6 2009.4 L433.6 2009.2 L434.6 2009.0 L435.6 2009.0 L436.6 2009.5 L437.6 2009.7 L438.6 2010.2 L439.6 2009.9 L440.6 2009.4 L441.6 2008.9 L442.6 2009.1 L443.6 2009.1 L444.6 2009.1 L445.6 2009.0 L446.6 2009.4 L447.6 2009.3 L448.6 2009.4 L449.6 2009.1 L450.6 2008.9 L451.6 2008.5 L452.6 2008.4 L453.6 2008.6 L454.6 2009.1 L455.6 2009.5 L456.6 2009.6 L457.6 2009.8 L458.6 2009.9 L459.6 2009.7 L460.6 2009.3 L461.6 2008.9 L462.6 2008.9 L463.6 2008.8 L464.6 2009.1 L465.6 2009.1 L466.6 2009.7 L467.6 2009.7 L468.6 2009.4 L469.6 2009.2 L470.6 2009.2 L471.6 2009.3 L472.6 2009.3 L473.6 2009.4 L474.6 2009.4 L475.6 2009.2 L476.6 2009.2 L477.6 2008.8 L478.6 2008.8 L479.6 2008.8 L480.6 2009.4 L481.6 2010.0 L482.6 2009.8 L483.6 2009.4 L484.6 2009.2 L485.6 2009.4 L486.6 2009.5 L487.6 2009.5 L488.6 2009.3 L489.6 2009.0 L490.6 2009.2 L491.6 2009.7 L492.6 2009.5 L493.6 2009.6 L494.6 2009.9 L495.6 2009.9 L496.6 2009.5 L497.6 2009.4 L498.6 2009.6 L499.6 2010.1 L500.6 2010.4 L501.6 2010.2 L502.6 2009.5 L503.6 2009.5 L504.6 2010.3 L505.6 2010.7 L506.6 2010.5 L507.6 2010.2 L508.6 2010.2 L509.6 2010.7 L510.6 2010.7 L511.6 2010.6 L512.6 2010.3 L513.6 2010.5 L514.6 2010.1 L515.6 2010.4 L516.6 2010.4 L517.6 2010.6 L518.6 2010.0 L519.6 2009.8 L520.6 2010.0 L521.6 2010.5 L522.6 2010.9 L523.6 2011.0 L524.6 2011.0 L525.6 2010.9 L526.6 2010.7 L527.6 2010.8 L528.6 2010.8 L529.6 2010.7 L530.6 2010.9 L531.6 2011.1 L532.6 2010.8 L533.6 2010.6 L534.6 2011.1 L535.6 2011.2 L536.6 2010.9 L537.6 2010.5 L538.6 2010.8 L539.6 2010.5 L540.6 2010.4 L541.6 2010.6 L542.6 2010.9 L543.6 2011.0 L544.6 2011.1 L545.6 2011.1 L546.6 2010.7 L547.6 2010.3 L548.6 2010.2 L549.6 2010.7 L550.6 2011.0 L551.6 2011.4 L552.6 2011.2 L553.6 2011.5 L554.6 2011.2 L555.6 2010.6 L556.6 2010.1 L557.6 2010.3 L558.6 2010.6 L559.6 2010.3 L560.6 2010.4 L561.6 2010.6 L562.6 2010.5 L563.6 2010.2 L564.6 2010.6 L565.6 2011.0 L566.6 2011.3 L567.6 2011.6 L568.6 2011.8 L569.6 2011.2 L570.6 2010.5 L571.6 2010.5 L572.6 2011.1 L573.6 2011.5 L574.6 2011.6 L575.6 2011.3 L576.6 2011.3 L577.6 2011.1 L578.6 2011.1 L579.6 2010.8 L580.6 2010.5 L581.6 2010.5 L582.6 2010.6 L583.6 2010.7 L584.6 2011.0 L585.6 2011.4 L586.6 2012.2 L587.6 2012.5 L588.6 2012.3 L589.6 2011.7 L590.6 2011.7 L591.6 2011.7 L592.6 2011.7 L593.6 2011.6 L594.6 2010.9 L595.6 2010.7 L596.6 2011.0 L597.6 2012.0 L598.6 2011.8 L599.6 2011.5 L600.6 2011.5 L601.6 2011.7 L602.6 2011.8 L603.6 2011.9 L604.6 2012.3 L605.6 2012.1 L606.6 2011.8 L607.6 2012.0 L608.6 2011.9 L609.6 2012.0 L610.6 2012.0 L611.6 2012.7 L612.6 2012.7 L613.6 2012.2 L614.6 2011.8 L615.6 2011.9 L616.6 2012.1 L617.6 2012.0 L618.6 2012.4 L619.6 2012.3 L620.6 2012.1 L621.6 2011.3 L622.6 2011.1 L623.6 2011.6 L624.6 2012.3 L625.6 2012.2 L626.6 2011.6 L627.6 2011.8 L628.6 2012.2 L629.6 2012.2 L630.6 2012.1 L631.6 2012.3 L632.6 2012.7 L633.6 2012.5 L634.6 2012.7 L635.6 2012.8 L636.6 2012.9 L637.6 2012.3 L638.6 2012.2 L639.6 2012.4 L640.6 2012.6 L641.6 2012.8 L642.6 2012.9 L643.6 2013.2 L644.6 2013.3 L645.6 2013.1 L646.6 2012.3 L647.6 2012.1 L648.6 2012.5 L649.6 2013.0 L650.6 2013.0 L651.6 2012.8 L652.6 2012.6 L653.6 2012.3 L654.6 2012.7 L655.6 2013.0 L656.6 2013.0 L657.6 2012.4 L658.6 2012.3 L659.6 2012.8 L660.6 2013.3 L661.6 2013.2 L662.6 2013.1 L663.6 2013.5 L664.6 2013.9 L665.6 2013.7 L666.6 2013.7 L667.6 2013.6 L668.6 2013.6 L669.6 2013.2 L670.6 2013.3 L671.6 2013.4 L672.6 2013.9 L673.6 2013.3 L674.6 2013.1 L675.6 2013.1 L676.6 2013.5 L677.6 2013.4 L678.6 2013.4 L679.6 2013.7 L680.6 2013.4 L681.6 2013.2 L682.6 2013.3 L683.6 2013.8 L684.6 2013.9 L685.6 2013.7 L686.6 2013.4 L687.6 2013.7 L688.6 2013.5 L689.6 2013.0 L690.6 2012.8 L691.6 2012.9 L692.6 2013.0 L693.6 2013.1 L694.6 2013.5 L695.6 2013.4 L696.6 2013.5 L697.6 2013.2 L698.6 2013.3 L699.6 2013.0 L700.6 2013.0 L701.6 2013.0 L702.6 2013.4 L703.6 2013.5 L704.6 2013.2 L705.6 2013.4 L706.6 2013.6 L707.6 2013.7 L708.6 2013.8 L709.6 2013.8 L710.6 2013.5 L711.6 2013.2 L712.6 2013.6 L713.6 2014.1 L714.6 2014.5 L715.6 2014.3 L716.6 2013.9 L717.6 2013.8 L718.6 2013.8 L719.6 2013.9 L720.6 2014.0 L721.6 2013.9 L722.6 2013.6 L723.6 2013.5 L724.6 2014.0 L725.6 2014.8 L726.6 2014.8 L727.6 2014.2 L728.6 2013.2 L729.6 2013.1 L730.6 2013.2 L731.6 2013.5 L732.6 2013.6 L733.6 2013.3 L734.6 2013.4 L735.6 2013.3 L736.6 2013.4 L737.6 2013.6 L738.6 2013.9 L739.6 2013.9 L740.6 2013.2 L741.6 2013.1 L742.6 2013.6 L743.6 2013.6 L744.6 2013.3 L745.6 2013.4 L746.6 2013.6 L747.6 2013.9 L748.6 2014.1 L749.6 2014.5 L750.6 2014.7 L751.6 2014.7 L752.6 2014.5 L753.6 2014.5 L754.6 2014.6 L755.6 2014.0 L756.6 2013.8 L757.6 2013.8 L758.6 2014.4 L759.6 2014.3 L760.6 2014.3 L761.6 2014.0 L762.6 2014.4 L763.6 2014.4 L764.6 2014.2 L765.6 2013.8 L766.6 2013.7 L767.6 2013.8 L768.6 2013.8 L769.6 2013.9 L770.6 2014.3 L771.6 2014.4 L772.6 2014.1 L773.6 2013.7 L774.6 2013.9 L775.6 2013.7 L776.6 2013.5 L777.6 2013.4 L778.6 2013.8 L779.6 2014.0 L780.6 2013.9 L781.6 2013.5 L782.6 2013.6 L783.6 2014.1 L784.6 2014.5 L785.6 2014.3 L786.6 2014.1 L787.6 2013.8 L788.6 2013.6 L789.6 2013.5 L790.6 2013.8 L791.6 2013.9 L792.6 2013.7 L793.6 2013.8 L794.6 2014.3 L795.6 2014.6 L796.6 2014.3 L797.6 2014.0 L798.6 2014.3 L799.6 2013.9 L800.6 2014.0 L801.6 2013.9 L802.6 2014.4 L803.6 2014.2 L804.6 2014.1 L805.6 2013.7 L806.6 2013.8 L807.6 2013.7 L808.6 2013.3 L809.6 2012.9 L810.6 2012.4 L811.6 2012.5 L812.6 2012.6 L813.6 2012.6 L814.6 2012.1 L815.6 2011.4 L816.6 2010.9 L817.6 2010.7 L818.6 2011.0 L819.6 2010.3 L820.6 2008.8 L821.6 2008.3 L822.6 2009.3 L823.6 2010.3 L824.6 2010.7 L825.6 2011.0 L826.6 2011.3 L827.6 2011.7 L828.6 2012.3 L829.6 2013.0 L830.6 2013.3 L831.6 2013.3 L832.6 2013.4 L833.6 2013.5 L834.6 2014.0 L835.6 2014.7 L836.6 2014.8 L837.6 2013.8 L838.6 2013.1 L839.6 2013.5 L840.6 2014.3 L841.6 2014.7 L842.6 2014.4 L843.6 2013.9 L844.6 2013.9 L845.6 2014.0 L846.6 2014.3 L847.6 2014.1 L848.6 2014.4 L849.6 2014.4 L850.6 2014.6 L851.6 2014.7 L852.6 2014.3 L853.6 2014.0 L854.6 2014.0 L855.6 2014.2 L856.6 2014.5 L857.6 2014.5 L858.6 2014.1 L859.6 2013.7 L860.6 2013.7 L861.6 2014.0 L862.6 2014.1 L863.6 2014.3 L864.6 2014.4 L865.6 2014.4 L866.6 2013.8 L867.6 2013.7 L868.6 2014.1 L869.6 2014.0 L870.6 2014.0 L871.6 2014.5 L872.6 2015.0 L873.6 2014.7 L874.6 2014.9 L875.6 2015.3 L876.6 2014.9 L877.6 2014.2 L878.6 2013.9 L879.6 2014.1 L880.6 2013.5 L881.6 2013.5 L882.6 2013.6 L883.6 2013.9 L884.6 2013.6 L885.6 2013.7 L886.6 2013.3 L887.6 2012.5 L888.6 2011.8 L889.6 2011.5 L890.6 2010.8 L891.6 2010.0 L892.6 2009.0 L893.6 2008.1 L894.6 2007.4 L895.6 2007.0 L896.6 2007.1 L897.6 2006.9 L898.6 2007.6 L899.6 2007.9 L900.6 2008.5 L901.6 2009.6 L902.6 2010.9 L903.6 2011.9 L904.6 2012.2 L905.6 2012.8 L906.6 2013.0 L907.6 2013.1 L908.6 2013.2 L909.6 2013.5 L910.6 2013.7 L911.6 2013.8 L912.6 2014.0 L913.6 2014.2 L914.6 2014.5 L915.6 2015.0 L916.6 2015.2 L917.6 2014.9 L918.6 2014.4 L919.6 2013.8 L920.6 2013.7 L921.6 2013.4 L922.6 2013.5 L923.6 2013.8 L924.6 2014.8 L925.6 2015.2 L926.6 2014.8 L927.6 2014.4 L928.6 2014.1 L929.6 2014.4 L930.6 2014.4 L931.6 2014.7 L932.6 2015.1 L933.6 2015.5 L934.6 2015.7 L935.6 2015.3 L936.6 2014.9 L937.6 2014.6 L938.6 2015.1 L939.6 2015.1 L940.6 2014.6 L941.6 2013.9 L942.6 2013.9 L943.6 2014.2 L944.6 2014.6 L945.6 2014.4 L946.6 2013.9 L947.6 2013.9 L948.6 2014.4 L949.6 2014.8 L950.6 2014.8 L951.6 2014.3 L952.6 2014.5 L953.6 2014.6 L954.6 2014.8 L955.6 2014.5 L956.6 2014.1 L957.6 2013.9 L958.6 2013.9 L959.6 2014.5 L960.6 2014.8 L961.6 2015.0 L962.6 2014.5 L963.6 2013.9 L964.6 2014.0 L965.6 2014.5 L966.6 2014.2 L967.6 2013.7 L968.6 2013.8 L969.6 2014.3 L970.6 2014.7 L971.6 2014.1 L972.6 2014.3 L973.6 2014.0 L974.6 2013.9 L975.6 2014.2 L976.6 2015.0 L977.6 2015.0 L978.6 2014.3 L979.6 2014.5 L980.6 2014.3 L981.6 2014.5 L982.6 2014.3 L983.6 2014.4 L984.6 2014.4 L985.6 2014.2 L986.6 2014.1 L987.6 2014.0 L988.6 2014.3 L989.6 2014.5 L990.6 2014.8 L991.6 2014.8 L992.6 2014.5 L993.6 2014.2 L994.6 2014.2 L995.6 2014.5 L996.6 2014.7 L997.6 2014.8 L998.6 2014.6 L999.6 2014.4 L1000.6 2014.5 L1001.6 2014.4 L1002.6 2014.4 L1003.6 2014.7 L1004.6 2014.8 L1005.6 2014.6 L1006.6 2014.0 L1007.6 2014.0 L1008.6 2013.7 L1009.6 2013.9 L1010.6 2014.0 L1011.6 2014.4 L1012.6 2014.9 L1013.6 2015.2 L1014.6 2015.2 L1015.6 2014.9" stroke="#979797"/>
<path d="M258.6 1743.8 L259.6 1762.1 L260.6 1778.2 L261.6 1788.8 L262.6 1792.2 L263.6 1793.3 L264.6 1794.4 L265.6 1794.7 L266.6 1795.6 L267.6 1797.3 L268.6 1800.9 L269.6 1805.0 L270.6 1809.8 L271.6 1814.3 L272.6 1819.8 L273.6 1824.5 L274.6 1829.0 L275.6 1832.3 L276.6 1835.9 L277.6 1838.8 L278.6 1841.9 L279.6 1845.4 L280.6 1848.8 L281.6 1852.5 L282.6 1855.6 L283.6 1859.6 L284.6 1863.4 L285.6 1867.4 L286.6 1868.8 L287.6 1868.3 L288.6 1865.7 L289.6 1861.8 L290.6 1857.0 L291.6 1852.1 L292.6 1848.0 L293.6 1844.2 L294.6 1839.7 L295.6 1834.6 L296.6 1830.2 L297.6 1827.3 L298.6 1825.7 L299.6 1825.5 L300.6 1827.8 L301.6 1832.3 L302.6 1838.1 L303.6 1845.2 L304.6 1856.8 L305.6 1871.4 L306.6 1885.9 L307.6 1898.1 L308.6 1905.9 L309.6 1908.7 L310.6 1910.6 L311.6 1912.1 L312.6 1913.9 L313.6 1914.9 L314.6 1916.0 L315.6 1916.9 L316.6 1917.9 L317.6 1918.7 L318.6 1919.9 L319.6 1921.2 L320.6 1922.1 L321.6 1922.8 L322.6 1923.7 L323.6 1924.4 L324.6 1925.5 L325.6 1926.4 L326.6 1927.1 L327.6 1928.2 L328.6 1929.4 L329.6 1930.1 L330.6 1930.8 L331.6 1931.8 L332.6 1932.9 L333.6 1933.1 L334.6 1933.7 L335.6 1933.7 L336.6 1934.0 L337.6 1934.4 L338.6 1935.4 L339.6 1936.6 L340.6 1938.0 L341.6 1938.4 L342.6 1938.8 L343.6 1938.8 L344.6 1939.3 L345.6 1939.3 L346.6 1939.5 L347.6 1939.8 L348.6 1940.4 L349.6 1941.1 L350.6 1941.6 L351.6 1942.5 L352.6 1943.1 L353.6 1943.6 L354.6 1944.0 L355.6 1944.5 L356.6 1944.7 L357.6 1944.8 L358.6 1944.9 L359.6 1945.5 L360.6 1946.0 L361.6 1946.4 L362.6 1946.6 L363.6 1946.6 L364.6 1946.8 L365.6 1946.6 L366.6 1947.1 L367.6 1947.5 L368.6 1948.0 L369.6 1948.0 L370.6 1948.3 L371.6 1948.3 L372.6 1948.7 L373.6 1949.0 L374.6 1949.0 L375.6 1948.9 L376.6 1948.8 L377.6 1949.4 L378.6 1949.7 L379.6 1950.1 L380.6 1950.4 L381.6 1951.2 L382.6 1951.4 L383.6 1951.0 L384.6 1951.0 L385.6 1951.5 L386.6 1951.5 L387.6 1951.3 L388.6 1951.3 L389.6 1951.6 L390.6 1951.8 L391.6 1951.8 L392.6 1951.6 L393.6 1951.2 L394.6 1950.6 L395.6 1950.8 L396.6 1951.5 L397.6 1952.1 L398.6 1952.3 L399.6 1952.5 L400.6 1952.8 L401.6 1952.6 L402.6 1952.4 L403.6 1952.4 L404.6 1952.3 L405.6 1952.4 L406.6 1952.8 L407.6 1953.2 L408.6 1953.1 L409.6 1953.1 L410.6 1952.9 L411.6 1953.0 L412.6 1953.0 L413.6 1953.3 L414.6 1953.4 L415.6 1953.4 L416.6 1953.4 L417.6 1953.2 L418.6 1953.2 L419.6 1953.6 L420.6 1953.9 L421.6 1954.3 L422.6 1954.4 L423.6 1953.7 L424.6 1953.0 L425.6 1953.5 L426.6 1954.4 L427.6 1954.3 L428.6 1953.8 L429.6 1954.1 L430.6 1954.6 L431.6 1955.0 L432.6 1954.8 L433.6 1954.9 L434.6 1955.1 L435.6 1954.7 L436.6 1954.4 L437.6 1954.4 L438.6 1954.7 L439.6 1953.8 L440.6 1953.5 L441.6 1952.4 L442.6 1951.9 L443.6 1952.0 L444.6 1952.1 L445.6 1951.2 L446.6 1950.7 L447.6 1950.3 L448.6 1950.4 L449.6 1950.5 L450.6 1951.0 L451.6 1951.1 L452.6 1951.4 L453.6 1952.3 L454.6 1953.4 L455.6 1954.1 L456.6 1954.2 L457.6 1953.9 L458.6 1954.2 L459.6 1954.8 L460.6 1954.9 L461.6 1954.8 L462.6 1954.2 L463.6 1954.3 L464.6 1954.3 L465.6 1954.5 L466.6 1954.2 L467.6 1954.1 L468.6 1954.8 L469.6 1955.1 L470.6 1955.2 L471.6 1955.0 L472.6 1955.4 L473.6 1955.3 L474.6 1955.4 L475.6 1955.2 L476.6 1955.3 L477.6 1955.6 L478.6 1956.1 L479.6 1956.2 L480.6 1955.6 L481.6 1954.8 L482.6 1954.5 L483.6 1954.6 L484.6 1954.9 L485.6 1955.0 L486.6 1955.1 L487.6 1955.2 L488.6 1955.0 L489.6 1954.6 L490.6 1954.8 L491.6 1955.4 L492.6 1955.5 L493.6 1955.5 L494.6 1955.3 L495.6 1955.2 L496.6 1954.6 L497.6 1954.8 L498.6 1955.1 L499.6 1955.7 L500.6 1955.7 L501.6 1955.8 L502.6 1955.5 L503.6 1955.6 L504.6 1955.7 L505.6 1955.5 L506.6 1955.3 L507.6 1955.5 L508.6 1955.8 L509.6 1956.3 L510.6 1956.2 L511.6 1956.1 L512.6 1955.6 L513.6 1955.7 L514.6 1955.5 L515.6 1956.0 L516.6 1956.2 L517.6 1956.0 L518.6 1955.6 L519.6 1955.7 L520.6 1955.7 L521.6 1955.5 L522.6 1955.2 L523.6 1955.9 L524.6 1956.2 L525.6 1956.5 L526.6 1955.7 L527.6 1955.3 L528.6 1955.0 L529.6 1955.3 L530.6 1955.8 L531.6 1955.7 L532.6 1955.7 L533.6 1956.0 L534.6 1956.1 L535.6 1956.0 L536.6 1955.6 L537.6 1955.8 L538.6 1955.7 L539.6 1956.4 L540.6 1956.2 L541.6 1956.0 L542.6 1956.0 L543.6 1955.9 L544.6 1955.7 L545.6 1955.4 L546.6 1955.5 L547.6 1955.6 L548.6 1956.1 L549.6 1956.9 L550.6 1957.2 L551.6 1957.2 L552.6 1956.6 L553.6 1956.1 L554.6 1955.9 L555.6 1955.4 L556.6 1955.7 L557.6 1955.8 L558.6 1956.0 L559.6 1955.5 L560.6 1955.9 L561.6 1956.5 L562.6 1956.5 L563.6 1956.3 L564.6 1956.1 L565.6 1956.0 L566.6 1955.8 L567.6 1956.0 L568.6 1955.8 L569.6 1955.9 L570.6 1955.8 L571.6 1956.0 L572.6 1955.7 L573.6 1955.7 L574.6 1955.6 L575.6 1956.0 L576.6 1956.0 L577.6 1956.0 L578.6 1956.3 L579.6 1956.5 L580.6 1956.4 L581.6 1956.3 L582.6 1956.4 L583.6 1956.4 L584.6 1956.2 L585.6 1956.4 L586.6 1956.4 L587.6 1956.3 L588.6 1956.4 L589.6 1956.5 L590.6 1956.5 L591.6 1955.8 L592.6 1955.5 L593.6 1955.4 L594.6 1955.3 L595.6 1955.4 L596.6 1954.8 L597.6 1954.2 L598.6 1954.0 L599.6 1954.3 L600.6 1954.5 L601.6 1954.8 L602.6 1955.2 L603.6 1955.5 L604.6 1955.5 L605.6 1956.2 L606.6 1956.8 L607.6 1956.8 L608.6 1956.6 L609.6 1956.4 L610.6 1956.7 L611.6 1957.0 L612.6 1957.2 L613.6 1956.9 L614.6 1956.3 L615.6 1956.4 L616.6 1956.7 L617.6 1957.0 L618.6 1957.0 L619.6 1957.0 L620.6 1956.8 L621.6 1956.6 L622.6 1956.4 L623.6 1957.1 L624.6 1957.5 L625.6 1957.5 L626.6 1957.2 L627.6 1956.7 L628.6 1956.5 L629.6 1956.5 L630.6 1957.0 L631.6 1957.1 L632.6 1956.8 L633.6 1956.8 L634.6 1957.1 L635.6 1957.1 L636.6 1956.6 L637.6 1956.4 L638.6 1957.0 L639.6 1957.3 L640.6 1957.3 L641.6 1957.5 L642.6 1957.3 L643.6 1957.1 L644.6 1956.9 L645.6 1956.7 L646.6 1956.1 L647.6 1956.6 L648.6 1957.3 L649.6 1958.3 L650.6 1957.9 L651.6 1957.6 L652.6 1957.3 L653.6 1957.7 L654.6 1957.9 L655.6 1957.9 L656.6 1957.8 L657.6 1957.1 L658.6 1956.8 L659.6 1957.4 L660.6 1958.4 L661.6 1958.8 L662.6 1958.4 L663.6 1958.1 L664.6 1957.6 L665.6 1957.8 L666.6 1958.0 L667.6 1958.3 L668.6 1958.7 L669.6 1958.6 L670.6 1958.5 L671.6 1957.9 L672.6 1958.2 L673.6 1958.2 L674.6 1958.4 L675.6 1958.2 L676.6 1958.7 L677.6 1958.9 L678.6 1958.6 L679.6 1958.0 L680.6 1958.0 L681.6 1958.1 L682.6 1958.2 L683.6 1958.1 L684.6 1958.6 L685.6 1958.6 L686.6 1958.7 L687.6 1959.0 L688.6 1959.0 L689.6 1958.9 L690.6 1959.2 L691.6 1959.5 L692.6 1959.2 L693.6 1958.5 L694.6 1958.6 L695.6 1958.5 L696.6 1958.9 L697.6 1958.7 L698.6 1958.5 L699.6 1958.3 L700.6 1958.4 L701.6 1958.5 L702.6 1958.5 L703.6 1958.5 L704.6 1958.5 L705.6 1958.7 L706.6 1958.5 L707.6 1958.4 L708.6 1958.3 L709.6 1958.5 L710.6 1958.1 L711.6 1958.1 L712.6 1958.2 L713.6 1958.6 L714.6 1958.5 L715.6 1958.8 L716.6 1958.7 L717.6 1959.0 L718.6 1959.2 L719.6 1959.1 L720.6 1959.0 L721.6 1959.5 L722.6 1959.7 L723.6 1959.4 L724.6 1959.0 L725.6 1959.1 L726.6 1958.9 L727.6 1958.8 L728.6 1958.9 L729.6 1959.3 L730.6 1959.4 L731.6 1959.5 L732.6 1959.7 L733.6 1959.8 L734.6 1959.2 L735.6 1959.3 L736.6 1959.5 L737.6 1959.0 L738.6 1957.8 L739.6 1957.1 L740.6 1957.5 L741.6 1957.6 L742.6 1957.1 L743.6 1956.2 L744.6 1955.6 L745.6 1954.9 L746.6 1954.5 L747.6 1954.4 L748.6 1954.8 L749.6 1955.0 L750.6 1955.3 L751.6 1955.5 L752.6 1956.1 L753.6 1957.1 L754.6 1957.8 L755.6 1958.4 L756.6 1958.7 L757.6 1958.6 L758.6 1958.3 L759.6 1958.5 L760.6 1958.9 L761.6 1959.2 L762.6 1959.5 L763.6 1959.7 L764.6 1959.7 L765.6 1959.5 L766.6 1959.4 L767.6 1959.3 L768.6 1959.3 L769.6 1958.9 L770.6 1958.9 L771.6 1958.8 L772.6 1959.1 L773.6 1959.5 L774.6 1960.3 L775.6 1960.4 L776.6 1959.9 L777.6 1959.5 L778.6 1959.4 L779.6 1959.2 L780.6 1959.0 L781.6 1958.9 L782.6 1958.9 L783.6 1959.2 L784.6 1959.3 L785.6 1959.2 L786.6 1959.0 L787.6 1959.1 L788.6 1958.8 L789.6 1958.4 L790.6 1958.7 L791.6 1959.2 L792.6 1959.4 L793.6 1959.2 L794.6 1958.9 L795.6 1959.0 L796.6 1958.9 L797.6 1958.9 L798.6 1958.4 L799.6 1958.6 L800.6 1958.7 L801.6 1959.3 L802.6 1958.8 L803.6 1958.8 L804.6 1958.7 L805.6 1959.2 L806.6 1959.1 L807.6 1959.1 L808.6 1958.8 L809.6 1958.6 L810.6 1958.6 L811.6 1958.1 L812.6 1957.7 L813.6 1957.5 L814.6 1956.9 L815.6 1956.6 L816.6 1956.4 L817.6 1955.7 L818.6 1954.6 L819.6 1954.7 L820.6 1955.5 L821.6 1955.6 L822.6 1954.7 L823.6 1954.3 L824.6 1954.8 L825.6 1955.7 L826.6 1956.0 L827.6 1956.0 L828.6 1956.5 L829.6 1957.1 L830.6 1957.7 L831.6 1958.0 L832.6 1958.8 L833.6 1959.1 L834.6 1959.1 L835.6 1958.5 L836.6 1958.7 L837.6 1959.2 L838.6 1959.6 L839.6 1958.8 L840.6 1958.4 L841.6 1958.5 L842.6 1959.6 L843.6 1960.0 L844.6 1960.0 L845.6 1959.8 L846.6 1959.9 L847.6 1959.5 L848.6 1959.0 L849.6 1958.4 L850.6 1958.6 L851.6 1958.8 L852.6 1959.1 L853.6 1958.9 L854.6 1959.0 L855.6 1958.8 L856.6 1959.5 L857.6 1959.5 L858.6 1960.1 L859.6 1960.2 L860.6 1960.0 L861.6 1959.5 L862.6 1959.4 L863.6 1959.3 L864.6 1959.0 L865.6 1959.0 L866.6 1959.4 L867.6 1959.1 L868.6 1959.0 L869.6 1959.1 L870.6 1959.3 L871.6 1959.1 L872.6 1959.0 L873.6 1958.8 L874.6 1959.0 L875.6 1958.5 L876.6 1958.9 L877.6 1959.1 L878.6 1959.7 L879.6 1959.6 L880.6 1959.3 L881.6 1959.5 L882.6 1959.3 L883.6 1959.3 L884.6 1958.9 L885.6 1959.1 L886.6 1958.6 L887.6 1957.3 L888.6 1955.8 L889.6 1953.8 L890.6 1951.8 L891.6 1949.2 L892.6 1947.3 L893.6 1944.5 L894.6 1941.6 L895.6 1938.8 L896.6 1937.2 L897.6 1936.7 L898.6 1937.7 L899.6 1939.3 L900.6 1941.6 L901.6 1944.0 L902.6 1947.2 L903.6 1950.1 L904.6 1952.7 L905.6 1954.5 L906.6 1956.0 L907.6 1957.6 L908.6 1958.7 L909.6 1959.1 L910.6 1958.9 L911.6 1958.4 L912.6 1958.7 L913.6 1959.4 L914.6 1959.9 L915.6 1960.0 L916.6 1959.7 L917.6 1959.4 L918.6 1959.4 L919.6 1959.4 L920.6 1959.5 L921.6 1959.3 L922.6 1959.6 L923.6 1959.8 L924.6 1959.6 L925.6 1959.3 L926.6 1958.5 L927.6 1958.3 L928.6 1958.4 L929.6 1958.8 L930.6 1959.0 L931.6 1959.2 L932.6 1959.2 L933.6 1958.7 L934.6 1958.6 L935.6 1959.0 L936.6 1959.2 L937.6 1958.9 L938.6 1959.2 L939.6 1959.9 L940.6 1960.3 L941.6 1960.0 L942.6 1959.8 L943.6 1959.4 L944.6 1959.3 L945.6 1959.3 L946.6 1959.3 L947.6 1959.1 L948.6 1959.2 L949.6 1959.5 L950.6 1959.4 L951.6 1959.8 L952.6 1959.6 L953.6 1959.5 L954.6 1959.2 L955.6 1959.3 L956.6 1959.2 L957.6 1959.0 L958.6 1958.6 L959.6 1958.3 L960.6 1958.3 L961.6 1958.9 L962.6 1959.2 L963.6 1959.6 L964.6 1960.0 L965.6 1960.3 L966.6 1960.3 L967.6 1960.0 L968.6 1959.8 L969.6 1959.4 L970.6 1959.3 L971.6 1959.4 L972.6 1959.9 L973.6 1959.6 L974.6 1959.0 L975.6 1959.1 L976.6 1959.6 L977.6 1960.0 L978.6 1959.4 L979.6 1958.8 L980.6 1958.5 L981.6 1958.8 L982.6 1959.0 L983.6 1959.1 L984.6 1959.4 L985.6 1959.4 L986.6 1959.5 L987.6 1959.7 L988.6 1959.8 L989.6 1959.3 L990.6 1959.3 L991.6 1959.5 L992.6 1959.8 L993.6 1959.6 L994.6 1959.2 L995.6 1959.1 L996.6 1959.1 L997.6 1959.0 L998.6 1959.2 L999.6 1959.4 L1000.6 1959.7 L1001.6 1959.6 L1002.6 1960.1 L1003.6 1959.7 L1004.6 1959.1 L1005.6 1958.9 L1006.6 1959.3 L1007.6 1958.6 L1008.6 1958.3 L1009.6 1958.8 L1010.6 1959.7 L1011.6 1959.8 L1012.6 1959.6 L1013.6 1959.4 L1014.6 1959.4 L1015.6 1959.4" stroke="#e5ab0e"/>
<path d="M258.6 1702.8 L259.6 1710.0 L260.6 1717.5 L261.6 1725.0 L262.6 1732.3 L263.6 1738.7 L264.6 1743.8 L265.6 1748.1 L266.6 1752.3 L267.6 1755.7 L268.6 1758.0 L269.6 1760.0 L270.6 1763.0 L271.6 1766.2 L272.6 1768.7 L273.6 1771.1 L274.6 1773.7 L275.6 1776.6 L276.6 1779.3 L277.6 1782.0 L278.6 1784.7 L279.6 1787.2 L280.6 1789.6 L281.6 1792.2 L282.6 1795.0 L283.6 1797.3 L284.6 1799.0 L285.6 1800.2 L286.6 1801.2 L287.6 1800.7 L288.6 1798.5 L289.6 1794.6 L290.6 1789.8 L291.6 1784.1 L292.6 1778.5 L293.6 1773.1 L294.6 1765.9 L295.6 1758.2 L296.6 1750.6 L297.6 1744.8 L298.6 1741.2 L299.6 1740.5 L300.6 1743.2 L301.6 1748.7 L302.6 1756.5 L303.6 1767.7 L304.6 1789.5 L305.6 1812.4 L306.6 1825.7 L307.6 1830.5 L308.6 1833.6 L309.6 1836.3 L310.6 1838.1 L311.6 1839.8 L312.6 1841.0 L313.6 1842.9 L314.6 1844.7 L315.6 1846.7 L316.6 1847.8 L317.6 1848.9 L318.6 1849.6 L319.6 1850.2 L320.6 1850.8 L321.6 1851.8 L322.6 1852.8 L323.6 1853.5 L324.6 1854.0 L325.6 1854.9 L326.6 1855.6 L327.6 1856.2 L328.6 1856.8 L329.6 1857.6 L330.6 1858.1 L331.6 1858.8 L332.6 1859.3 L333.6 1859.7 L334.6 1859.8 L335.6 1860.9 L336.6 1861.8 L337.6 1862.3 L338.6 1862.4 L339.6 1863.1 L340.6 1863.7 L341.6 1864.1 L342.6 1864.6 L343.6 1865.3 L344.6 1865.8 L345.6 1866.3 L346.6 1867.0 L347.6 1867.5 L348.6 1868.3 L349.6 1868.9 L350.6 1868.9 L351.6 1868.6 L352.6 1869.1 L353.6 1869.9 L354.6 1870.9 L355.6 1871.3 L356.6 1871.7 L357.6 1871.9 L358.6 1872.3 L359.6 1872.9 L360.6 1873.5 L361.6 1874.0 L362.6 1874.8 L363.6 1875.5 L364.6 1875.4 L365.6 1875.6 L366.6 1876.2 L367.6 1876.6 L368.6 1876.7 L369.6 1877.1 L370.6 1877.4 L371.6 1877.3 L372.6 1877.3 L373.6 1877.7 L374.6 1878.5 L375.6 1878.9 L376.6 1879.2 L377.6 1879.7 L378.6 1879.8 L379.6 1879.8 L380.6 1879.6 L381.6 1879.9 L382.6 1879.7 L383.6 1880.0 L384.6 1880.6 L385.6 1881.0 L386.6 1881.1 L387.6 1881.4 L388.6 1881.9 L389.6 1882.2 L390.6 1882.4 L391.6 1882.5 L392.6 1882.9 L393.6 1883.2 L394.6 1883.2 L395.6 1883.1 L396.6 1882.9 L397.6 1882.8 L398.6 1883.0 L399.6 1883.6 L400.6 1884.1 L401.6 1884.1 L402.6 1883.7 L403.6 1883.8 L404.6 1884.4 L405.6 1884.5 L406.6 1884.3 L407.6 1884.4 L408.6 1884.2 L409.6 1883.8 L410.6 1883.9 L411.6 1884.7 L412.6 1884.9 L413.6 1884.9 L414.6 1884.6 L415.6 1884.7 L416.6 1884.7 L417.6 1884.8 L418.6 1885.3 L419.6 1885.8 L420.6 1885.5 L421.6 1885.0 L422.6 1884.9 L423.6 1885.1 L424.6 1885.2 L425.6 1884.8 L426.6 1885.4 L427.6 1886.1 L428.6 1886.2 L429.6 1885.9 L430.6 1886.1 L431.6 1885.9 L432.6 1885.3 L433.6 1885.1 L434.6 1885.8 L435.6 1886.0 L436.6 1886.0 L437.6 1885.9 L438.6 1886.3 L439.6 1885.4 L440.6 1884.8 L441.6 1883.4 L442.6 1882.9 L443.6 1882.5 L444.6 1881.8 L445.6 1880.9 L446.6 1881.1 L447.6 1881.5 L448.6 1881.9 L449.6 1881.9 L450.6 1882.2 L451.6 1882.9 L452.6 1884.1 L453.6 1884.7 L454.6 1884.7 L455.6 1884.4 L456.6 1885.1 L457.6 1885.8 L458.6 1885.6 L459.6 1885.2 L460.6 1885.5 L461.6 1886.3 L462.6 1886.4 L463.6 1886.4 L464.6 1886.5 L465.6 1886.6 L466.6 1886.3 L467.6 1886.5 L468.6 1887.2 L469.6 1887.5 L470.6 1887.1 L471.6 1886.9 L472.6 1886.8 L473.6 1886.6 L474.6 1886.2 L475.6 1886.2 L476.6 1886.3 L477.6 1887.1 L478.6 1887.3 L479.6 1887.4 L480.6 1887.1 L481.6 1887.2 L482.6 1887.0 L483.6 1886.4 L484.6 1886.2 L485.6 1886.3 L486.6 1886.3 L487.6 1885.8 L488.6 1886.0 L489.6 1886.6 L490.6 1886.6 L491.6 1886.2 L492.6 1886.2 L493.6 1886.6 L494.6 1886.9 L495.6 1886.9 L496.6 1886.6 L497.6 1886.5 L498.6 1886.9 L499.6 1887.2 L500.6 1887.3 L501.6 1887.0 L502.6 1886.6 L503.6 1886.2 L504.6 1886.5 L505.6 1886.9 L506.6 1886.8 L507.6 1886.2 L508.6 1886.2 L509.6 1886.5 L510.6 1886.7 L511.6 1886.6 L512.6 1886.8 L513.6 1887.0 L514.6 1887.3 L515.6 1887.5 L516.6 1887.8 L517.6 1887.8 L518.6 1887.5 L519.6 1887.1 L520.6 1887.0 L521.6 1887.1 L522.6 1887.2 L523.6 1887.4 L524.6 1887.4 L525.6 1886.7 L526.6 1886.6 L527.6 1887.1 L528.6 1887.5 L529.6 1887.0 L530.6 1887.3 L531.6 1887.5 L532.6 1887.7 L533.6 1887.2 L534.6 1887.1 L535.6 1887.1 L536.6 1887.1 L537.6 1886.8 L538.6 1887.1 L539.6 1887.4 L540.6 1887.5 L541.6 1887.3 L542.6 1886.8 L543.6 1886.7 L544.6 1886.9 L545.6 1887.3 L546.6 1887.2 L547.6 1887.1 L548.6 1887.3 L549.6 1887.2 L550.6 1887.2 L551.6 1886.8 L552.6 1887.0 L553.6 1887.4 L554.6 1887.6 L555.6 1887.1 L556.6 1887.1 L557.6 1887.2 L558.6 1887.7 L559.6 1887.6 L560.6 1887.6 L561.6 1887.2 L562.6 1887.3 L563.6 1887.7 L564.6 1887.9 L565.6 1887.9 L566.6 1888.3 L567.6 1888.4 L568.6 1887.8 L569.6 1887.0 L570.6 1886.7 L571.6 1886.8 L572.6 1887.0 L573.6 1887.0 L574.6 1887.2 L575.6 1887.0 L576.6 1886.7 L577.6 1887.2 L578.6 1888.3 L579.6 1888.6 L580.6 1888.2 L581.6 1888.4 L582.6 1888.5 L583.6 1888.3 L584.6 1887.6 L585.6 1887.3 L586.6 1887.1 L587.6 1887.0 L588.6 1886.7 L589.6 1886.5 L590.6 1886.4 L591.6 1886.3 L592.6 1885.7 L593.6 1885.2 L594.6 1885.1 L595.6 1885.3 L596.6 1885.2 L597.6 1885.1 L598.6 1885.4 L599.6 1885.6 L600.6 1885.3 L601.6 1885.1 L602.6 1885.4 L603.6 1885.8 L604.6 1886.1 L605.6 1886.3 L606.6 1886.5 L607.6 1886.9 L608.6 1887.5 L609.6 1887.8 L610.6 1887.6 L611.6 1887.5 L612.6 1887.7 L613.6 1887.8 L614.6 1888.0 L615.6 1888.0 L616.6 1888.2 L617.6 1888.4 L618.6 1888.6 L619.6 1888.4 L620.6 1888.1 L621.6 1888.1 L622.6 1888.3 L623.6 1888.4 L624.6 1887.8 L625.6 1887.0 L626.6 1887.1 L627.6 1888.0 L628.6 1888.9 L629.6 1889.1 L630.6 1889.0 L631.6 1888.7 L632.6 1888.2 L633.6 1888.3 L634.6 1888.3 L635.6 1888.7 L636.6 1888.6 L637.6 1888.8 L638.6 1888.9 L639.6 1888.8 L640.6 1888.6 L641.6 1888.2 L642.6 1888.2 L643.6 1888.7 L644.6 1889.0 L645.6 1889.2 L646.6 1889.2 L647.6 1889.4 L648.6 1889.3 L649.6 1888.9 L650.6 1888.7 L651.6 1889.0 L652.6 1889.2 L653.6 1888.9 L654.6 1888.5 L655.6 1888.7 L656.6 1888.5 L657.6 1889.0 L658.6 1889.0 L659.6 1888.8 L660.6 1888.8 L661.6 1889.3 L662.6 1889.7 L663.6 1889.4 L664.6 1889.2 L665.6 1888.9 L666.6 1889.0 L667.6 1889.4 L668.6 1889.7 L669.6 1889.6 L670.6 1889.2 L671.6 1888.9 L672.6 1889.2 L673.6 1889.7 L674.6 1889.7 L675.6 1889.2 L676.6 1889.2 L677.6 1889.6 L678.6 1889.8 L679.6 1889.3 L680.6 1888.9 L681.6 1888.7 L682.6 1889.0 L683.6 1888.8 L684.6 1889.1 L685.6 1889.4 L686.6 1889.8 L687.6 1889.2 L688.6 1889.1 L689.6 1889.4 L690.6 1889.4 L691.6 1889.3 L692.6 1889.3 L693.6 1889.5 L694.6 1889.6 L695.6 1889.4 L696.6 1889.8 L697.6 1889.9 L698.6 1890.0 L699.6 1890.1 L700.6 1890.3 L701.6 1890.5 L702.6 1889.8 L703.6 1889.3 L704.6 1889.2 L705.6 1889.8 L706.6 1890.0 L707.6 1889.9 L708.6 1889.5 L709.6 1889.4 L710.6 1889.1 L711.6 1889.3 L712.6 1889.2 L713.6 1889.3 L714.6 1889.2 L715.6 1889.8 L716.6 1889.8 L717.6 1889.5 L718.6 1889.3 L719.6 1889.6 L720.6 1890.0 L721.6 1890.0 L722.6 1890.0 L723.6 1889.7 L724.6 1890.0 L725.6 1890.3 L726.6 1890.2 L727.6 1889.9 L728.6 1889.4 L729.6 1888.9 L730.6 1889.2 L731.6 1889.9 L732.6 1890.2 L733.6 1890.0 L734.6 1889.6 L735.6 1889.4 L736.6 1889.1 L737.6 1889.0 L738.6 1888.7 L739.6 1888.5 L740.6 1888.2 L741.6 1887.9 L742.6 1887.6 L743.6 1887.1 L744.6 1886.7 L745.6 1886.3 L746.6 1885.6 L747.6 1884.6 L748.6 1884.4 L749.6 1885.2 L750.6 1886.2 L751.6 1886.7 L752.6 1887.1 L753.6 1887.0 L754.6 1887.4 L755.6 1888.0 L756.6 1888.4 L757.6 1888.3 L758.6 1888.4 L759.6 1889.0 L760.6 1888.7 L761.6 1888.6 L762.6 1888.9 L763.6 1889.6 L764.6 1889.6 L765.6 1889.7 L766.6 1889.5 L767.6 1889.5 L768.6 1889.4 L769.6 1889.4 L770.6 1889.3 L771.6 1889.8 L772.6 1889.7 L773.6 1889.1 L774.6 1888.4 L775.6 1889.1 L776.6 1889.7 L777.6 1889.9 L778.6 1889.3 L779.6 1889.1 L780.6 1888.7 L781.6 1888.8 L782.6 1889.2 L783.6 1889.3 L784.6 1888.8 L785.6 1888.7 L786.6 1889.1 L787.6 1889.5 L788.6 1889.9 L789.6 1890.3 L790.6 1890.5 L791.6 1890.5 L792.6 1890.0 L793.6 1889.4 L794.6 1889.4 L795.6 1889.9 L796.6 1889.9 L797.6 1889.2 L798.6 1888.6 L799.6 1888.8 L800.6 1889.5 L801.6 1889.8 L802.6 1889.5 L803.6 1889.0 L804.6 1889.0 L805.6 1889.5 L806.6 1890.3 L807.6 1890.2 L808.6 1889.7 L809.6 1888.9 L810.6 1889.0 L811.6 1889.4 L812.6 1889.3 L813.6 1888.7 L814.6 1888.0 L815.6 1887.7 L816.6 1886.7 L817.6 1886.1 L818.6 1886.2 L819.6 1886.2 L820.6 1885.8 L821.6 1884.8 L822.6 1885.2 L823.6 1886.0 L824.6 1886.8 L825.6 1886.7 L826.6 1886.7 L827.6 1887.0 L828.6 1887.4 L829.6 1887.8 L830.6 1888.1 L831.6 1888.5 L832.6 1889.2 L833.6 1889.2 L834.6 1889.2 L835.6 1888.9 L836.6 1889.0 L837.6 1888.5 L838.6 1888.7 L839.6 1889.0 L840.6 1889.3 L841.6 1889.3 L842.6 1889.3 L843.6 1889.4 L844.6 1889.4 L845.6 1889.8 L846.6 1890.1 L847.6 1889.9 L848.6 1889.8 L849.6 1889.7 L850.6 1889.8 L851.6 1889.6 L852.6 1889.8 L853.6 1889.6 L854.6 1889.5 L855.6 1889.7 L856.6 1890.0 L857.6 1890.3 L858.6 1890.0 L859.6 1889.9 L860.6 1889.4 L861.6 1889.4 L862.6 1889.1 L863.6 1889.1 L864.6 1889.2 L865.6 1889.3 L866.6 1889.6 L867.6 1890.1 L868.6 1890.0 L869.6 1889.7 L870.6 1889.6 L871.6 1890.0 L872.6 1890.3 L873.6 1890.7 L874.6 1890.6 L875.6 1890.1 L876.6 1889.3 L877.6 1889.2 L878.6 1889.2 L879.6 1889.6 L880.6 1889.6 L881.6 1889.9 L882.6 1890.3 L883.6 1890.5 L884.6 1890.2 L885.6 1889.3 L886.6 1888.5 L887.6 1887.4 L888.6 1885.6 L889.6 1883.7 L890.6 1880.9 L891.6 1877.4 L892.6 1873.5 L893.6 1870.4 L894.6 1867.0 L895.6 1863.3 L896.6 1861.6 L897.6 1861.5 L898.6 1861.8 L899.6 1863.0 L900.6 1866.6 L901.6 1871.2 L902.6 1875.3 L903.6 1878.8 L904.6 1882.0 L905.6 1884.4 L906.6 1885.6 L907.6 1886.9 L908.6 1887.8 L909.6 1888.7 L910.6 1889.4 L911.6 1890.1 L912.6 1890.2 L913.6 1889.8 L914.6 1889.9 L915.6 1890.1 L916.6 1889.8 L917.6 1889.6 L918.6 1889.9 L919.6 1890.4 L920.6 1890.2 L921.6 1889.5 L922.6 1888.9 L923.6 1888.8 L924.6 1889.4 L925.6 1890.0 L926.6 1889.9 L927.6 1889.3 L928.6 1889.3 L929.6 1889.5 L930.6 1889.6 L931.6 1889.4 L932.6 1889.6 L933.6 1890.1 L934.6 1890.2 L935.6 1889.8 L936.6 1889.7 L937.6 1889.6 L938.6 1889.4 L939.6 1889.1 L940.6 1889.5 L941.6 1889.6 L942.6 1889.5 L943.6 1889.5 L944.6 1889.4 L945.6 1889.1 L946.6 1888.5 L947.6 1888.9 L948.6 1889.1 L949.6 1889.5 L950.6 1889.6 L951.6 1890.2 L952.6 1890.1 L953.6 1889.7 L954.6 1889.6 L955.6 1889.5 L956.6 1889.3 L957.6 1889.5 L958.6 1889.6 L959.6 1890.2 L960.6 1890.2 L961.6 1890.2 L962.6 1889.8 L963.6 1890.1 L964.6 1889.9 L965.6 1889.4 L966.6 1888.9 L967.6 1889.3 L968.6 1889.7 L969.6 1889.9 L970.6 1889.7 L971.6 1889.4 L972.6 1889.7 L973.6 1890.2 L974.6 1890.4 L975.6 1889.8 L976.6 1889.5 L977.6 1889.7 L978.6 1890.0 L979.6 1890.3 L980.6 1890.5 L981.6 1890.2 L982.6 1889.4 L983.6 1889.6 L984.6 1890.0 L985.6 1890.3 L986.6 1890.1 L987.6 1889.7 L988.6 1889.5 L989.6 1890.0 L990.6 1890.4 L991.6 1890.0 L992.6 1889.5 L993.6 1889.4 L994.6 1889.7 L995.6 1890.0 L996.6 1890.6 L997.6 1890.7 L998.6 1890.3 L999.6 1889.8 L1000.6 1889.8 L1001.6 1889.8 L1002.6 1889.7 L1003.6 1889.8 L1004.6 1889.6 L1005.6 1889.6 L1006.6 1889.7 L1007.6 1889.7 L1008.6 1889.6 L1009.6 1889.7 L1010.6 1890.2 L1011.6 1890.4 L1012.6 1890.4 L1013.6 1889.8 L1014.6 1889.6 L1015.6 1889.6" stroke="#3f68b5"/>
<path d="M258.6 1658.5 L259.6 1663.6 L260.6 1668.4 L261.6 1673.9 L262.6 1680.5 L263.6 1686.1 L264.6 1691.0 L265.6 1694.9 L266.6 1698.6 L267.6 1701.9 L268.6 1704.9 L269.6 1707.7 L270.6 1710.9 L271.6 1714.2 L272.6 1717.7 L273.6 1721.2 L274.6 1724.9 L275.6 1727.5 L276.6 1729.9 L277.6 1731.3 L278.6 1732.6 L279.6 1733.8 L280.6 1735.5 L281.6 1736.9 L282.6 1738.3 L283.6 1740.9 L284.6 1743.9 L285.6 1746.5 L286.6 1747.2 L287.6 1746.6 L288.6 1744.5 L289.6 1741.7 L290.6 1738.1 L291.6 1727.8 L292.6 1708.4 L293.6 1686.8 L294.6 1668.4 L295.6 1649.2 L296.6 1631.0 L297.6 1619.6 L298.6 1618.9 L299.6 1620.5 L300.6 1623.3 L301.6 1639.0 L302.6 1664.6 L303.6 1690.6 L304.6 1723.6 L305.6 1754.4 L306.6 1771.9 L307.6 1778.2 L308.6 1783.5 L309.6 1787.5 L310.6 1790.0 L311.6 1791.8 L312.6 1793.5 L313.6 1795.4 L314.6 1797.7 L315.6 1799.7 L316.6 1801.2 L317.6 1802.7 L318.6 1804.2 L319.6 1805.3 L320.6 1806.5 L321.6 1807.3 L322.6 1808.1 L323.6 1808.3 L324.6 1809.4 L325.6 1810.2 L326.6 1811.2 L327.6 1811.5 L328.6 1812.0 L329.6 1812.7 L330.6 1813.5 L331.6 1813.9 L332.6 1814.6 L333.6 1815.0 L334.6 1815.5 L335.6 1815.9 L336.6 1816.9 L337.6 1817.3 L338.6 1817.6 L339.6 1818.2 L340.6 1819.0 L341.6 1819.2 L342.6 1819.5 L343.6 1820.2 L344.6 1821.1 L345.6 1821.4 L346.6 1821.9 L347.6 1822.4 L348.6 1823.4 L349.6 1823.5 L350.6 1824.0 L351.6 1824.2 L352.6 1824.4 L353.6 1824.2 L354.6 1824.9 L355.6 1825.6 L356.6 1826.2 L357.6 1826.7 L358.6 1827.2 L359.6 1827.3 L360.6 1827.9 L361.6 1827.7 L362.6 1827.4 L363.6 1827.1 L364.6 1827.7 L365.6 1827.7 L366.6 1827.8 L367.6 1828.3 L368.6 1828.5 L369.6 1829.0 L370.6 1829.9 L371.6 1831.0 L372.6 1830.9 L373.6 1830.7 L374.6 1830.4 L375.6 1830.7 L376.6 1830.8 L377.6 1831.2 L378.6 1831.4 L379.6 1831.9 L380.6 1832.2 L381.6 1832.7 L382.6 1832.3 L383.6 1831.7 L384.6 1831.6 L385.6 1832.1 L386.6 1832.7 L387.6 1832.9 L388.6 1833.1 L389.6 1833.4 L390.6 1833.6 L391.6 1833.7 L392.6 1833.4 L393.6 1833.7 L394.6 1833.9 L395.6 1834.3 L396.6 1834.2 L397.6 1834.5 L398.6 1834.4 L399.6 1834.4 L400.6 1834.3 L401.6 1834.1 L402.6 1834.0 L403.6 1834.0 L404.6 1834.3 L405.6 1834.3 L406.6 1834.9 L407.6 1835.0 L408.6 1835.0 L409.6 1835.2 L410.6 1835.6 L411.6 1835.7 L412.6 1835.5 L413.6 1835.7 L414.6 1835.2 L415.6 1834.7 L416.6 1834.9 L417.6 1835.5 L418.6 1835.5 L419.6 1835.5 L420.6 1835.5 L421.6 1836.2 L422.6 1836.4 L423.6 1836.5 L424.6 1836.2 L425.6 1836.3 L426.6 1836.9 L427.6 1837.9 L428.6 1838.2 L429.6 1837.8 L430.6 1837.4 L431.6 1837.5 L432.6 1837.6 L433.6 1837.7 L434.6 1837.6 L435.6 1837.1 L436.6 1836.8 L437.6 1836.8 L438.6 1836.7 L439.6 1836.4 L440.6 1835.8 L441.6 1835.0 L442.6 1834.1 L443.6 1832.9 L444.6 1832.1 L445.6 1831.6 L446.6 1831.3 L447.6 1830.6 L448.6 1830.5 L449.6 1831.3 L450.6 1832.0 L451.6 1832.6 L452.6 1833.3 L453.6 1834.3 L454.6 1834.8 L455.6 1835.2 L456.6 1835.9 L457.6 1836.4 L458.6 1836.8 L459.6 1837.1 L460.6 1837.7 L461.6 1837.5 L462.6 1837.4 L463.6 1837.0 L464.6 1837.7 L465.6 1838.4 L466.6 1839.1 L467.6 1839.1 L468.6 1839.1 L469.6 1838.9 L470.6 1838.2 L471.6 1837.9 L472.6 1837.8 L473.6 1838.0 L474.6 1837.7 L475.6 1838.1 L476.6 1838.4 L477.6 1838.2 L478.6 1838.0 L479.6 1838.1 L480.6 1838.1 L481.6 1837.9 L482.6 1837.8 L483.6 1837.5 L484.6 1837.1 L485.6 1837.5 L486.6 1838.2 L487.6 1838.6 L488.6 1838.2 L489.6 1837.9 L490.6 1837.9 L491.6 1838.4 L492.6 1838.4 L493.6 1838.1 L494.6 1838.2 L495.6 1838.5 L496.6 1838.6 L497.6 1838.2 L498.6 1838.0 L499.6 1838.5 L500.6 1839.0 L501.6 1839.1 L502.6 1838.3 L503.6 1838.5 L504.6 1839.1 L505.6 1839.7 L506.6 1839.5 L507.6 1838.7 L508.6 1838.0 L509.6 1837.9 L510.6 1838.5 L511.6 1838.8 L512.6 1838.6 L513.6 1838.4 L514.6 1838.5 L515.6 1838.7 L516.6 1838.7 L517.6 1838.7 L518.6 1838.9 L519.6 1839.2 L520.6 1839.5 L521.6 1839.2 L522.6 1838.7 L523.6 1838.3 L524.6 1838.8 L525.6 1838.7 L526.6 1838.9 L527.6 1839.1 L528.6 1839.4 L529.6 1839.0 L530.6 1838.7 L531.6 1838.4 L532.6 1838.7 L533.6 1839.1 L534.6 1839.0 L535.6 1838.6 L536.6 1838.4 L537.6 1838.7 L538.6 1839.2 L539.6 1839.4 L540.6 1839.4 L541.6 1838.9 L542.6 1839.2 L543.6 1839.4 L544.6 1839.7 L545.6 1839.5 L546.6 1838.9 L547.6 1838.2 L548.6 1838.0 L549.6 1838.6 L550.6 1839.0 L551.6 1839.3 L552.6 1839.4 L553.6 1839.5 L554.6 1839.7 L555.6 1839.7 L556.6 1839.2 L557.6 1838.8 L558.6 1839.2 L559.6 1839.5 L560.6 1839.8 L561.6 1840.0 L562.6 1840.1 L563.6 1839.7 L564.6 1839.1 L565.6 1839.3 L566.6 1839.2 L567.6 1839.2 L568.6 1838.9 L569.6 1839.0 L570.6 1839.2 L571.6 1839.3 L572.6 1839.5 L573.6 1839.4 L574.6 1839.6 L575.6 1840.3 L576.6 1840.6 L577.6 1840.1 L578.6 1839.3 L579.6 1839.4 L580.6 1839.6 L581.6 1839.8 L582.6 1839.2 L583.6 1838.8 L584.6 1838.5 L585.6 1839.1 L586.6 1839.3 L587.6 1838.7 L588.6 1838.1 L589.6 1838.2 L590.6 1838.6 L591.6 1837.3 L592.6 1836.1 L593.6 1835.6 L594.6 1835.8 L595.6 1835.2 L596.6 1834.2 L597.6 1833.8 L598.6 1834.0 L599.6 1834.8 L600.6 1835.6 L601.6 1836.2 L602.6 1836.9 L603.6 1837.3 L604.6 1837.7 L605.6 1838.1 L606.6 1838.9 L607.6 1839.4 L608.6 1839.9 L609.6 1840.2 L610.6 1840.1 L611.6 1839.9 L612.6 1839.7 L613.6 1839.7 L614.6 1839.4 L615.6 1839.9 L616.6 1840.5 L617.6 1840.5 L618.6 1840.3 L619.6 1840.5 L620.6 1840.8 L621.6 1840.5 L622.6 1840.9 L623.6 1841.2 L624.6 1841.1 L625.6 1840.8 L626.6 1840.6 L627.6 1840.1 L628.6 1839.5 L629.6 1839.7 L630.6 1840.3 L631.6 1840.5 L632.6 1840.1 L633.6 1839.9 L634.6 1840.2 L635.6 1840.6 L636.6 1840.6 L637.6 1840.6 L638.6 1840.5 L639.6 1840.6 L640.6 1840.4 L641.6 1840.1 L642.6 1840.5 L643.6 1841.6 L644.6 1842.2 L645.6 1841.4 L646.6 1840.5 L647.6 1840.7 L648.6 1840.8 L649.6 1840.5 L650.6 1840.2 L651.6 1840.4 L652.6 1840.3 L653.6 1840.6 L654.6 1840.9 L655.6 1840.9 L656.6 1841.1 L657.6 1841.2 L658.6 1840.6 L659.6 1840.3 L660.6 1841.2 L661.6 1841.8 L662.6 1841.6 L663.6 1840.8 L664.6 1840.5 L665.6 1840.8 L666.6 1841.6 L667.6 1841.9 L668.6 1841.4 L669.6 1840.8 L670.6 1840.4 L671.6 1840.3 L672.6 1840.7 L673.6 1840.9 L674.6 1840.9 L675.6 1841.0 L676.6 1841.4 L677.6 1841.6 L678.6 1841.5 L679.6 1841.4 L680.6 1840.9 L681.6 1840.6 L682.6 1840.7 L683.6 1841.0 L684.6 1841.1 L685.6 1841.2 L686.6 1841.5 L687.6 1841.5 L688.6 1841.6 L689.6 1841.4 L690.6 1841.5 L691.6 1841.5 L692.6 1841.7 L693.6 1841.9 L694.6 1841.6 L695.6 1841.2 L696.6 1840.9 L697.6 1841.1 L698.6 1840.9 L699.6 1840.7 L700.6 1840.6 L701.6 1840.8 L702.6 1840.8 L703.6 1841.2 L704.6 1841.6 L705.6 1842.0 L706.6 1841.7 L707.6 1841.2 L708.6 1841.0 L709.6 1841.6 L710.6 1842.3 L711.6 1842.2 L712.6 1841.8 L713.6 1842.0 L714.6 1842.1 L715.6 1841.6 L716.6 1841.5 L717.6 1842.0 L718.6 1841.8 L719.6 1841.7 L720.6 1842.0 L721.6 1842.3 L722.6 1841.7 L723.6 1841.3 L724.6 1841.5 L725.6 1842.0 L726.6 1842.2 L727.6 1841.8 L728.6 1842.0 L729.6 1841.9 L730.6 1842.0 L731.6 1841.8 L732.6 1841.5 L733.6 1841.5 L734.6 1841.2 L735.6 1840.9 L736.6 1840.3 L737.6 1840.0 L738.6 1839.1 L739.6 1838.4 L740.6 1837.9 L741.6 1837.4 L742.6 1836.5 L743.6 1836.3 L744.6 1835.5 L745.6 1835.1 L746.6 1834.4 L747.6 1834.2 L748.6 1833.2 L749.6 1833.1 L750.6 1834.0 L751.6 1835.7 L752.6 1836.8 L753.6 1837.7 L754.6 1838.8 L755.6 1839.6 L756.6 1839.7 L757.6 1839.7 L758.6 1840.2 L759.6 1840.9 L760.6 1841.5 L761.6 1841.5 L762.6 1841.4 L763.6 1841.3 L764.6 1841.5 L765.6 1841.8 L766.6 1842.2 L767.6 1842.1 L768.6 1841.6 L769.6 1841.1 L770.6 1841.1 L771.6 1841.2 L772.6 1841.3 L773.6 1841.3 L774.6 1841.2 L775.6 1840.9 L776.6 1841.0 L777.6 1841.9 L778.6 1842.5 L779.6 1842.5 L780.6 1842.0 L781.6 1841.8 L782.6 1842.1 L783.6 1842.1 L784.6 1841.7 L785.6 1841.0 L786.6 1841.1 L787.6 1841.2 L788.6 1841.2 L789.6 1840.9 L790.6 1840.9 L791.6 1841.1 L792.6 1841.0 L793.6 1841.7 L794.6 1841.3 L795.6 1841.0 L796.6 1840.6 L797.6 1841.4 L798.6 1841.7 L799.6 1841.7 L800.6 1841.7 L801.6 1841.8 L802.6 1841.8 L803.6 1841.9 L804.6 1841.8 L805.6 1841.6 L806.6 1841.7 L807.6 1841.7 L808.6 1841.6 L809.6 1841.7 L810.6 1841.8 L811.6 1841.7 L812.6 1841.1 L813.6 1840.7 L814.6 1840.4 L815.6 1840.3 L816.6 1840.1 L817.6 1840.1 L818.6 1839.8 L819.6 1839.3 L820.6 1839.0 L821.6 1838.8 L822.6 1838.9 L823.6 1839.4 L824.6 1840.0 L825.6 1840.2 L826.6 1840.3 L827.6 1840.8 L828.6 1841.1 L829.6 1841.3 L830.6 1840.4 L831.6 1840.1 L832.6 1840.6 L833.6 1841.5 L834.6 1841.5 L835.6 1841.5 L836.6 1841.5 L837.6 1841.5 L838.6 1841.5 L839.6 1841.7 L840.6 1841.7 L841.6 1841.6 L842.6 1841.5 L843.6 1841.2 L844.6 1841.2 L845.6 1841.3 L846.6 1841.7 L847.6 1841.9 L848.6 1841.8 L849.6 1841.2 L850.6 1841.1 L851.6 1841.6 L852.6 1841.9 L853.6 1842.1 L854.6 1842.0 L855.6 1841.9 L856.6 1841.4 L857.6 1841.4 L858.6 1841.3 L859.6 1841.4 L860.6 1841.2 L861.6 1841.7 L862.6 1841.6 L863.6 1841.8 L864.6 1841.8 L865.6 1841.8 L866.6 1841.7 L867.6 1841.4 L868.6 1841.8 L869.6 1842.0 L870.6 1842.1 L871.6 1842.0 L872.6 1841.8 L873.6 1841.8 L874.6 1841.8 L875.6 1841.8 L876.6 1841.8 L877.6 1841.5 L878.6 1841.1 L879.6 1841.1 L880.6 1841.5 L881.6 1842.0 L882.6 1841.3 L883.6 1840.9 L884.6 1840.6 L885.6 1840.5 L886.6 1839.3 L887.6 1837.3 L888.6 1834.6 L889.6 1831.1 L890.6 1826.5 L891.6 1820.6 L892.6 1814.9 L893.6 1809.9 L894.6 1805.5 L895.6 1801.9 L896.6 1800.2 L897.6 1800.3 L898.6 1802.5 L899.6 1806.4 L900.6 1811.2 L901.6 1816.6 L902.6 1822.2 L903.6 1827.3 L904.6 1831.8 L905.6 1835.1 L906.6 1837.8 L907.6 1839.7 L908.6 1840.6 L909.6 1840.6 L910.6 1840.8 L911.6 1841.4 L912.6 1841.9 L913.6 1842.3 L914.6 1842.3 L915.6 1842.3 L916.6 1841.9 L917.6 1841.8 L918.6 1841.7 L919.6 1841.9 L920.6 1842.3 L921.6 1842.3 L922.6 1842.4 L923.6 1842.3 L924.6 1841.8 L925.6 1841.4 L926.6 1841.3 L927.6 1841.9 L928.6 1841.8 L929.6 1841.8 L930.6 1841.6 L931.6 1841.4 L932.6 1841.2 L933.6 1841.6 L934.6 1841.9 L935.6 1842.1 L936.6 1842.2 L937.6 1842.3 L938.6 1841.9 L939.6 1841.8 L940.6 1841.8 L941.6 1842.0 L942.6 1841.7 L943.6 1841.5 L944.6 1841.7 L945.6 1842.2 L946.6 1842.5 L947.6 1842.2 L948.6 1841.9 L949.6 1841.5 L950.6 1841.4 L951.6 1841.2 L952.6 1841.9 L953.6 1842.3 L954.6 1842.5 L955.6 1842.0 L956.6 1842.1 L957.6 1842.1 L958.6 1842.2 L959.6 1842.2 L960.6 1842.3 L961.6 1842.2 L962.6 1841.6 L963.6 1841.6 L964.6 1841.3 L965.6 1841.6 L966.6 1841.7 L967.6 1842.2 L968.6 1842.7 L969.6 1842.2 L970.6 1841.8 L971.6 1841.4 L972.6 1842.1 L973.6 1842.2 L974.6 1842.2 L975.6 1841.9 L976.6 1841.7 L977.6 1841.7 L978.6 1841.6 L979.6 1841.8 L980.6 1841.8 L981.6 1842.1 L982.6 1841.7 L983.6 1841.8 L984.6 1841.8 L985.6 1842.2 L986.6 1842.4 L987.6 1842.4 L988.6 1842.1 L989.6 1841.9 L990.6 1842.4 L991.6 1842.2 L992.6 1842.1 L993.6 1841.9 L994.6 1841.8 L995.6 1841.6 L996.6 1841.5 L997.6 1842.0 L998.6 1842.0 L999.6 1842.2 L1000.6 1842.0 L1001.6 1842.2 L1002.6 1841.7 L1003.6 1841.5 L1004.6 1841.4 L1005.6 1841.7 L1006.6 1841.4 L1007.6 1841.3 L1008.6 1841.8 L1009.6 1842.3 L1010.6 1842.2 L1011.6 1842.1 L1012.6 1842.0 L1013.6 1842.2 L1014.6 1842.5 L1015.6 1842.6" stroke="#67a044"/>
</g>
<rect x="257.0" y="1614.5" width="756.8" height="539.8000000000002" fill="none" stroke="#000" stroke-width="1.8"/>
<path d="M257.00 2154.30H267.00M257.00 2095.38H267.00M257.00 2036.45H267.00M257.00 1977.53H267.00M257.00 1918.60H267.00M257.00 1859.68H267.00M257.00 1800.75H267.00M257.00 1741.83H267.00M257.00 1682.90H267.00M257.00 1623.98H267.00M365.45 2154.30V2144.30M473.90 2154.30V2144.30M582.35 2154.30V2144.30M690.80 2154.30V2144.30M799.25 2154.30V2144.30M907.70 2154.30V2144.30" stroke="#000" stroke-width="1.8"/>
<g font-size="36" fill="#000">
<text x="227" y="2166.9" text-anchor="end">0</text>
<text x="140.2" y="2052.1" textLength="83.6" lengthAdjust="spacingAndGlyphs">1×10</text>
<text x="227.3" y="2040.3" font-size="24">3</text>
<text x="140.2" y="1934.2" textLength="83.6" lengthAdjust="spacingAndGlyphs">2×10</text>
<text x="227.3" y="1922.4" font-size="24">3</text>
<text x="140.2" y="1816.4" textLength="83.6" lengthAdjust="spacingAndGlyphs">3×10</text>
<text x="227.3" y="1804.6" font-size="24">3</text>
<text x="140.2" y="1698.5" textLength="83.6" lengthAdjust="spacingAndGlyphs">4×10</text>
<text x="227.3" y="1686.7" font-size="24">3</text>
<text x="258.0" y="2212" text-anchor="middle">0.2</text>
<text x="366.4" y="2212" text-anchor="middle">0.4</text>
<text x="474.9" y="2212" text-anchor="middle">0.6</text>
<text x="583.4" y="2212" text-anchor="middle">0.8</text>
<text x="691.8" y="2212" text-anchor="middle">1</text>
<text x="800.2" y="2212" text-anchor="middle">1.2</text>
<text x="908.7" y="2212" text-anchor="middle">1.4</text>
<text x="1017.2" y="2212" text-anchor="middle">1.6</text>
</g>
<text font-size="40" transform="translate(109.1 2041) rotate(-90)">Intensity (cps)</text>
<text x="608.5" y="2266.5" font-size="37"><tspan font-style="italic">q</tspan><tspan font-size="25" dy="5">z</tspan><tspan dy="-5"> (Å</tspan><tspan font-size="25" dy="-15">−1</tspan><tspan dy="15">)</tspan></text>
<text x="79.5" y="1624.3" font-size="46">(g)</text>
<path d="M573.0 1657.0H627.0" stroke="#4a86c3" stroke-width="4.4" stroke-linecap="round"/>
<text x="633.5" y="1670.5" font-size="35.5">0.22 g/L</text>
<path d="M798.0 1657.0H852.0" stroke="#d5702f" stroke-width="4.4" stroke-linecap="round"/>
<text x="858.5" y="1670.5" font-size="35.5">0.44 g/L</text>
<path d="M573.0 1704.6H627.0" stroke="#979797" stroke-width="4.4" stroke-linecap="round"/>
<text x="633.5" y="1718.1" font-size="35.5">0.66 g/L</text>
<path d="M798.0 1704.6H852.0" stroke="#e5ab0e" stroke-width="4.4" stroke-linecap="round"/>
<text x="858.5" y="1718.1" font-size="35.5">0.88 g/L</text>
<path d="M573.0 1752.2H627.0" stroke="#3f68b5" stroke-width="4.4" stroke-linecap="round"/>
<text x="633.5" y="1765.7" font-size="35.5">1.31 g/L</text>
<path d="M798.0 1752.2H852.0" stroke="#67a044" stroke-width="4.4" stroke-linecap="round"/>
<text x="858.5" y="1765.7" font-size="35.5">1.75 g/L</text>
</svg>
</body></html>
